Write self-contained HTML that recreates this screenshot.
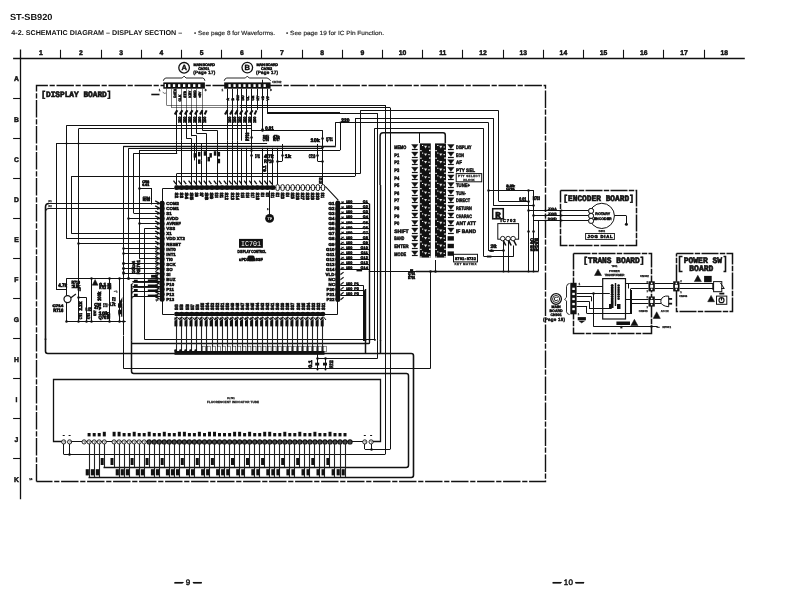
<!DOCTYPE html>
<html><head><meta charset="utf-8"><title>ST-SB920 Schematic Diagram - Display Section</title>
<style>
html,body{margin:0;padding:0;background:#fff;}
body{width:793px;height:596px;overflow:hidden;}
svg{display:block;will-change:transform;}
text{text-rendering:geometricPrecision;}
.s{font-family:"Liberation Sans",sans-serif;}
.m{font-family:"Liberation Mono",monospace;}
</style></head><body>
<svg width="793" height="596" viewBox="0 0 793 596">
<text x="9.9" y="20.2" font-size="8.8" font-weight="bold" text-anchor="start" class="s" fill="#111" stroke="#111" stroke-width="0" textLength="42.6" lengthAdjust="spacingAndGlyphs">ST-SB920</text>
<text x="11.3" y="34.9" font-size="7.0" font-weight="bold" text-anchor="start" class="s" fill="#111" stroke="#111" stroke-width="0" textLength="171" lengthAdjust="spacingAndGlyphs">4-2.  SCHEMATIC DIAGRAM  – DISPLAY SECTION –</text>
<text x="194.0" y="34.7" font-size="6.0" font-weight="normal" text-anchor="start" class="s" fill="#222" stroke="#222" stroke-width="0.15" textLength="81" lengthAdjust="spacingAndGlyphs">• See page 8 for Waveforms.</text>
<text x="286.0" y="34.7" font-size="6.0" font-weight="normal" text-anchor="start" class="s" fill="#222" stroke="#222" stroke-width="0.15" textLength="98" lengthAdjust="spacingAndGlyphs">• See page 19 for IC Pin Function.</text>
<path d="M13.1 58.5L744.8 58.5" stroke="#111" stroke-width="1.3" fill="none" />
<path d="M20.5 49.6L20.5 499.2" stroke="#111" stroke-width="1.3" fill="none" />
<path d="M60.5 49.8L60.5 58.2" stroke="#111" stroke-width="1.1" fill="none" />
<path d="M101.5 49.8L101.5 58.2" stroke="#111" stroke-width="1.1" fill="none" />
<path d="M141.5 49.8L141.5 58.2" stroke="#111" stroke-width="1.1" fill="none" />
<path d="M181.5 49.8L181.5 58.2" stroke="#111" stroke-width="1.1" fill="none" />
<path d="M221.5 49.8L221.5 58.2" stroke="#111" stroke-width="1.1" fill="none" />
<path d="M261.5 49.8L261.5 58.2" stroke="#111" stroke-width="1.1" fill="none" />
<path d="M302.5 49.8L302.5 58.2" stroke="#111" stroke-width="1.1" fill="none" />
<path d="M342.5 49.8L342.5 58.2" stroke="#111" stroke-width="1.1" fill="none" />
<path d="M382.5 49.8L382.5 58.2" stroke="#111" stroke-width="1.1" fill="none" />
<path d="M422.5 49.8L422.5 58.2" stroke="#111" stroke-width="1.1" fill="none" />
<path d="M462.5 49.8L462.5 58.2" stroke="#111" stroke-width="1.1" fill="none" />
<path d="M503.5 49.8L503.5 58.2" stroke="#111" stroke-width="1.1" fill="none" />
<path d="M543.5 49.8L543.5 58.2" stroke="#111" stroke-width="1.1" fill="none" />
<path d="M583.5 49.8L583.5 58.2" stroke="#111" stroke-width="1.1" fill="none" />
<path d="M623.5 49.8L623.5 58.2" stroke="#111" stroke-width="1.1" fill="none" />
<path d="M663.5 49.8L663.5 58.2" stroke="#111" stroke-width="1.1" fill="none" />
<path d="M704.5 49.8L704.5 58.2" stroke="#111" stroke-width="1.1" fill="none" />
<text x="40.8" y="55.2" font-size="6.8" font-weight="bold" text-anchor="middle" class="s" fill="#111" stroke="#111" stroke-width="0.45" >1</text>
<text x="81.0" y="55.2" font-size="6.8" font-weight="bold" text-anchor="middle" class="s" fill="#111" stroke="#111" stroke-width="0.45" >2</text>
<text x="121.2" y="55.2" font-size="6.8" font-weight="bold" text-anchor="middle" class="s" fill="#111" stroke="#111" stroke-width="0.45" >3</text>
<text x="161.4" y="55.2" font-size="6.8" font-weight="bold" text-anchor="middle" class="s" fill="#111" stroke="#111" stroke-width="0.45" >4</text>
<text x="201.6" y="55.2" font-size="6.8" font-weight="bold" text-anchor="middle" class="s" fill="#111" stroke="#111" stroke-width="0.45" >5</text>
<text x="241.8" y="55.2" font-size="6.8" font-weight="bold" text-anchor="middle" class="s" fill="#111" stroke="#111" stroke-width="0.45" >6</text>
<text x="282.0" y="55.2" font-size="6.8" font-weight="bold" text-anchor="middle" class="s" fill="#111" stroke="#111" stroke-width="0.45" >7</text>
<text x="322.2" y="55.2" font-size="6.8" font-weight="bold" text-anchor="middle" class="s" fill="#111" stroke="#111" stroke-width="0.45" >8</text>
<text x="362.4" y="55.2" font-size="6.8" font-weight="bold" text-anchor="middle" class="s" fill="#111" stroke="#111" stroke-width="0.45" >9</text>
<text x="402.6" y="55.2" font-size="6.8" font-weight="bold" text-anchor="middle" class="s" fill="#111" stroke="#111" stroke-width="0.45" >10</text>
<text x="442.8" y="55.2" font-size="6.8" font-weight="bold" text-anchor="middle" class="s" fill="#111" stroke="#111" stroke-width="0.45" >11</text>
<text x="483.0" y="55.2" font-size="6.8" font-weight="bold" text-anchor="middle" class="s" fill="#111" stroke="#111" stroke-width="0.45" >12</text>
<text x="523.2" y="55.2" font-size="6.8" font-weight="bold" text-anchor="middle" class="s" fill="#111" stroke="#111" stroke-width="0.45" >13</text>
<text x="563.4" y="55.2" font-size="6.8" font-weight="bold" text-anchor="middle" class="s" fill="#111" stroke="#111" stroke-width="0.45" >14</text>
<text x="603.6" y="55.2" font-size="6.8" font-weight="bold" text-anchor="middle" class="s" fill="#111" stroke="#111" stroke-width="0.45" >15</text>
<text x="643.8" y="55.2" font-size="6.8" font-weight="bold" text-anchor="middle" class="s" fill="#111" stroke="#111" stroke-width="0.45" >16</text>
<text x="684.0" y="55.2" font-size="6.8" font-weight="bold" text-anchor="middle" class="s" fill="#111" stroke="#111" stroke-width="0.45" >17</text>
<text x="724.2" y="55.2" font-size="6.8" font-weight="bold" text-anchor="middle" class="s" fill="#111" stroke="#111" stroke-width="0.45" >18</text>
<path d="M13.1 98.5L20.7 98.5" stroke="#111" stroke-width="1.1" fill="none" />
<path d="M13.1 138.5L20.7 138.5" stroke="#111" stroke-width="1.1" fill="none" />
<path d="M13.1 178.5L20.7 178.5" stroke="#111" stroke-width="1.1" fill="none" />
<path d="M13.1 218.5L20.7 218.5" stroke="#111" stroke-width="1.1" fill="none" />
<path d="M13.1 258.5L20.7 258.5" stroke="#111" stroke-width="1.1" fill="none" />
<path d="M13.1 298.5L20.7 298.5" stroke="#111" stroke-width="1.1" fill="none" />
<path d="M13.1 338.5L20.7 338.5" stroke="#111" stroke-width="1.1" fill="none" />
<path d="M13.1 378.5L20.7 378.5" stroke="#111" stroke-width="1.1" fill="none" />
<path d="M13.1 418.5L20.7 418.5" stroke="#111" stroke-width="1.1" fill="none" />
<path d="M13.1 458.5L20.7 458.5" stroke="#111" stroke-width="1.1" fill="none" />
<text x="16.4" y="81.4" font-size="6.8" font-weight="bold" text-anchor="middle" class="s" fill="#111" stroke="#111" stroke-width="0.45" >A</text>
<text x="16.4" y="121.5" font-size="6.8" font-weight="bold" text-anchor="middle" class="s" fill="#111" stroke="#111" stroke-width="0.45" >B</text>
<text x="16.4" y="161.6" font-size="6.8" font-weight="bold" text-anchor="middle" class="s" fill="#111" stroke="#111" stroke-width="0.45" >C</text>
<text x="16.4" y="201.7" font-size="6.8" font-weight="bold" text-anchor="middle" class="s" fill="#111" stroke="#111" stroke-width="0.45" >D</text>
<text x="16.4" y="241.8" font-size="6.8" font-weight="bold" text-anchor="middle" class="s" fill="#111" stroke="#111" stroke-width="0.45" >E</text>
<text x="16.4" y="281.8" font-size="6.8" font-weight="bold" text-anchor="middle" class="s" fill="#111" stroke="#111" stroke-width="0.45" >F</text>
<text x="16.4" y="321.9" font-size="6.8" font-weight="bold" text-anchor="middle" class="s" fill="#111" stroke="#111" stroke-width="0.45" >G</text>
<text x="16.4" y="362.0" font-size="6.8" font-weight="bold" text-anchor="middle" class="s" fill="#111" stroke="#111" stroke-width="0.45" >H</text>
<text x="16.4" y="402.1" font-size="6.8" font-weight="bold" text-anchor="middle" class="s" fill="#111" stroke="#111" stroke-width="0.45" >I</text>
<text x="16.4" y="442.2" font-size="6.8" font-weight="bold" text-anchor="middle" class="s" fill="#111" stroke="#111" stroke-width="0.45" >J</text>
<text x="16.4" y="482.2" font-size="6.8" font-weight="bold" text-anchor="middle" class="s" fill="#111" stroke="#111" stroke-width="0.45" >K</text>
<text x="188.1" y="584.8" font-size="8" font-weight="normal" text-anchor="middle" class="s" fill="#111" stroke="#111" stroke-width="0.45" textLength="27">— 9 —</text>
<path d="M174.6 582.5L183.6 582.5" stroke="#111" stroke-width="1.1" fill="none" />
<path d="M192.8 582.5L201.8 582.5" stroke="#111" stroke-width="1.1" fill="none" />
<text x="568.3" y="584.8" font-size="8" font-weight="normal" text-anchor="middle" class="s" fill="#111" stroke="#111" stroke-width="0.45" textLength="31">— 10 —</text>
<path d="M552.7 582.5L561.7 582.5" stroke="#111" stroke-width="1.1" fill="none" />
<path d="M575.2 582.5L584.2 582.5" stroke="#111" stroke-width="1.1" fill="none" />
<path d="M36.5 481.5L36.5 85.5L545.5 85.5L545.5 481.5L36.5 481.5" stroke="#111" stroke-width="1.4" fill="none" stroke-dasharray="17.4 1.7 5.2 1.7"/>
<text x="41.3" y="97.2" font-size="7.8" font-weight="bold" class="m" fill="#111" stroke="#111" stroke-width="0.6" transform="translate(0 97.2) scale(1 1.08) translate(0 -97.2)">[DISPLAY BOARD]</text>
<rect x="163.3" y="82.4" width="41.6" height="6.3" fill="#111" stroke="none" stroke-width="0" rx="0"/>
<rect x="168.1" y="84.2" width="2.3" height="2.8" fill="#fff" stroke="none" stroke-width="0" rx="0"/>
<rect x="172.9" y="84.2" width="2.3" height="2.8" fill="#fff" stroke="none" stroke-width="0" rx="0"/>
<rect x="178.0" y="84.2" width="2.3" height="2.8" fill="#fff" stroke="none" stroke-width="0" rx="0"/>
<rect x="183.0" y="84.2" width="2.3" height="2.8" fill="#fff" stroke="none" stroke-width="0" rx="0"/>
<rect x="188.0" y="84.2" width="2.3" height="2.8" fill="#fff" stroke="none" stroke-width="0" rx="0"/>
<rect x="193.1" y="84.2" width="2.3" height="2.8" fill="#fff" stroke="none" stroke-width="0" rx="0"/>
<rect x="198.1" y="84.2" width="2.3" height="2.8" fill="#fff" stroke="none" stroke-width="0" rx="0"/>
<rect x="164.7" y="84.0" width="1.3" height="3.2" fill="#fff" stroke="none" stroke-width="0" rx="0"/>
<path d="M163.3 80.8L164.2 78.9L165.9 78.0L182.2 78.0L184.1 76.1L186.0 78.0L202.8 78.0L204.3 78.9L204.9 80.8" stroke="#111" stroke-width="0.9" fill="none" />
<circle cx="184.1" cy="67.8" r="5.30" fill="#fff" stroke="#111" stroke-width="1.3"/>
<text x="184.1" y="70.3" font-size="7.5" font-weight="bold" text-anchor="middle" class="s" fill="#111" stroke="#111" stroke-width="0.4" >A</text>
<text x="193.6" y="65.7" font-size="3.8" font-weight="bold" text-anchor="start" class="s" fill="#111" stroke="#111" stroke-width="0.45" textLength="21.5">MAIN BOARD</text>
<text x="198.3" y="69.5" font-size="3.8" font-weight="bold" text-anchor="start" class="s" fill="#111" stroke="#111" stroke-width="0.45" textLength="11">CN701</text>
<text x="193.2" y="74.4" font-size="4.6" font-weight="bold" text-anchor="start" class="s" fill="#111" stroke="#111" stroke-width="0.4" textLength="22">(Page 17)</text>
<path d="M166.5 88.8L166.5 105.1" stroke="#111" stroke-width="0.55" fill="none" />
<path d="M166.5 105.5L240.0 105.5" stroke="#111" stroke-width="0.55" fill="none" />
<path d="M171.5 88.8L171.5 107.9" stroke="#111" stroke-width="0.55" fill="none" />
<path d="M171.5 107.5L240.0 107.5" stroke="#111" stroke-width="0.55" fill="none" />
<path d="M176.5 88.8L176.5 109.9" stroke="#111" stroke-width="0.55" fill="none" />
<path d="M181.5 88.8L181.5 109.9" stroke="#111" stroke-width="0.55" fill="none" />
<path d="M186.5 88.8L186.5 109.9" stroke="#111" stroke-width="0.55" fill="none" />
<path d="M191.5 88.8L191.5 109.9" stroke="#111" stroke-width="0.55" fill="none" />
<path d="M196.5 88.8L196.5 109.9" stroke="#111" stroke-width="0.55" fill="none" />
<path d="M202.5 88.8L202.5 109.9" stroke="#111" stroke-width="0.55" fill="none" />
<text x="159.5" y="90.9" font-size="3" font-weight="bold" text-anchor="middle" class="s" fill="#111" stroke="#111" stroke-width="0.25" >1</text>
<text x="205.6" y="90.9" font-size="3" font-weight="bold" text-anchor="middle" class="s" fill="#111" stroke="#111" stroke-width="0.25" >8</text>
<path d="M151.3 94.5L159.5 94.5" stroke="#111" stroke-width="1.6" fill="none" />
<path d="M162.7 92.2L164.6 93.4L165.9 93.0" stroke="#111" stroke-width="0.6" fill="none" />
<text transform="translate(175.8 97.8) rotate(-90)" font-size="3.4" font-weight="bold" class="s" fill="#111" stroke="#111" stroke-width="0.6">DATA</text>
<text transform="translate(180.9 101.6) rotate(-90)" font-size="3.4" font-weight="bold" class="s" fill="#111" stroke="#111" stroke-width="0.6">CLK</text>
<text transform="translate(185.9 97.8) rotate(-90)" font-size="3.4" font-weight="bold" class="s" fill="#111" stroke="#111" stroke-width="0.6">STB</text>
<text transform="translate(190.9 97.8) rotate(-90)" font-size="3.4" font-weight="bold" class="s" fill="#111" stroke="#111" stroke-width="0.6">KEY</text>
<text transform="translate(196.0 97.8) rotate(-90)" font-size="3.4" font-weight="bold" class="s" fill="#111" stroke="#111" stroke-width="0.6">GND</text>
<text transform="translate(201.0 97.8) rotate(-90)" font-size="3.4" font-weight="bold" class="s" fill="#111" stroke="#111" stroke-width="0.6">+5V</text>
<path d="M176.5 109.9L176.5 140.7" stroke="#111" stroke-width="1.0" fill="none" />
<path d="M174.8 114.5L177.3 110.2" stroke="#111" stroke-width="2.2" fill="none" />
<text transform="translate(180.6 123.1) rotate(-90)" font-size="4.0" font-weight="bold" class="s" fill="#111" stroke="#111" stroke-width="0.6">100</text>
<path d="M181.5 109.9L181.5 140.7" stroke="#111" stroke-width="1.0" fill="none" />
<path d="M179.8 114.5L182.4 110.2" stroke="#111" stroke-width="2.2" fill="none" />
<text transform="translate(185.6 123.1) rotate(-90)" font-size="4.0" font-weight="bold" class="s" fill="#111" stroke="#111" stroke-width="0.6">100</text>
<path d="M186.5 109.9L186.5 138.7" stroke="#111" stroke-width="1.0" fill="none" />
<path d="M184.9 114.5L187.4 110.2" stroke="#111" stroke-width="2.2" fill="none" />
<text transform="translate(190.7 123.1) rotate(-90)" font-size="4.0" font-weight="bold" class="s" fill="#111" stroke="#111" stroke-width="0.6">100</text>
<path d="M191.5 109.9L191.5 136.2" stroke="#111" stroke-width="1.0" fill="none" />
<path d="M189.9 114.5L192.5 110.2" stroke="#111" stroke-width="2.2" fill="none" />
<text transform="translate(195.7 123.1) rotate(-90)" font-size="4.0" font-weight="bold" class="s" fill="#111" stroke="#111" stroke-width="0.6">100</text>
<path d="M196.5 109.9L196.5 133.4" stroke="#111" stroke-width="1.0" fill="none" />
<path d="M195.0 114.5L197.5 110.2" stroke="#111" stroke-width="2.2" fill="none" />
<text transform="translate(200.8 123.1) rotate(-90)" font-size="4.0" font-weight="bold" class="s" fill="#111" stroke="#111" stroke-width="0.6">100</text>
<path d="M202.5 109.9L202.5 130.5" stroke="#111" stroke-width="1.0" fill="none" />
<path d="M200.0 114.5L202.5 110.2" stroke="#111" stroke-width="2.2" fill="none" />
<text transform="translate(205.8 123.1) rotate(-90)" font-size="4.0" font-weight="bold" class="s" fill="#111" stroke="#111" stroke-width="0.6">100</text>
<path d="M204.6 114.5L206.6 110.4" stroke="#111" stroke-width="2.0" fill="none" />
<rect x="224.2" y="82.4" width="46.4" height="6.3" fill="#111" stroke="none" stroke-width="0" rx="0"/>
<rect x="228.4" y="84.2" width="2.3" height="2.8" fill="#fff" stroke="none" stroke-width="0" rx="0"/>
<rect x="233.4" y="84.2" width="2.3" height="2.8" fill="#fff" stroke="none" stroke-width="0" rx="0"/>
<rect x="238.5" y="84.2" width="2.3" height="2.8" fill="#fff" stroke="none" stroke-width="0" rx="0"/>
<rect x="243.3" y="84.2" width="2.3" height="2.8" fill="#fff" stroke="none" stroke-width="0" rx="0"/>
<rect x="248.3" y="84.2" width="2.3" height="2.8" fill="#fff" stroke="none" stroke-width="0" rx="0"/>
<rect x="253.4" y="84.2" width="2.3" height="2.8" fill="#fff" stroke="none" stroke-width="0" rx="0"/>
<rect x="258.4" y="84.2" width="2.3" height="2.8" fill="#fff" stroke="none" stroke-width="0" rx="0"/>
<rect x="263.5" y="84.2" width="2.3" height="2.8" fill="#fff" stroke="none" stroke-width="0" rx="0"/>
<path d="M224.2 80.8L225.1 78.9L226.8 78.0L245.4 78.0L247.3 76.1L249.2 78.0L267.1 78.0L269.3 79.2L270.6 80.8" stroke="#111" stroke-width="0.9" fill="none" />
<circle cx="247.3" cy="67.6" r="5.30" fill="#fff" stroke="#111" stroke-width="1.3"/>
<text x="247.3" y="70.1" font-size="7.5" font-weight="bold" text-anchor="middle" class="s" fill="#111" stroke="#111" stroke-width="0.4" >B</text>
<text x="256.4" y="65.7" font-size="3.8" font-weight="bold" text-anchor="start" class="s" fill="#111" stroke="#111" stroke-width="0.45" textLength="21.5">MAIN BOARD</text>
<text x="261.1" y="69.5" font-size="3.8" font-weight="bold" text-anchor="start" class="s" fill="#111" stroke="#111" stroke-width="0.45" textLength="11">CN702</text>
<text x="256.1" y="74.4" font-size="4.6" font-weight="bold" text-anchor="start" class="s" fill="#111" stroke="#111" stroke-width="0.4" textLength="22">(Page 17)</text>
<text x="272.2" y="83.0" font-size="3.0" font-weight="bold" text-anchor="start" class="s" fill="#111" stroke="#111" stroke-width="0.25" >CN702</text>
<text x="222.3" y="90.9" font-size="3" font-weight="bold" text-anchor="middle" class="s" fill="#111" stroke="#111" stroke-width="0.25" >1</text>
<text x="270.9" y="90.9" font-size="3" font-weight="bold" text-anchor="middle" class="s" fill="#111" stroke="#111" stroke-width="0.25" >9</text>
<text transform="translate(228.7 100.4) rotate(-90)" font-size="3.4" font-weight="bold" class="s" fill="#111" stroke="#111" stroke-width="0.6">A</text>
<text transform="translate(233.7 100.4) rotate(-90)" font-size="3.4" font-weight="bold" class="s" fill="#111" stroke="#111" stroke-width="0.6">B</text>
<text transform="translate(238.7 100.4) rotate(-90)" font-size="3.4" font-weight="bold" class="s" fill="#111" stroke="#111" stroke-width="0.6">SW</text>
<text transform="translate(243.5 100.4) rotate(-90)" font-size="3.4" font-weight="bold" class="s" fill="#111" stroke="#111" stroke-width="0.6">DO</text>
<text transform="translate(248.6 100.4) rotate(-90)" font-size="3.4" font-weight="bold" class="s" fill="#111" stroke="#111" stroke-width="0.6">CL</text>
<text transform="translate(253.6 100.4) rotate(-90)" font-size="3.4" font-weight="bold" class="s" fill="#111" stroke="#111" stroke-width="0.6">CE</text>
<text transform="translate(258.7 100.4) rotate(-90)" font-size="3.4" font-weight="bold" class="s" fill="#111" stroke="#111" stroke-width="0.6">KY</text>
<text transform="translate(263.7 100.4) rotate(-90)" font-size="3.4" font-weight="bold" class="s" fill="#111" stroke="#111" stroke-width="0.6">+B</text>
<text transform="translate(268.8 100.4) rotate(-90)" font-size="3.4" font-weight="bold" class="s" fill="#111" stroke="#111" stroke-width="0.6">VF</text>
<path d="M227.5 88.8L227.5 140.7" stroke="#111" stroke-width="1.0" fill="none" />
<path d="M225.0 114.5L227.5 110.2" stroke="#111" stroke-width="2.2" fill="none" />
<text transform="translate(230.8 123.1) rotate(-90)" font-size="4.0" font-weight="bold" class="s" fill="#111" stroke="#111" stroke-width="0.6">100</text>
<path d="M232.5 88.8L232.5 140.7" stroke="#111" stroke-width="1.0" fill="none" />
<path d="M230.0 114.5L232.6 110.2" stroke="#111" stroke-width="2.2" fill="none" />
<text transform="translate(235.8 123.1) rotate(-90)" font-size="4.0" font-weight="bold" class="s" fill="#111" stroke="#111" stroke-width="0.6">100</text>
<path d="M237.5 88.8L237.5 140.7" stroke="#111" stroke-width="1.0" fill="none" />
<path d="M235.1 114.5L237.6 110.2" stroke="#111" stroke-width="2.2" fill="none" />
<text transform="translate(240.9 123.1) rotate(-90)" font-size="4.0" font-weight="bold" class="s" fill="#111" stroke="#111" stroke-width="0.6">100</text>
<path d="M241.5 88.8L241.5 140.7" stroke="#111" stroke-width="1.0" fill="none" />
<path d="M239.9 114.5L242.4 110.2" stroke="#111" stroke-width="2.2" fill="none" />
<text transform="translate(245.7 123.1) rotate(-90)" font-size="4.0" font-weight="bold" class="s" fill="#111" stroke="#111" stroke-width="0.6">100</text>
<path d="M246.5 88.8L246.5 140.7" stroke="#111" stroke-width="1.0" fill="none" />
<path d="M244.9 114.5L247.4 110.2" stroke="#111" stroke-width="2.2" fill="none" />
<text transform="translate(250.7 123.1) rotate(-90)" font-size="4.0" font-weight="bold" class="s" fill="#111" stroke="#111" stroke-width="0.6">100</text>
<path d="M251.5 88.8L251.5 140.7" stroke="#111" stroke-width="1.0" fill="none" />
<path d="M250.0 114.5L252.5 110.2" stroke="#111" stroke-width="2.2" fill="none" />
<text transform="translate(255.8 123.1) rotate(-90)" font-size="4.0" font-weight="bold" class="s" fill="#111" stroke="#111" stroke-width="0.6">100</text>
<path d="M254.5 114.5L256.5 110.4" stroke="#111" stroke-width="2.0" fill="none" />
<path d="M257.5 88.8L257.5 109.8" stroke="#111" stroke-width="1.0" fill="none" />
<path d="M262.5 88.8L262.5 130.0" stroke="#111" stroke-width="1.0" fill="none" />
<circle cx="262.5" cy="129.5" r="1.25" fill="#111" stroke="none" stroke-width="0"/>
<path d="M267.5 88.8L267.5 113.0" stroke="#111" stroke-width="1.0" fill="none" />
<path d="M267.1 112.5L340.0 112.5" stroke="#111" stroke-width="1.0" fill="none" />
<path d="M240.0 105.5L385.5 105.5" stroke="#111" stroke-width="1.0" fill="none" />
<path d="M240.0 107.5L390.3 107.5" stroke="#111" stroke-width="1.0" fill="none" />
<path d="M66.2 125.5L140.0 125.5" stroke="#111" stroke-width="1.0" fill="none" />
<path d="M66.5 125.8L66.5 185.0" stroke="#111" stroke-width="1.0" fill="none" />
<path d="M78.8 128.5L140.0 128.5" stroke="#111" stroke-width="1.0" fill="none" />
<path d="M78.5 128.5L78.5 185.0" stroke="#111" stroke-width="1.0" fill="none" />
<path d="M56.1 143.5L140.0 143.5" stroke="#111" stroke-width="1.0" fill="none" />
<path d="M56.5 143.4L56.5 185.0" stroke="#111" stroke-width="1.0" fill="none" />
<path d="M123.2 146.5L140.0 146.5" stroke="#111" stroke-width="1.3" fill="none" />
<path d="M123.5 146.3L123.5 185.0" stroke="#111" stroke-width="1.0" fill="none" />
<path d="M128.3 148.5L140.0 148.5" stroke="#111" stroke-width="1.0" fill="none" />
<path d="M128.5 148.5L128.5 185.0" stroke="#111" stroke-width="1.0" fill="none" />
<path d="M139.0 150.5L140.0 150.5" stroke="#111" stroke-width="1.0" fill="none" />
<path d="M133.3 153.5L140.0 153.5" stroke="#111" stroke-width="1.0" fill="none" />
<path d="M133.5 153.5L133.5 185.0" stroke="#111" stroke-width="1.0" fill="none" />
<path d="M71.3 176.5L140.0 176.5" stroke="#111" stroke-width="1.0" fill="none" />
<path d="M71.5 176.2L71.5 185.0" stroke="#111" stroke-width="1.0" fill="none" />
<circle cx="66.5" cy="143.5" r="1.00" fill="#111" stroke="none" stroke-width="0"/>
<circle cx="78.5" cy="143.5" r="1.00" fill="#111" stroke="none" stroke-width="0"/>
<path d="M140.0 125.5L240.0 125.5" stroke="#111" stroke-width="1.0" fill="none" />
<path d="M140.0 128.5L240.0 128.5" stroke="#111" stroke-width="1.0" fill="none" />
<path d="M140.0 143.5L240.0 143.5" stroke="#111" stroke-width="1.0" fill="none" />
<path d="M140.0 146.5L240.0 146.5" stroke="#111" stroke-width="1.3" fill="none" />
<path d="M140.0 148.5L240.0 148.5" stroke="#111" stroke-width="1.0" fill="none" />
<path d="M140.0 150.5L240.0 150.5" stroke="#111" stroke-width="1.0" fill="none" />
<path d="M140.0 153.5L177.2 153.5" stroke="#111" stroke-width="1.0" fill="none" />
<path d="M176.5 140.6L176.5 153.5" stroke="#111" stroke-width="1.0" fill="none" />
<path d="M181.5 140.6L181.5 185.0" stroke="#111" stroke-width="1.0" fill="none" />
<path d="M186.5 138.5L191.5 138.5L191.5 185.5" stroke="#111" stroke-width="1.0" fill="none" />
<path d="M191.5 135.5L196.5 135.5L196.5 185.5" stroke="#111" stroke-width="1.0" fill="none" />
<path d="M196.5 133.5L206.5 133.5L206.5 185.5" stroke="#111" stroke-width="1.0" fill="none" />
<path d="M202.5 130.5L217.5 130.5L217.5 185.5" stroke="#111" stroke-width="1.0" fill="none" />
<path d="M194.5 143.4L194.5 160.4" stroke="#111" stroke-width="1.0" fill="none" />
<path d="M201.5 143.4L201.5 160.4" stroke="#111" stroke-width="1.0" fill="none" />
<path d="M176.6 173.5L240.0 173.5" stroke="#111" stroke-width="1.0" fill="none" />
<path d="M176.5 173.7L176.5 185.0" stroke="#111" stroke-width="1.0" fill="none" />
<path d="M140.0 176.5L240.0 176.5" stroke="#111" stroke-width="1.0" fill="none" />
<path d="M201.5 160.4L201.5 185.0" stroke="#111" stroke-width="1.0" fill="none" />
<path d="M227.5 140.6L227.5 185.0" stroke="#111" stroke-width="1.0" fill="none" />
<path d="M232.5 140.6L232.5 185.0" stroke="#111" stroke-width="1.0" fill="none" />
<path d="M237.5 140.6L237.5 185.0" stroke="#111" stroke-width="1.0" fill="none" />
<rect x="193.6" y="153.1" width="2.5" height="4.5" fill="#111" stroke="none" stroke-width="0" rx="0"/>
<rect x="198.0" y="151.9" width="2.5" height="4.5" fill="#111" stroke="none" stroke-width="0" rx="0"/>
<rect x="203.7" y="151.2" width="2.5" height="4.5" fill="#111" stroke="none" stroke-width="0" rx="0"/>
<rect x="209.4" y="153.1" width="2.5" height="4.5" fill="#111" stroke="none" stroke-width="0" rx="0"/>
<rect x="213.8" y="151.2" width="2.5" height="4.5" fill="#111" stroke="none" stroke-width="0" rx="0"/>
<rect x="217.6" y="151.9" width="2.5" height="4.5" fill="#111" stroke="none" stroke-width="0" rx="0"/>
<rect x="198.0" y="159.4" width="2.5" height="4.5" fill="#111" stroke="none" stroke-width="0" rx="0"/>
<rect x="207.5" y="156.9" width="2.5" height="4.5" fill="#111" stroke="none" stroke-width="0" rx="0"/>
<rect x="217.6" y="158.8" width="2.5" height="4.5" fill="#111" stroke="none" stroke-width="0" rx="0"/>
<path d="M267.1 113.5L340.0 113.5" stroke="#111" stroke-width="1.0" fill="none" />
<path d="M262.5 79.7L262.5 130.2" stroke="#111" stroke-width="1.0" fill="none" />
<path d="M252.0 130.5L322.6 130.5" stroke="#111" stroke-width="1.0" fill="none" />
<path d="M251.5 130.2L251.5 151.0" stroke="#111" stroke-width="1.0" fill="none" />
<path d="M322.5 130.2L322.5 185.0" stroke="#111" stroke-width="1.0" fill="none" />
<circle cx="262.5" cy="130.5" r="1.25" fill="#111" stroke="none" stroke-width="0"/>
<circle cx="251.5" cy="137.5" r="1.25" fill="#111" stroke="none" stroke-width="0"/>
<circle cx="322.5" cy="138.5" r="1.25" fill="#111" stroke="none" stroke-width="0"/>
<circle cx="322.5" cy="147.5" r="1.25" fill="#111" stroke="none" stroke-width="0"/>
<circle cx="322.5" cy="161.5" r="1.25" fill="#111" stroke="none" stroke-width="0"/>
<circle cx="251.5" cy="150.5" r="1.25" fill="#111" stroke="none" stroke-width="0"/>
<circle cx="251.5" cy="155.5" r="1.25" fill="#111" stroke="none" stroke-width="0"/>
<circle cx="266.5" cy="155.5" r="1.25" fill="#111" stroke="none" stroke-width="0"/>
<circle cx="272.5" cy="155.5" r="1.25" fill="#111" stroke="none" stroke-width="0"/>
<circle cx="282.5" cy="155.5" r="1.25" fill="#111" stroke="none" stroke-width="0"/>
<circle cx="317.5" cy="155.5" r="1.25" fill="#111" stroke="none" stroke-width="0"/>
<circle cx="277.5" cy="161.5" r="1.25" fill="#111" stroke="none" stroke-width="0"/>
<text x="265.2" y="129.7" font-size="5.2" font-weight="bold" class="s" fill="#111" stroke="#111" stroke-width="0.7" textLength="8.6" lengthAdjust="spacingAndGlyphs">0.01</text>
<path d="M335.2 122.5L340.0 122.5" stroke="#111" stroke-width="1.0" fill="none" />
<path d="M335.5 122.6L335.5 145.9" stroke="#111" stroke-width="1.0" fill="none" />
<path d="M240.0 143.5L267.1 143.5" stroke="#111" stroke-width="1.0" fill="none" />
<path d="M240.0 146.5L335.8 146.5" stroke="#111" stroke-width="1.3" fill="none" />
<path d="M240.0 148.5L322.6 148.5" stroke="#111" stroke-width="1.0" fill="none" />
<path d="M240.0 150.5L340.0 150.5" stroke="#111" stroke-width="1.0" fill="none" />
<path d="M240.0 173.5L340.0 173.5" stroke="#111" stroke-width="1.0" fill="none" />
<path d="M240.0 176.5L340.0 176.5" stroke="#111" stroke-width="1.0" fill="none" />
<path d="M241.5 147.8L241.5 185.0" stroke="#111" stroke-width="1.0" fill="none" />
<path d="M246.5 147.8L246.5 185.0" stroke="#111" stroke-width="1.0" fill="none" />
<path d="M251.5 147.8L251.5 185.0" stroke="#111" stroke-width="1.0" fill="none" />
<path d="M262.5 147.8L262.5 185.0" stroke="#111" stroke-width="1.0" fill="none" />
<path d="M267.5 147.8L267.5 185.0" stroke="#111" stroke-width="1.0" fill="none" />
<path d="M272.5 147.8L272.5 185.0" stroke="#111" stroke-width="1.0" fill="none" />
<path d="M277.5 147.8L277.5 185.0" stroke="#111" stroke-width="1.0" fill="none" />
<path d="M282.5 144.0L282.5 161.1" stroke="#111" stroke-width="1.0" fill="none" />
<path d="M277.2 161.5L282.2 161.5" stroke="#111" stroke-width="1.0" fill="none" />
<path d="M317.5 144.0L317.5 161.1" stroke="#111" stroke-width="1.0" fill="none" />
<path d="M317.6 161.5L322.6 161.5" stroke="#111" stroke-width="1.0" fill="none" />
<text transform="translate(248.7 140.9) rotate(-90)" font-size="5.0" font-weight="bold" class="s" fill="#111" stroke="#111" stroke-width="0.7" textLength="8.2" lengthAdjust="spacingAndGlyphs">R703</text>
<text x="262.7" y="137.9" font-size="4.3" font-weight="bold" class="s" fill="#111" stroke="#111" stroke-width="0.7" textLength="6.3" lengthAdjust="spacingAndGlyphs">100k</text>
<text x="262.7" y="141.3" font-size="4.3" font-weight="bold" class="s" fill="#111" stroke="#111" stroke-width="0.7" textLength="6.3" lengthAdjust="spacingAndGlyphs">C705</text>
<text x="273.0" y="137.9" font-size="4.3" font-weight="bold" class="s" fill="#111" stroke="#111" stroke-width="0.7" textLength="6.7" lengthAdjust="spacingAndGlyphs">47p</text>
<text x="273.0" y="141.3" font-size="4.3" font-weight="bold" class="s" fill="#111" stroke="#111" stroke-width="0.7" textLength="6.7" lengthAdjust="spacingAndGlyphs">R707</text>
<text x="310.6" y="142.3" font-size="5.2" font-weight="bold" class="s" fill="#111" stroke="#111" stroke-width="0.7" textLength="9.1" lengthAdjust="spacingAndGlyphs">10k</text>
<text x="326.0" y="141.1" font-size="5.2" font-weight="bold" class="s" fill="#111" stroke="#111" stroke-width="0.7" textLength="6.7" lengthAdjust="spacingAndGlyphs">Q701</text>
<text x="255.1" y="158.3" font-size="5.2" font-weight="bold" class="s" fill="#111" stroke="#111" stroke-width="0.7" textLength="4.8" lengthAdjust="spacingAndGlyphs">D701</text>
<text x="264.0" y="158.3" font-size="5.0" font-weight="bold" class="s" fill="#111" stroke="#111" stroke-width="0.7" textLength="9.5" lengthAdjust="spacingAndGlyphs">4.7k</text>
<text x="264.0" y="163.4" font-size="5.0" font-weight="bold" class="s" fill="#111" stroke="#111" stroke-width="0.7" textLength="9.5" lengthAdjust="spacingAndGlyphs">R710</text>
<text x="284.8" y="158.3" font-size="5.2" font-weight="bold" class="s" fill="#111" stroke="#111" stroke-width="0.7" textLength="6.3" lengthAdjust="spacingAndGlyphs">1k</text>
<text x="308.7" y="158.3" font-size="5.2" font-weight="bold" class="s" fill="#111" stroke="#111" stroke-width="0.7" textLength="6.7" lengthAdjust="spacingAndGlyphs">C710</text>
<text transform="translate(266.0 171.8) rotate(-90)" font-size="4.1" font-weight="bold" class="s" fill="#111" stroke="#111" stroke-width="0.7" textLength="6.3" lengthAdjust="spacingAndGlyphs">0.1</text>
<text transform="translate(321.5 183.8) rotate(-90)" font-size="4.1" font-weight="bold" class="s" fill="#111" stroke="#111" stroke-width="0.7" textLength="6.3" lengthAdjust="spacingAndGlyphs">R712</text>
<path d="M360.2 110.5L440.0 110.5" stroke="#111" stroke-width="1.1" fill="none" />
<path d="M360.5 110.6L360.5 173.7" stroke="#111" stroke-width="1.0" fill="none" />
<path d="M340.0 173.5L360.2 173.5" stroke="#111" stroke-width="1.0" fill="none" />
<path d="M340.0 113.5L377.6 113.5" stroke="#111" stroke-width="1.0" fill="none" />
<path d="M377.5 113.2L377.5 185.0" stroke="#111" stroke-width="1.0" fill="none" />
<path d="M355.1 118.5L440.0 118.5" stroke="#111" stroke-width="1.0" fill="none" />
<path d="M355.5 118.2L355.5 176.2" stroke="#111" stroke-width="1.0" fill="none" />
<path d="M340.0 176.5L355.1 176.5" stroke="#111" stroke-width="1.0" fill="none" />
<path d="M340.0 122.5L440.0 122.5" stroke="#111" stroke-width="1.0" fill="none" />
<text x="341.3" y="122.4" font-size="5.2" font-weight="bold" class="s" fill="#111" stroke="#111" stroke-width="0.7" textLength="8.2" lengthAdjust="spacingAndGlyphs">220</text>
<path d="M374.7 128.5L440.0 128.5" stroke="#111" stroke-width="1.0" fill="none" />
<path d="M374.5 128.3L374.5 185.0" stroke="#111" stroke-width="1.0" fill="none" />
<path d="M385.5 105.1L385.5 186.0" stroke="#111" stroke-width="1.0" fill="none" />
<path d="M390.5 107.9L390.5 186.0" stroke="#111" stroke-width="1.0" fill="none" />
<path d="M340.5 122.6L340.5 150.2" stroke="#111" stroke-width="1.0" fill="none" />
<circle cx="340.5" cy="122.5" r="1.00" fill="#111" stroke="none" stroke-width="0"/>
<path d="M380.1 185.0L380.1 135.9Q380.1 132.8 383.1 132.8L440.0 132.8" stroke="#111" stroke-width="1.5" fill="none"/>
<path d="M419.5 132.8L419.5 143.0" stroke="#111" stroke-width="1.0" fill="none" />
<path d="M440.0 110.5L498.6 110.5" stroke="#111" stroke-width="1.1" fill="none" />
<path d="M498.5 110.6L498.5 185.0" stroke="#111" stroke-width="1.0" fill="none" />
<path d="M440.0 118.5L493.6 118.5" stroke="#111" stroke-width="1.0" fill="none" />
<path d="M493.5 118.2L493.5 185.0" stroke="#111" stroke-width="1.0" fill="none" />
<path d="M440.0 122.5L488.5 122.5" stroke="#111" stroke-width="1.0" fill="none" />
<path d="M488.5 122.6L488.5 185.0" stroke="#111" stroke-width="1.0" fill="none" />
<path d="M440.0 128.5L483.5 128.5" stroke="#111" stroke-width="1.0" fill="none" />
<path d="M483.5 128.3L483.5 185.0" stroke="#111" stroke-width="1.0" fill="none" />
<path d="M440.0 132.8L443.2 132.8Q445.3 132.8 445.3 135.2L445.3 143.0" stroke="#111" stroke-width="1.5" fill="none"/>
<path d="M240.0 125.5L252.0 125.5" stroke="#111" stroke-width="1.0" fill="none" />
<path d="M240.0 128.5L252.0 128.5" stroke="#111" stroke-width="1.0" fill="none" />
<path d="M45.5 340L45.5 207Q45.5 203.5 49 203.5" stroke="#111" stroke-width="1.6" fill="none"/>
<path d="M45.5 211Q46 208.5 49 208.5" stroke="#111" stroke-width="1.2" fill="none"/>
<path d="M48.6 203.5L140.0 203.5" stroke="#111" stroke-width="1.0" fill="none" />
<path d="M48.6 208.5L140.0 208.5" stroke="#111" stroke-width="1.0" fill="none" />
<text x="48.6" y="202.4" font-size="2.6" font-weight="bold" text-anchor="start" class="s" fill="#111" stroke="#111" stroke-width="0.25" >P1</text>
<text x="48.6" y="207.4" font-size="2.6" font-weight="bold" text-anchor="start" class="s" fill="#111" stroke="#111" stroke-width="0.25" >P2</text>
<path d="M56.5 185.0L56.5 260.0" stroke="#111" stroke-width="1.0" fill="none" />
<path d="M66.5 185.0L66.5 238.6" stroke="#111" stroke-width="1.0" fill="none" />
<path d="M66.2 238.5L140.0 238.5" stroke="#111" stroke-width="1.0" fill="none" />
<path d="M71.5 185.0L71.5 233.5" stroke="#111" stroke-width="1.0" fill="none" />
<path d="M71.3 233.5L140.0 233.5" stroke="#111" stroke-width="1.0" fill="none" />
<path d="M78.5 185.0L78.5 260.0" stroke="#111" stroke-width="1.0" fill="none" />
<circle cx="78.5" cy="243.5" r="1.25" fill="#111" stroke="none" stroke-width="0"/>
<path d="M78.8 243.5L140.0 243.5" stroke="#111" stroke-width="1.0" fill="none" />
<path d="M123.5 185.0L123.5 260.0" stroke="#111" stroke-width="1.0" fill="none" />
<circle cx="123.5" cy="248.5" r="1.25" fill="#111" stroke="none" stroke-width="0"/>
<circle cx="123.5" cy="253.5" r="1.25" fill="#111" stroke="none" stroke-width="0"/>
<circle cx="123.5" cy="238.5" r="0.90" fill="#111" stroke="none" stroke-width="0"/>
<path d="M123.9 248.5L140.0 248.5" stroke="#111" stroke-width="1.0" fill="none" />
<path d="M123.9 253.5L140.0 253.5" stroke="#111" stroke-width="1.0" fill="none" />
<path d="M128.5 185.0L128.5 260.0" stroke="#111" stroke-width="1.0" fill="none" />
<circle cx="128.5" cy="218.5" r="1.25" fill="#111" stroke="none" stroke-width="0"/>
<path d="M128.9 218.5L140.0 218.5" stroke="#111" stroke-width="1.0" fill="none" />
<path d="M133.5 185.0L133.5 213.4" stroke="#111" stroke-width="1.0" fill="none" />
<path d="M133.9 213.5L140.0 213.5" stroke="#111" stroke-width="1.0" fill="none" />
<path d="M174.5 188.5L162.5 188.5L162.5 314.5L174.5 314.5" stroke="#111" stroke-width="1.0" fill="none" />
<path d="M324.5 314.5L337.5 314.5L337.5 300.5" stroke="#111" stroke-width="1.0" fill="none" />
<path d="M324.5 186.5L325.8 186.9L338.2 200.1" stroke="#111" stroke-width="1.1" fill="none" />
<rect x="174.7" y="185.6" width="100.6" height="4.0" fill="#111" stroke="none" stroke-width="0" rx="0"/>
<path d="M275.0 187.5L325.0 187.5" stroke="#111" stroke-width="0.9" fill="none" />
<rect x="174.7" y="312.2" width="149.2" height="3.8" fill="#111" stroke="none" stroke-width="0" rx="0"/>
<rect x="159.9" y="200.8" width="4.4" height="100.2" fill="#111" stroke="none" stroke-width="0" rx="2"/>
<rect x="335.5" y="200.6" width="4.6" height="100.4" fill="#111" stroke="none" stroke-width="0" rx="2"/>
<text x="166.3" y="205.1" font-size="4.4" font-weight="bold" text-anchor="start" class="s" fill="#111" stroke="#111" stroke-width="0.5" >COM2</text>
<text x="158.6" y="204.1" font-size="2.6" font-weight="bold" text-anchor="end" class="s" fill="#111" stroke="#111" stroke-width="0.25" transform="rotate(-35 158.6 204.1)">1</text>
<circle cx="162.1" cy="203.5" r="2.50" fill="#111" stroke="none" stroke-width="0"/>
<text x="166.3" y="210.1" font-size="4.4" font-weight="bold" text-anchor="start" class="s" fill="#111" stroke="#111" stroke-width="0.5" >COM1</text>
<text x="158.6" y="209.1" font-size="2.6" font-weight="bold" text-anchor="end" class="s" fill="#111" stroke="#111" stroke-width="0.25" transform="rotate(-35 158.6 209.1)">2</text>
<circle cx="162.1" cy="208.5" r="2.50" fill="#111" stroke="none" stroke-width="0"/>
<text x="166.3" y="215.2" font-size="4.4" font-weight="bold" text-anchor="start" class="s" fill="#111" stroke="#111" stroke-width="0.5" >S1</text>
<text x="158.6" y="214.2" font-size="2.6" font-weight="bold" text-anchor="end" class="s" fill="#111" stroke="#111" stroke-width="0.25" transform="rotate(-35 158.6 214.2)">3</text>
<circle cx="162.1" cy="213.6" r="2.50" fill="#111" stroke="none" stroke-width="0"/>
<text x="166.3" y="220.2" font-size="4.4" font-weight="bold" text-anchor="start" class="s" fill="#111" stroke="#111" stroke-width="0.5" >AVDD</text>
<text x="158.6" y="219.2" font-size="2.6" font-weight="bold" text-anchor="end" class="s" fill="#111" stroke="#111" stroke-width="0.25" transform="rotate(-35 158.6 219.2)">4</text>
<circle cx="162.1" cy="218.6" r="2.50" fill="#111" stroke="none" stroke-width="0"/>
<text x="166.3" y="225.3" font-size="4.4" font-weight="bold" text-anchor="start" class="s" fill="#111" stroke="#111" stroke-width="0.5" >AVREF</text>
<text x="158.6" y="224.3" font-size="2.6" font-weight="bold" text-anchor="end" class="s" fill="#111" stroke="#111" stroke-width="0.25" transform="rotate(-35 158.6 224.3)">5</text>
<circle cx="162.1" cy="223.7" r="2.50" fill="#111" stroke="none" stroke-width="0"/>
<text x="166.3" y="230.3" font-size="4.4" font-weight="bold" text-anchor="start" class="s" fill="#111" stroke="#111" stroke-width="0.5" >VSS</text>
<text x="158.6" y="229.3" font-size="2.6" font-weight="bold" text-anchor="end" class="s" fill="#111" stroke="#111" stroke-width="0.25" transform="rotate(-35 158.6 229.3)">6</text>
<circle cx="162.1" cy="228.7" r="2.50" fill="#111" stroke="none" stroke-width="0"/>
<text x="166.3" y="235.4" font-size="4.4" font-weight="bold" text-anchor="start" class="s" fill="#111" stroke="#111" stroke-width="0.5" >X1</text>
<text x="158.6" y="234.4" font-size="2.6" font-weight="bold" text-anchor="end" class="s" fill="#111" stroke="#111" stroke-width="0.25" transform="rotate(-35 158.6 234.4)">7</text>
<circle cx="162.1" cy="233.8" r="2.50" fill="#111" stroke="none" stroke-width="0"/>
<text x="166.3" y="240.4" font-size="4.4" font-weight="bold" text-anchor="start" class="s" fill="#111" stroke="#111" stroke-width="0.5" >VDD  XT2</text>
<text x="158.6" y="239.4" font-size="2.6" font-weight="bold" text-anchor="end" class="s" fill="#111" stroke="#111" stroke-width="0.25" transform="rotate(-35 158.6 239.4)">8</text>
<circle cx="162.1" cy="238.8" r="2.50" fill="#111" stroke="none" stroke-width="0"/>
<text x="166.3" y="245.5" font-size="4.4" font-weight="bold" text-anchor="start" class="s" fill="#111" stroke="#111" stroke-width="0.5" >RESET</text>
<text x="158.6" y="244.5" font-size="2.6" font-weight="bold" text-anchor="end" class="s" fill="#111" stroke="#111" stroke-width="0.25" transform="rotate(-35 158.6 244.5)">9</text>
<circle cx="162.1" cy="243.9" r="2.50" fill="#111" stroke="none" stroke-width="0"/>
<text x="166.3" y="250.5" font-size="4.4" font-weight="bold" text-anchor="start" class="s" fill="#111" stroke="#111" stroke-width="0.5" >INT0</text>
<text x="158.6" y="249.5" font-size="2.6" font-weight="bold" text-anchor="end" class="s" fill="#111" stroke="#111" stroke-width="0.25" transform="rotate(-35 158.6 249.5)">10</text>
<circle cx="162.1" cy="248.9" r="2.50" fill="#111" stroke="none" stroke-width="0"/>
<text x="166.3" y="255.5" font-size="4.4" font-weight="bold" text-anchor="start" class="s" fill="#111" stroke="#111" stroke-width="0.5" >INT1</text>
<text x="158.6" y="254.5" font-size="2.6" font-weight="bold" text-anchor="end" class="s" fill="#111" stroke="#111" stroke-width="0.25" transform="rotate(-35 158.6 254.5)">11</text>
<circle cx="162.1" cy="253.9" r="2.50" fill="#111" stroke="none" stroke-width="0"/>
<text x="166.3" y="260.6" font-size="4.4" font-weight="bold" text-anchor="start" class="s" fill="#111" stroke="#111" stroke-width="0.5" >TI0</text>
<text x="158.6" y="259.6" font-size="2.6" font-weight="bold" text-anchor="end" class="s" fill="#111" stroke="#111" stroke-width="0.25" transform="rotate(-35 158.6 259.6)">12</text>
<circle cx="162.1" cy="259.0" r="2.50" fill="#111" stroke="none" stroke-width="0"/>
<text x="166.3" y="265.6" font-size="4.4" font-weight="bold" text-anchor="start" class="s" fill="#111" stroke="#111" stroke-width="0.5" >SCK</text>
<text x="158.6" y="264.6" font-size="2.6" font-weight="bold" text-anchor="end" class="s" fill="#111" stroke="#111" stroke-width="0.25" transform="rotate(-35 158.6 264.6)">13</text>
<circle cx="162.1" cy="264.0" r="2.50" fill="#111" stroke="none" stroke-width="0"/>
<text x="166.3" y="270.7" font-size="4.4" font-weight="bold" text-anchor="start" class="s" fill="#111" stroke="#111" stroke-width="0.5" >SO</text>
<text x="158.6" y="269.7" font-size="2.6" font-weight="bold" text-anchor="end" class="s" fill="#111" stroke="#111" stroke-width="0.25" transform="rotate(-35 158.6 269.7)">14</text>
<circle cx="162.1" cy="269.1" r="2.50" fill="#111" stroke="none" stroke-width="0"/>
<text x="166.3" y="275.7" font-size="4.4" font-weight="bold" text-anchor="start" class="s" fill="#111" stroke="#111" stroke-width="0.5" >SI</text>
<text x="158.6" y="274.7" font-size="2.6" font-weight="bold" text-anchor="end" class="s" fill="#111" stroke="#111" stroke-width="0.25" transform="rotate(-35 158.6 274.7)">15</text>
<circle cx="162.1" cy="274.1" r="2.50" fill="#111" stroke="none" stroke-width="0"/>
<text x="166.3" y="280.8" font-size="4.4" font-weight="bold" text-anchor="start" class="s" fill="#111" stroke="#111" stroke-width="0.5" >BUZ</text>
<text x="158.6" y="279.8" font-size="2.6" font-weight="bold" text-anchor="end" class="s" fill="#111" stroke="#111" stroke-width="0.25" transform="rotate(-35 158.6 279.8)">16</text>
<circle cx="162.1" cy="279.2" r="2.50" fill="#111" stroke="none" stroke-width="0"/>
<text x="166.3" y="285.8" font-size="4.4" font-weight="bold" text-anchor="start" class="s" fill="#111" stroke="#111" stroke-width="0.5" >P10</text>
<text x="158.6" y="284.8" font-size="2.6" font-weight="bold" text-anchor="end" class="s" fill="#111" stroke="#111" stroke-width="0.25" transform="rotate(-35 158.6 284.8)">17</text>
<circle cx="162.1" cy="284.2" r="2.50" fill="#111" stroke="none" stroke-width="0"/>
<text x="166.3" y="290.8" font-size="4.4" font-weight="bold" text-anchor="start" class="s" fill="#111" stroke="#111" stroke-width="0.5" >P11</text>
<text x="158.6" y="289.8" font-size="2.6" font-weight="bold" text-anchor="end" class="s" fill="#111" stroke="#111" stroke-width="0.25" transform="rotate(-35 158.6 289.8)">18</text>
<circle cx="162.1" cy="289.2" r="2.50" fill="#111" stroke="none" stroke-width="0"/>
<text x="166.3" y="295.9" font-size="4.4" font-weight="bold" text-anchor="start" class="s" fill="#111" stroke="#111" stroke-width="0.5" >P12</text>
<text x="158.6" y="294.9" font-size="2.6" font-weight="bold" text-anchor="end" class="s" fill="#111" stroke="#111" stroke-width="0.25" transform="rotate(-35 158.6 294.9)">19</text>
<circle cx="162.1" cy="294.3" r="2.50" fill="#111" stroke="none" stroke-width="0"/>
<text x="166.3" y="300.9" font-size="4.4" font-weight="bold" text-anchor="start" class="s" fill="#111" stroke="#111" stroke-width="0.5" >P13</text>
<text x="158.6" y="299.9" font-size="2.6" font-weight="bold" text-anchor="end" class="s" fill="#111" stroke="#111" stroke-width="0.25" transform="rotate(-35 158.6 299.9)">20</text>
<circle cx="162.1" cy="299.3" r="2.50" fill="#111" stroke="none" stroke-width="0"/>
<path d="M140.0 203.5L160.2 203.5" stroke="#111" stroke-width="1.0" fill="none" />
<path d="M140.0 208.5L160.2 208.5" stroke="#111" stroke-width="1.0" fill="none" />
<path d="M140.0 213.5L160.2 213.5" stroke="#111" stroke-width="1.0" fill="none" />
<path d="M140.0 218.5L160.2 218.5" stroke="#111" stroke-width="1.0" fill="none" />
<path d="M140.0 233.5L160.2 233.5" stroke="#111" stroke-width="1.0" fill="none" />
<path d="M140.0 238.5L160.2 238.5" stroke="#111" stroke-width="1.0" fill="none" />
<path d="M140.0 243.5L160.2 243.5" stroke="#111" stroke-width="1.0" fill="none" />
<path d="M140.0 248.5L160.2 248.5" stroke="#111" stroke-width="1.0" fill="none" />
<path d="M140.0 253.5L160.2 253.5" stroke="#111" stroke-width="1.0" fill="none" />
<path d="M140.0 258.5L160.2 258.5" stroke="#111" stroke-width="1.0" fill="none" />
<path d="M144.4 228.5L160.2 228.5" stroke="#111" stroke-width="1.0" fill="none" />
<path d="M144.5 228.5L144.5 336.3" stroke="#111" stroke-width="1.0" fill="none" />
<path d="M140.0 188.5L152.0 188.5" stroke="#111" stroke-width="1.0" fill="none" />
<path d="M151.5 188.2L151.5 202.7" stroke="#111" stroke-width="1.0" fill="none" />
<text x="142.8" y="198.5" font-size="3.3" font-weight="bold" class="s" fill="#111" stroke="#111" stroke-width="0.7" textLength="7.1" lengthAdjust="spacingAndGlyphs">C714</text>
<text x="142.8" y="201.2" font-size="3.3" font-weight="bold" class="s" fill="#111" stroke="#111" stroke-width="0.7" textLength="7.1" lengthAdjust="spacingAndGlyphs">R716</text>
<text transform="translate(175.0 192.4) rotate(90)" font-size="4.7" font-weight="bold" class="s" fill="#111" stroke="#111" stroke-width="0.65" textLength="5.5" lengthAdjust="spacingAndGlyphs">S2</text>
<circle cx="176.7" cy="187.6" r="2.35" fill="#111" stroke="none" stroke-width="0"/>
<text transform="translate(180.0 192.4) rotate(90)" font-size="4.7" font-weight="bold" class="s" fill="#111" stroke="#111" stroke-width="0.65" textLength="5.5" lengthAdjust="spacingAndGlyphs">S3</text>
<circle cx="181.7" cy="187.6" r="2.35" fill="#111" stroke="none" stroke-width="0"/>
<text transform="translate(185.1 192.4) rotate(90)" font-size="4.7" font-weight="bold" class="s" fill="#111" stroke="#111" stroke-width="0.65" textLength="6.5" lengthAdjust="spacingAndGlyphs">S4</text>
<circle cx="186.8" cy="187.6" r="2.35" fill="#111" stroke="none" stroke-width="0"/>
<text transform="translate(190.1 192.4) rotate(90)" font-size="4.7" font-weight="bold" class="s" fill="#111" stroke="#111" stroke-width="0.65" textLength="7.5" lengthAdjust="spacingAndGlyphs">S5</text>
<circle cx="191.8" cy="187.6" r="2.35" fill="#111" stroke="none" stroke-width="0"/>
<text transform="translate(195.2 192.4) rotate(90)" font-size="4.7" font-weight="bold" class="s" fill="#111" stroke="#111" stroke-width="0.65" textLength="4.5" lengthAdjust="spacingAndGlyphs">S6</text>
<circle cx="196.9" cy="187.6" r="2.35" fill="#111" stroke="none" stroke-width="0"/>
<text transform="translate(200.2 192.4) rotate(90)" font-size="4.7" font-weight="bold" class="s" fill="#111" stroke="#111" stroke-width="0.65" textLength="4.5" lengthAdjust="spacingAndGlyphs">S7</text>
<circle cx="201.9" cy="187.6" r="2.35" fill="#111" stroke="none" stroke-width="0"/>
<text transform="translate(205.3 192.4) rotate(90)" font-size="4.7" font-weight="bold" class="s" fill="#111" stroke="#111" stroke-width="0.65" textLength="7.5" lengthAdjust="spacingAndGlyphs">S8</text>
<circle cx="207.0" cy="187.6" r="2.35" fill="#111" stroke="none" stroke-width="0"/>
<text transform="translate(210.3 192.4) rotate(90)" font-size="4.7" font-weight="bold" class="s" fill="#111" stroke="#111" stroke-width="0.65" textLength="6.5" lengthAdjust="spacingAndGlyphs">S9</text>
<circle cx="212.0" cy="187.6" r="2.35" fill="#111" stroke="none" stroke-width="0"/>
<text transform="translate(215.4 192.4) rotate(90)" font-size="4.7" font-weight="bold" class="s" fill="#111" stroke="#111" stroke-width="0.65" textLength="5.5" lengthAdjust="spacingAndGlyphs">S10</text>
<circle cx="217.1" cy="187.6" r="2.35" fill="#111" stroke="none" stroke-width="0"/>
<text transform="translate(220.4 192.4) rotate(90)" font-size="4.7" font-weight="bold" class="s" fill="#111" stroke="#111" stroke-width="0.65" textLength="5.5" lengthAdjust="spacingAndGlyphs">S11</text>
<circle cx="222.1" cy="187.6" r="2.35" fill="#111" stroke="none" stroke-width="0"/>
<text transform="translate(225.4 192.4) rotate(90)" font-size="4.7" font-weight="bold" class="s" fill="#111" stroke="#111" stroke-width="0.65" textLength="7.5" lengthAdjust="spacingAndGlyphs">S12</text>
<circle cx="227.1" cy="187.6" r="2.35" fill="#111" stroke="none" stroke-width="0"/>
<text transform="translate(230.5 192.4) rotate(90)" font-size="4.7" font-weight="bold" class="s" fill="#111" stroke="#111" stroke-width="0.65" textLength="7.5" lengthAdjust="spacingAndGlyphs">S13</text>
<circle cx="232.2" cy="187.6" r="2.35" fill="#111" stroke="none" stroke-width="0"/>
<text transform="translate(235.5 192.4) rotate(90)" font-size="4.7" font-weight="bold" class="s" fill="#111" stroke="#111" stroke-width="0.65" textLength="7.5" lengthAdjust="spacingAndGlyphs">S14</text>
<circle cx="237.2" cy="187.6" r="2.35" fill="#111" stroke="none" stroke-width="0"/>
<text transform="translate(240.6 192.4) rotate(90)" font-size="4.7" font-weight="bold" class="s" fill="#111" stroke="#111" stroke-width="0.65" textLength="5.5" lengthAdjust="spacingAndGlyphs">S15</text>
<circle cx="242.3" cy="187.6" r="2.35" fill="#111" stroke="none" stroke-width="0"/>
<text transform="translate(245.6 192.4) rotate(90)" font-size="4.7" font-weight="bold" class="s" fill="#111" stroke="#111" stroke-width="0.65" textLength="5.5" lengthAdjust="spacingAndGlyphs">S16</text>
<circle cx="247.3" cy="187.6" r="2.35" fill="#111" stroke="none" stroke-width="0"/>
<text transform="translate(250.7 192.4) rotate(90)" font-size="4.7" font-weight="bold" class="s" fill="#111" stroke="#111" stroke-width="0.65" textLength="5.5" lengthAdjust="spacingAndGlyphs">S17</text>
<circle cx="252.4" cy="187.6" r="2.35" fill="#111" stroke="none" stroke-width="0"/>
<text transform="translate(255.7 192.4) rotate(90)" font-size="4.7" font-weight="bold" class="s" fill="#111" stroke="#111" stroke-width="0.65" textLength="7.5" lengthAdjust="spacingAndGlyphs">S18</text>
<circle cx="257.4" cy="187.6" r="2.35" fill="#111" stroke="none" stroke-width="0"/>
<text transform="translate(260.7 192.4) rotate(90)" font-size="4.7" font-weight="bold" class="s" fill="#111" stroke="#111" stroke-width="0.65" textLength="4.5" lengthAdjust="spacingAndGlyphs">S19</text>
<circle cx="262.4" cy="187.6" r="2.35" fill="#111" stroke="none" stroke-width="0"/>
<text transform="translate(265.8 192.4) rotate(90)" font-size="4.7" font-weight="bold" class="s" fill="#111" stroke="#111" stroke-width="0.65" textLength="4.5" lengthAdjust="spacingAndGlyphs">S20</text>
<circle cx="267.5" cy="187.6" r="2.35" fill="#111" stroke="none" stroke-width="0"/>
<text transform="translate(270.8 192.4) rotate(90)" font-size="4.7" font-weight="bold" class="s" fill="#111" stroke="#111" stroke-width="0.65" textLength="5.5" lengthAdjust="spacingAndGlyphs">S21</text>
<circle cx="272.5" cy="187.6" r="2.35" fill="#111" stroke="none" stroke-width="0"/>
<text transform="translate(275.9 192.4) rotate(90)" font-size="4.7" font-weight="bold" class="s" fill="#111" stroke="#111" stroke-width="0.65" textLength="4.5" lengthAdjust="spacingAndGlyphs">S22</text>
<rect x="275.9" y="184.6" width="3.4" height="6.0" rx="1.6" fill="#fff" stroke="#111" stroke-width="0.9"/>
<text transform="translate(280.9 192.4) rotate(90)" font-size="4.7" font-weight="bold" class="s" fill="#111" stroke="#111" stroke-width="0.65" textLength="6.5" lengthAdjust="spacingAndGlyphs">S23</text>
<rect x="280.9" y="184.6" width="3.4" height="6.0" rx="1.6" fill="#fff" stroke="#111" stroke-width="0.9"/>
<text transform="translate(286.0 192.4) rotate(90)" font-size="4.7" font-weight="bold" class="s" fill="#111" stroke="#111" stroke-width="0.65" textLength="4.5" lengthAdjust="spacingAndGlyphs">S24</text>
<rect x="286.0" y="184.6" width="3.4" height="6.0" rx="1.6" fill="#fff" stroke="#111" stroke-width="0.9"/>
<text transform="translate(291.0 192.4) rotate(90)" font-size="4.7" font-weight="bold" class="s" fill="#111" stroke="#111" stroke-width="0.65" textLength="6.5" lengthAdjust="spacingAndGlyphs">S25</text>
<rect x="291.0" y="184.6" width="3.4" height="6.0" rx="1.6" fill="#fff" stroke="#111" stroke-width="0.9"/>
<text transform="translate(296.1 192.4) rotate(90)" font-size="4.7" font-weight="bold" class="s" fill="#111" stroke="#111" stroke-width="0.65" textLength="7.5" lengthAdjust="spacingAndGlyphs">S26</text>
<rect x="296.1" y="184.6" width="3.4" height="6.0" rx="1.6" fill="#fff" stroke="#111" stroke-width="0.9"/>
<text transform="translate(301.1 192.4) rotate(90)" font-size="4.7" font-weight="bold" class="s" fill="#111" stroke="#111" stroke-width="0.65" textLength="7.5" lengthAdjust="spacingAndGlyphs">S27</text>
<rect x="301.1" y="184.6" width="3.4" height="6.0" rx="1.6" fill="#fff" stroke="#111" stroke-width="0.9"/>
<text transform="translate(306.1 192.4) rotate(90)" font-size="4.7" font-weight="bold" class="s" fill="#111" stroke="#111" stroke-width="0.65" textLength="7.5" lengthAdjust="spacingAndGlyphs">S28</text>
<rect x="306.1" y="184.6" width="3.4" height="6.0" rx="1.6" fill="#fff" stroke="#111" stroke-width="0.9"/>
<text transform="translate(311.2 192.4) rotate(90)" font-size="4.7" font-weight="bold" class="s" fill="#111" stroke="#111" stroke-width="0.65" textLength="7.5" lengthAdjust="spacingAndGlyphs">S29</text>
<rect x="311.2" y="184.6" width="3.4" height="6.0" rx="1.6" fill="#fff" stroke="#111" stroke-width="0.9"/>
<text transform="translate(316.2 192.4) rotate(90)" font-size="4.7" font-weight="bold" class="s" fill="#111" stroke="#111" stroke-width="0.65" textLength="7.5" lengthAdjust="spacingAndGlyphs">S30</text>
<rect x="316.2" y="184.6" width="3.4" height="6.0" rx="1.6" fill="#fff" stroke="#111" stroke-width="0.9"/>
<text transform="translate(321.3 192.4) rotate(90)" font-size="4.7" font-weight="bold" class="s" fill="#111" stroke="#111" stroke-width="0.65" textLength="5.5" lengthAdjust="spacingAndGlyphs">S31</text>
<rect x="321.3" y="184.6" width="3.4" height="6.0" rx="1.6" fill="#fff" stroke="#111" stroke-width="0.9"/>
<text transform="translate(178.4 309.9) rotate(-90)" font-size="4.7" font-weight="bold" class="s" fill="#111" stroke="#111" stroke-width="0.65" textLength="5.5" lengthAdjust="spacingAndGlyphs">S60</text>
<circle cx="176.7" cy="314.1" r="2.30" fill="#111" stroke="none" stroke-width="0"/>
<text transform="translate(183.4 309.9) rotate(-90)" font-size="4.7" font-weight="bold" class="s" fill="#111" stroke="#111" stroke-width="0.65" textLength="5.5" lengthAdjust="spacingAndGlyphs">S59</text>
<circle cx="181.7" cy="314.1" r="2.30" fill="#111" stroke="none" stroke-width="0"/>
<text transform="translate(188.5 309.9) rotate(-90)" font-size="4.7" font-weight="bold" class="s" fill="#111" stroke="#111" stroke-width="0.65" textLength="5.5" lengthAdjust="spacingAndGlyphs">S58</text>
<circle cx="186.8" cy="314.1" r="2.30" fill="#111" stroke="none" stroke-width="0"/>
<text transform="translate(193.5 309.9) rotate(-90)" font-size="4.7" font-weight="bold" class="s" fill="#111" stroke="#111" stroke-width="0.65" textLength="5.5" lengthAdjust="spacingAndGlyphs">S57</text>
<circle cx="191.8" cy="314.1" r="2.30" fill="#111" stroke="none" stroke-width="0"/>
<text transform="translate(198.6 309.9) rotate(-90)" font-size="4.7" font-weight="bold" class="s" fill="#111" stroke="#111" stroke-width="0.65" textLength="5.5" lengthAdjust="spacingAndGlyphs">S56</text>
<circle cx="196.9" cy="314.1" r="2.30" fill="#111" stroke="none" stroke-width="0"/>
<text transform="translate(203.6 309.9) rotate(-90)" font-size="4.7" font-weight="bold" class="s" fill="#111" stroke="#111" stroke-width="0.65" textLength="7.0" lengthAdjust="spacingAndGlyphs">S55</text>
<circle cx="201.9" cy="314.1" r="2.30" fill="#111" stroke="none" stroke-width="0"/>
<text transform="translate(208.7 309.9) rotate(-90)" font-size="4.7" font-weight="bold" class="s" fill="#111" stroke="#111" stroke-width="0.65" textLength="7.0" lengthAdjust="spacingAndGlyphs">S54</text>
<circle cx="207.0" cy="314.1" r="2.30" fill="#111" stroke="none" stroke-width="0"/>
<text transform="translate(213.7 309.9) rotate(-90)" font-size="4.7" font-weight="bold" class="s" fill="#111" stroke="#111" stroke-width="0.65" textLength="7.0" lengthAdjust="spacingAndGlyphs">S53</text>
<circle cx="212.0" cy="314.1" r="2.30" fill="#111" stroke="none" stroke-width="0"/>
<text transform="translate(218.8 309.9) rotate(-90)" font-size="4.7" font-weight="bold" class="s" fill="#111" stroke="#111" stroke-width="0.65" textLength="7.0" lengthAdjust="spacingAndGlyphs">S52</text>
<circle cx="217.1" cy="314.1" r="2.30" fill="#111" stroke="none" stroke-width="0"/>
<text transform="translate(223.8 309.9) rotate(-90)" font-size="4.7" font-weight="bold" class="s" fill="#111" stroke="#111" stroke-width="0.65" textLength="7.0" lengthAdjust="spacingAndGlyphs">S51</text>
<circle cx="222.1" cy="314.1" r="2.30" fill="#111" stroke="none" stroke-width="0"/>
<text transform="translate(228.8 309.9) rotate(-90)" font-size="4.7" font-weight="bold" class="s" fill="#111" stroke="#111" stroke-width="0.65" textLength="7.0" lengthAdjust="spacingAndGlyphs">S50</text>
<circle cx="227.1" cy="314.1" r="2.30" fill="#111" stroke="none" stroke-width="0"/>
<text transform="translate(233.9 309.9) rotate(-90)" font-size="4.7" font-weight="bold" class="s" fill="#111" stroke="#111" stroke-width="0.65" textLength="7.0" lengthAdjust="spacingAndGlyphs">S49</text>
<circle cx="232.2" cy="314.1" r="2.30" fill="#111" stroke="none" stroke-width="0"/>
<text transform="translate(238.9 309.9) rotate(-90)" font-size="4.7" font-weight="bold" class="s" fill="#111" stroke="#111" stroke-width="0.65" textLength="7.0" lengthAdjust="spacingAndGlyphs">S48</text>
<circle cx="237.2" cy="314.1" r="2.30" fill="#111" stroke="none" stroke-width="0"/>
<text transform="translate(244.0 309.9) rotate(-90)" font-size="4.7" font-weight="bold" class="s" fill="#111" stroke="#111" stroke-width="0.65" textLength="7.0" lengthAdjust="spacingAndGlyphs">S47</text>
<circle cx="242.3" cy="314.1" r="2.30" fill="#111" stroke="none" stroke-width="0"/>
<text transform="translate(249.0 309.9) rotate(-90)" font-size="4.7" font-weight="bold" class="s" fill="#111" stroke="#111" stroke-width="0.65" textLength="7.0" lengthAdjust="spacingAndGlyphs">S46</text>
<circle cx="247.3" cy="314.1" r="2.30" fill="#111" stroke="none" stroke-width="0"/>
<text transform="translate(254.1 309.9) rotate(-90)" font-size="4.7" font-weight="bold" class="s" fill="#111" stroke="#111" stroke-width="0.65" textLength="7.0" lengthAdjust="spacingAndGlyphs">S45</text>
<circle cx="252.4" cy="314.1" r="2.30" fill="#111" stroke="none" stroke-width="0"/>
<text transform="translate(259.1 309.9) rotate(-90)" font-size="4.7" font-weight="bold" class="s" fill="#111" stroke="#111" stroke-width="0.65" textLength="7.0" lengthAdjust="spacingAndGlyphs">S44</text>
<circle cx="257.4" cy="314.1" r="2.30" fill="#111" stroke="none" stroke-width="0"/>
<text transform="translate(264.1 309.9) rotate(-90)" font-size="4.7" font-weight="bold" class="s" fill="#111" stroke="#111" stroke-width="0.65" textLength="7.0" lengthAdjust="spacingAndGlyphs">S43</text>
<circle cx="262.4" cy="314.1" r="2.30" fill="#111" stroke="none" stroke-width="0"/>
<text transform="translate(269.2 309.9) rotate(-90)" font-size="4.7" font-weight="bold" class="s" fill="#111" stroke="#111" stroke-width="0.65" textLength="7.0" lengthAdjust="spacingAndGlyphs">S42</text>
<circle cx="267.5" cy="314.1" r="2.30" fill="#111" stroke="none" stroke-width="0"/>
<text transform="translate(274.2 309.9) rotate(-90)" font-size="4.7" font-weight="bold" class="s" fill="#111" stroke="#111" stroke-width="0.65" textLength="7.0" lengthAdjust="spacingAndGlyphs">S41</text>
<circle cx="272.5" cy="314.1" r="2.30" fill="#111" stroke="none" stroke-width="0"/>
<text transform="translate(279.3 309.9) rotate(-90)" font-size="4.7" font-weight="bold" class="s" fill="#111" stroke="#111" stroke-width="0.65" textLength="7.0" lengthAdjust="spacingAndGlyphs">S40</text>
<circle cx="277.6" cy="314.1" r="2.30" fill="#111" stroke="none" stroke-width="0"/>
<text transform="translate(284.3 309.9) rotate(-90)" font-size="4.7" font-weight="bold" class="s" fill="#111" stroke="#111" stroke-width="0.65" textLength="7.0" lengthAdjust="spacingAndGlyphs">S39</text>
<circle cx="282.6" cy="314.1" r="2.30" fill="#111" stroke="none" stroke-width="0"/>
<text transform="translate(289.4 309.9) rotate(-90)" font-size="4.7" font-weight="bold" class="s" fill="#111" stroke="#111" stroke-width="0.65" textLength="7.0" lengthAdjust="spacingAndGlyphs">S38</text>
<circle cx="287.7" cy="314.1" r="2.30" fill="#111" stroke="none" stroke-width="0"/>
<text transform="translate(294.4 309.9) rotate(-90)" font-size="4.7" font-weight="bold" class="s" fill="#111" stroke="#111" stroke-width="0.65" textLength="7.0" lengthAdjust="spacingAndGlyphs">S37</text>
<circle cx="292.7" cy="314.1" r="2.30" fill="#111" stroke="none" stroke-width="0"/>
<text transform="translate(299.5 309.9) rotate(-90)" font-size="4.7" font-weight="bold" class="s" fill="#111" stroke="#111" stroke-width="0.65" textLength="7.0" lengthAdjust="spacingAndGlyphs">S36</text>
<circle cx="297.8" cy="314.1" r="2.30" fill="#111" stroke="none" stroke-width="0"/>
<text transform="translate(304.5 309.9) rotate(-90)" font-size="4.7" font-weight="bold" class="s" fill="#111" stroke="#111" stroke-width="0.65" textLength="7.0" lengthAdjust="spacingAndGlyphs">S35</text>
<circle cx="302.8" cy="314.1" r="2.30" fill="#111" stroke="none" stroke-width="0"/>
<text transform="translate(309.5 309.9) rotate(-90)" font-size="4.7" font-weight="bold" class="s" fill="#111" stroke="#111" stroke-width="0.65" textLength="7.0" lengthAdjust="spacingAndGlyphs">S34</text>
<circle cx="307.8" cy="314.1" r="2.30" fill="#111" stroke="none" stroke-width="0"/>
<text transform="translate(314.6 309.9) rotate(-90)" font-size="4.7" font-weight="bold" class="s" fill="#111" stroke="#111" stroke-width="0.65" textLength="7.0" lengthAdjust="spacingAndGlyphs">S33</text>
<circle cx="312.9" cy="314.1" r="2.30" fill="#111" stroke="none" stroke-width="0"/>
<text transform="translate(319.6 309.9) rotate(-90)" font-size="4.7" font-weight="bold" class="s" fill="#111" stroke="#111" stroke-width="0.65" textLength="7.0" lengthAdjust="spacingAndGlyphs">S32</text>
<circle cx="317.9" cy="314.1" r="2.30" fill="#111" stroke="none" stroke-width="0"/>
<text transform="translate(324.7 309.9) rotate(-90)" font-size="4.7" font-weight="bold" class="s" fill="#111" stroke="#111" stroke-width="0.65" textLength="7.0" lengthAdjust="spacingAndGlyphs">S31</text>
<circle cx="323.0" cy="314.1" r="2.30" fill="#111" stroke="none" stroke-width="0"/>
<text x="334.4" y="205.1" font-size="4.4" font-weight="bold" text-anchor="end" class="s" fill="#111" stroke="#111" stroke-width="0.55" >G1</text>
<circle cx="337.8" cy="203.7" r="2.50" fill="#111" stroke="none" stroke-width="0"/>
<text x="334.4" y="210.1" font-size="4.4" font-weight="bold" text-anchor="end" class="s" fill="#111" stroke="#111" stroke-width="0.55" >G2</text>
<circle cx="337.8" cy="208.7" r="2.50" fill="#111" stroke="none" stroke-width="0"/>
<text x="334.4" y="215.2" font-size="4.4" font-weight="bold" text-anchor="end" class="s" fill="#111" stroke="#111" stroke-width="0.55" >G3</text>
<circle cx="337.8" cy="213.8" r="2.50" fill="#111" stroke="none" stroke-width="0"/>
<text x="334.4" y="220.2" font-size="4.4" font-weight="bold" text-anchor="end" class="s" fill="#111" stroke="#111" stroke-width="0.55" >G4</text>
<circle cx="337.8" cy="218.8" r="2.50" fill="#111" stroke="none" stroke-width="0"/>
<text x="334.4" y="225.3" font-size="4.4" font-weight="bold" text-anchor="end" class="s" fill="#111" stroke="#111" stroke-width="0.55" >G5</text>
<circle cx="337.8" cy="223.9" r="2.50" fill="#111" stroke="none" stroke-width="0"/>
<text x="334.4" y="230.3" font-size="4.4" font-weight="bold" text-anchor="end" class="s" fill="#111" stroke="#111" stroke-width="0.55" >G6</text>
<circle cx="337.8" cy="228.9" r="2.50" fill="#111" stroke="none" stroke-width="0"/>
<text x="334.4" y="235.4" font-size="4.4" font-weight="bold" text-anchor="end" class="s" fill="#111" stroke="#111" stroke-width="0.55" >G7</text>
<circle cx="337.8" cy="234.0" r="2.50" fill="#111" stroke="none" stroke-width="0"/>
<text x="334.4" y="240.4" font-size="4.4" font-weight="bold" text-anchor="end" class="s" fill="#111" stroke="#111" stroke-width="0.55" >G8</text>
<circle cx="337.8" cy="239.0" r="2.50" fill="#111" stroke="none" stroke-width="0"/>
<text x="334.4" y="245.5" font-size="4.4" font-weight="bold" text-anchor="end" class="s" fill="#111" stroke="#111" stroke-width="0.55" >G9</text>
<circle cx="337.8" cy="244.1" r="2.50" fill="#111" stroke="none" stroke-width="0"/>
<text x="334.4" y="250.5" font-size="4.4" font-weight="bold" text-anchor="end" class="s" fill="#111" stroke="#111" stroke-width="0.55" >G10</text>
<circle cx="337.8" cy="249.1" r="2.50" fill="#111" stroke="none" stroke-width="0"/>
<text x="334.4" y="255.5" font-size="4.4" font-weight="bold" text-anchor="end" class="s" fill="#111" stroke="#111" stroke-width="0.55" >G11</text>
<circle cx="337.8" cy="254.1" r="2.50" fill="#111" stroke="none" stroke-width="0"/>
<text x="334.4" y="260.6" font-size="4.4" font-weight="bold" text-anchor="end" class="s" fill="#111" stroke="#111" stroke-width="0.55" >G12</text>
<circle cx="337.8" cy="259.2" r="2.50" fill="#111" stroke="none" stroke-width="0"/>
<text x="334.4" y="265.6" font-size="4.4" font-weight="bold" text-anchor="end" class="s" fill="#111" stroke="#111" stroke-width="0.55" >G13</text>
<circle cx="337.8" cy="264.2" r="2.50" fill="#111" stroke="none" stroke-width="0"/>
<text x="334.4" y="270.7" font-size="4.4" font-weight="bold" text-anchor="end" class="s" fill="#111" stroke="#111" stroke-width="0.55" >G14</text>
<circle cx="337.8" cy="269.3" r="2.50" fill="#111" stroke="none" stroke-width="0"/>
<text x="334.4" y="275.7" font-size="4.4" font-weight="bold" text-anchor="end" class="s" fill="#111" stroke="#111" stroke-width="0.55" >VLD</text>
<circle cx="337.8" cy="274.3" r="2.50" fill="#111" stroke="none" stroke-width="0"/>
<text x="328.5" y="280.8" font-size="4.4" font-weight="bold" text-anchor="start" class="s" fill="#111" stroke="#111" stroke-width="0.55" >NC</text>
<circle cx="337.8" cy="279.4" r="2.50" fill="#111" stroke="none" stroke-width="0"/>
<text x="328.5" y="285.8" font-size="4.4" font-weight="bold" text-anchor="start" class="s" fill="#111" stroke="#111" stroke-width="0.55" >NC</text>
<circle cx="337.8" cy="284.4" r="2.50" fill="#111" stroke="none" stroke-width="0"/>
<text x="334.4" y="290.8" font-size="4.4" font-weight="bold" text-anchor="end" class="s" fill="#111" stroke="#111" stroke-width="0.55" >P20</text>
<circle cx="337.8" cy="289.4" r="2.50" fill="#111" stroke="none" stroke-width="0"/>
<text x="334.4" y="295.9" font-size="4.4" font-weight="bold" text-anchor="end" class="s" fill="#111" stroke="#111" stroke-width="0.55" >P21</text>
<circle cx="337.8" cy="294.5" r="2.50" fill="#111" stroke="none" stroke-width="0"/>
<text x="334.4" y="300.9" font-size="4.4" font-weight="bold" text-anchor="end" class="s" fill="#111" stroke="#111" stroke-width="0.55" >P22</text>
<circle cx="337.8" cy="299.5" r="2.50" fill="#111" stroke="none" stroke-width="0"/>
<path d="M269.5 190.7L269.5 214.6" stroke="#111" stroke-width="1.0" fill="none" />
<circle cx="269.6" cy="218.4" r="4.41" fill="#111" stroke="none" stroke-width="0"/>
<text x="268.4" y="210.2" font-size="2.6" font-weight="bold" text-anchor="end" class="s" fill="#111" stroke="#111" stroke-width="0.25" >6</text>
<text x="269.8" y="219.9" font-size="3.6" font-weight="bold" text-anchor="middle" class="s" fill="#fff" stroke="#fff" stroke-width="0" >TP</text>
<rect x="239.0" y="238.9" width="23.9" height="8.9" fill="#111" stroke="none" stroke-width="0" rx="0"/>
<text x="251.0" y="246.2" font-size="7.4" font-weight="normal" text-anchor="middle" class="m" fill="#fff" stroke="#fff" stroke-width="0" textLength="20" lengthAdjust="spacingAndGlyphs">IC701</text>
<text x="251.9" y="252.8" font-size="4.4" font-weight="bold" text-anchor="middle" class="s" fill="#111" stroke="#111" stroke-width="0.6" textLength="28.6" lengthAdjust="spacingAndGlyphs">DISPLAY CONTROL</text>
<text x="251.0" y="260.6" font-size="4.4" font-weight="bold" text-anchor="middle" class="s" fill="#111" stroke="#111" stroke-width="0.6" textLength="24" lengthAdjust="spacingAndGlyphs">uPD75316GF</text>
<rect x="247.5" y="255.6" width="7.0" height="5.6" fill="#111" stroke="none" stroke-width="0" rx="1.5"/>
<path d="M340.3 203.5L369.4 203.5" stroke="#111" stroke-width="1.0" fill="none" />
<text x="346.0" y="203.3" font-size="3.8" font-weight="bold" text-anchor="start" class="s" fill="#111" stroke="#111" stroke-width="0.5" >100</text>
<text x="367.8" y="203.3" font-size="3.8" font-weight="bold" text-anchor="end" class="s" fill="#111" stroke="#111" stroke-width="0.5" >G1</text>
<path d="M341.2 201.5L344.5 203.3" stroke="#111" stroke-width="0.7" fill="none" />
<path d="M340.3 208.5L369.4 208.5" stroke="#111" stroke-width="1.0" fill="none" />
<text x="346.0" y="208.3" font-size="3.8" font-weight="bold" text-anchor="start" class="s" fill="#111" stroke="#111" stroke-width="0.5" >100</text>
<text x="367.8" y="208.3" font-size="3.8" font-weight="bold" text-anchor="end" class="s" fill="#111" stroke="#111" stroke-width="0.5" >G2</text>
<path d="M341.2 206.5L344.5 208.3" stroke="#111" stroke-width="0.7" fill="none" />
<path d="M340.3 213.5L369.4 213.5" stroke="#111" stroke-width="1.0" fill="none" />
<text x="346.0" y="213.4" font-size="3.8" font-weight="bold" text-anchor="start" class="s" fill="#111" stroke="#111" stroke-width="0.5" >100</text>
<text x="367.8" y="213.4" font-size="3.8" font-weight="bold" text-anchor="end" class="s" fill="#111" stroke="#111" stroke-width="0.5" >G3</text>
<path d="M341.2 211.6L344.5 213.4" stroke="#111" stroke-width="0.7" fill="none" />
<path d="M340.3 218.5L369.4 218.5" stroke="#111" stroke-width="1.0" fill="none" />
<text x="346.0" y="218.4" font-size="3.8" font-weight="bold" text-anchor="start" class="s" fill="#111" stroke="#111" stroke-width="0.5" >100</text>
<text x="367.8" y="218.4" font-size="3.8" font-weight="bold" text-anchor="end" class="s" fill="#111" stroke="#111" stroke-width="0.5" >G4</text>
<path d="M341.2 216.6L344.5 218.4" stroke="#111" stroke-width="0.7" fill="none" />
<path d="M340.3 223.5L369.4 223.5" stroke="#111" stroke-width="1.0" fill="none" />
<text x="346.0" y="223.5" font-size="3.8" font-weight="bold" text-anchor="start" class="s" fill="#111" stroke="#111" stroke-width="0.5" >100</text>
<text x="367.8" y="223.5" font-size="3.8" font-weight="bold" text-anchor="end" class="s" fill="#111" stroke="#111" stroke-width="0.5" >G5</text>
<path d="M341.2 221.7L344.5 223.5" stroke="#111" stroke-width="0.7" fill="none" />
<path d="M340.3 228.5L369.4 228.5" stroke="#111" stroke-width="1.0" fill="none" />
<text x="346.0" y="228.5" font-size="3.8" font-weight="bold" text-anchor="start" class="s" fill="#111" stroke="#111" stroke-width="0.5" >100</text>
<text x="367.8" y="228.5" font-size="3.8" font-weight="bold" text-anchor="end" class="s" fill="#111" stroke="#111" stroke-width="0.5" >G6</text>
<path d="M341.2 226.7L344.5 228.5" stroke="#111" stroke-width="0.7" fill="none" />
<path d="M340.3 233.5L369.4 233.5" stroke="#111" stroke-width="1.0" fill="none" />
<text x="346.0" y="233.6" font-size="3.8" font-weight="bold" text-anchor="start" class="s" fill="#111" stroke="#111" stroke-width="0.5" >100</text>
<text x="367.8" y="233.6" font-size="3.8" font-weight="bold" text-anchor="end" class="s" fill="#111" stroke="#111" stroke-width="0.5" >G7</text>
<path d="M341.2 231.8L344.5 233.6" stroke="#111" stroke-width="0.7" fill="none" />
<path d="M340.3 239.5L369.4 239.5" stroke="#111" stroke-width="1.0" fill="none" />
<text x="346.0" y="238.6" font-size="3.8" font-weight="bold" text-anchor="start" class="s" fill="#111" stroke="#111" stroke-width="0.5" >100</text>
<text x="367.8" y="238.6" font-size="3.8" font-weight="bold" text-anchor="end" class="s" fill="#111" stroke="#111" stroke-width="0.5" >G8</text>
<path d="M341.2 236.8L344.5 238.6" stroke="#111" stroke-width="0.7" fill="none" />
<path d="M340.3 244.5L369.4 244.5" stroke="#111" stroke-width="1.0" fill="none" />
<text x="346.0" y="243.7" font-size="3.8" font-weight="bold" text-anchor="start" class="s" fill="#111" stroke="#111" stroke-width="0.5" >100</text>
<text x="367.8" y="243.7" font-size="3.8" font-weight="bold" text-anchor="end" class="s" fill="#111" stroke="#111" stroke-width="0.5" >G9</text>
<path d="M341.2 241.9L344.5 243.7" stroke="#111" stroke-width="0.7" fill="none" />
<path d="M340.3 249.5L369.4 249.5" stroke="#111" stroke-width="1.0" fill="none" />
<text x="346.0" y="248.7" font-size="3.8" font-weight="bold" text-anchor="start" class="s" fill="#111" stroke="#111" stroke-width="0.5" >100</text>
<text x="367.8" y="248.7" font-size="3.8" font-weight="bold" text-anchor="end" class="s" fill="#111" stroke="#111" stroke-width="0.5" >G10</text>
<path d="M341.2 246.9L344.5 248.7" stroke="#111" stroke-width="0.7" fill="none" />
<path d="M340.3 254.5L369.4 254.5" stroke="#111" stroke-width="1.0" fill="none" />
<text x="346.0" y="253.7" font-size="3.8" font-weight="bold" text-anchor="start" class="s" fill="#111" stroke="#111" stroke-width="0.5" >100</text>
<text x="367.8" y="253.7" font-size="3.8" font-weight="bold" text-anchor="end" class="s" fill="#111" stroke="#111" stroke-width="0.5" >G11</text>
<path d="M341.2 251.9L344.5 253.7" stroke="#111" stroke-width="0.7" fill="none" />
<path d="M340.3 259.5L369.4 259.5" stroke="#111" stroke-width="1.0" fill="none" />
<text x="346.0" y="258.8" font-size="3.8" font-weight="bold" text-anchor="start" class="s" fill="#111" stroke="#111" stroke-width="0.5" >100</text>
<text x="367.8" y="258.8" font-size="3.8" font-weight="bold" text-anchor="end" class="s" fill="#111" stroke="#111" stroke-width="0.5" >G12</text>
<path d="M341.2 257.0L344.5 258.8" stroke="#111" stroke-width="0.7" fill="none" />
<path d="M340.3 264.5L369.4 264.5" stroke="#111" stroke-width="1.0" fill="none" />
<text x="346.0" y="263.8" font-size="3.8" font-weight="bold" text-anchor="start" class="s" fill="#111" stroke="#111" stroke-width="0.5" >100</text>
<text x="367.8" y="263.8" font-size="3.8" font-weight="bold" text-anchor="end" class="s" fill="#111" stroke="#111" stroke-width="0.5" >G13</text>
<path d="M341.2 262.0L344.5 263.8" stroke="#111" stroke-width="0.7" fill="none" />
<path d="M340.3 269.5L369.4 269.5" stroke="#111" stroke-width="1.0" fill="none" />
<text x="346.0" y="268.9" font-size="3.8" font-weight="bold" text-anchor="start" class="s" fill="#111" stroke="#111" stroke-width="0.5" >100</text>
<text x="367.8" y="268.9" font-size="3.8" font-weight="bold" text-anchor="end" class="s" fill="#111" stroke="#111" stroke-width="0.5" >G14</text>
<path d="M341.2 267.1L344.5 268.9" stroke="#111" stroke-width="0.7" fill="none" />
<path d="M369.5 203.7L369.5 271.9" stroke="#111" stroke-width="1.4" fill="none" />
<path d="M369.6 271.5L416.0 271.5" stroke="#111" stroke-width="1.0" fill="none" />
<path d="M415.7 271.5L538.6 271.5" stroke="#111" stroke-width="1.3" fill="none" />
<rect x="356.5" y="269.0" width="5.6" height="2.4" fill="#111" stroke="none" stroke-width="0" rx="0"/>
<path d="M340.3 285.5L363.4 285.5" stroke="#111" stroke-width="1.0" fill="none" />
<path d="M363.5 285.4L363.5 341.0" stroke="#111" stroke-width="1.0" fill="none" />
<text x="346.0" y="285.0" font-size="3.8" font-weight="bold" text-anchor="start" class="s" fill="#111" stroke="#111" stroke-width="0.5" >100</text>
<text x="354.2" y="285.0" font-size="3.8" font-weight="bold" text-anchor="start" class="s" fill="#111" stroke="#111" stroke-width="0.5" >P1</text>
<path d="M340.3 290.5L364.6 290.5" stroke="#111" stroke-width="1.0" fill="none" />
<path d="M364.5 290.5L364.5 341.0" stroke="#111" stroke-width="1.0" fill="none" />
<text x="346.0" y="290.1" font-size="3.8" font-weight="bold" text-anchor="start" class="s" fill="#111" stroke="#111" stroke-width="0.5" >100</text>
<text x="354.2" y="290.1" font-size="3.8" font-weight="bold" text-anchor="start" class="s" fill="#111" stroke="#111" stroke-width="0.5" >P2</text>
<path d="M340.3 295.5L365.4 295.5" stroke="#111" stroke-width="1.0" fill="none" />
<path d="M365.5 295.6L365.5 341.0" stroke="#111" stroke-width="1.0" fill="none" />
<text x="346.0" y="295.2" font-size="3.8" font-weight="bold" text-anchor="start" class="s" fill="#111" stroke="#111" stroke-width="0.5" >100</text>
<text x="354.2" y="295.2" font-size="3.8" font-weight="bold" text-anchor="start" class="s" fill="#111" stroke="#111" stroke-width="0.5" >P3</text>
<path d="M374.5 185.0L374.5 260.0" stroke="#111" stroke-width="1.0" fill="none" />
<path d="M377.5 185.0L377.5 260.0" stroke="#111" stroke-width="1.0" fill="none" />
<path d="M380.5 185.0L380.5 260.0" stroke="#111" stroke-width="1.5" fill="none" />
<path d="M385.5 185.0L385.5 260.0" stroke="#111" stroke-width="1.0" fill="none" />
<path d="M390.5 185.0L390.5 260.0" stroke="#111" stroke-width="1.0" fill="none" />
<rect x="419.8" y="143.4" width="11.0" height="114.2" fill="#111" stroke="none" stroke-width="0" rx="0"/>
<rect x="435.0" y="143.4" width="11.0" height="114.2" fill="#111" stroke="none" stroke-width="0" rx="0"/>
<text x="394.2" y="149.1" font-size="5.0" font-weight="bold" text-anchor="start" class="s" fill="#111" stroke="#111" stroke-width="0.5" textLength="12.2" lengthAdjust="spacingAndGlyphs">MEMO</text>
<path d="M411.6 144.5L418.0 144.5L414.8 148.7Z" stroke="#111" stroke-width="0.4" fill="#111" />
<path d="M411.9 149.5L417.7 149.5" stroke="#111" stroke-width="1.2" fill="none" />
<path d="M424.0 145.8L427.2 145.8L425.6 148.4Z" stroke="#111" stroke-width="0.2" fill="#fff" />
<rect x="429.0" y="149.8" width="1.6" height="1.3" fill="#fff" stroke="none" stroke-width="0" rx="0"/>
<rect x="420.2" y="150.0" width="1.4" height="1.2" fill="#fff" stroke="none" stroke-width="0" rx="0"/>
<rect x="428.4" y="146.4" width="1.2" height="1.2" fill="#fff" stroke="none" stroke-width="0" rx="0"/>
<rect x="422.0" y="145.0" width="1.2" height="1.0" fill="#fff" stroke="none" stroke-width="0" rx="0"/>
<path d="M439.2 145.8L442.4 145.8L440.8 148.4Z" stroke="#111" stroke-width="0.2" fill="#fff" />
<rect x="444.2" y="149.8" width="1.6" height="1.3" fill="#fff" stroke="none" stroke-width="0" rx="0"/>
<rect x="435.4" y="150.0" width="1.4" height="1.2" fill="#fff" stroke="none" stroke-width="0" rx="0"/>
<rect x="443.6" y="146.4" width="1.2" height="1.2" fill="#fff" stroke="none" stroke-width="0" rx="0"/>
<rect x="437.2" y="145.0" width="1.2" height="1.0" fill="#fff" stroke="none" stroke-width="0" rx="0"/>
<path d="M447.7 144.5L454.1 144.5L450.9 148.7Z" stroke="#111" stroke-width="0.4" fill="#111" />
<path d="M448.0 149.5L453.8 149.5" stroke="#111" stroke-width="1.2" fill="none" />
<text x="456.0" y="149.1" font-size="5.0" font-weight="bold" text-anchor="start" class="s" fill="#111" stroke="#111" stroke-width="0.5" textLength="15.5" lengthAdjust="spacingAndGlyphs">DISPLAY</text>
<text x="394.2" y="156.7" font-size="5.0" font-weight="bold" text-anchor="start" class="s" fill="#111" stroke="#111" stroke-width="0.5" textLength="5.0" lengthAdjust="spacingAndGlyphs">P1</text>
<path d="M411.6 152.1L418.0 152.1L414.8 156.3Z" stroke="#111" stroke-width="0.4" fill="#111" />
<path d="M411.9 157.5L417.7 157.5" stroke="#111" stroke-width="1.2" fill="none" />
<path d="M424.0 153.4L427.2 153.4L425.6 156.0Z" stroke="#111" stroke-width="0.2" fill="#fff" />
<rect x="429.0" y="157.4" width="1.6" height="1.3" fill="#fff" stroke="none" stroke-width="0" rx="0"/>
<rect x="420.2" y="157.6" width="1.4" height="1.2" fill="#fff" stroke="none" stroke-width="0" rx="0"/>
<rect x="428.4" y="154.0" width="1.2" height="1.2" fill="#fff" stroke="none" stroke-width="0" rx="0"/>
<rect x="422.0" y="152.6" width="1.2" height="1.0" fill="#fff" stroke="none" stroke-width="0" rx="0"/>
<path d="M439.2 153.4L442.4 153.4L440.8 156.0Z" stroke="#111" stroke-width="0.2" fill="#fff" />
<rect x="444.2" y="157.4" width="1.6" height="1.3" fill="#fff" stroke="none" stroke-width="0" rx="0"/>
<rect x="435.4" y="157.6" width="1.4" height="1.2" fill="#fff" stroke="none" stroke-width="0" rx="0"/>
<rect x="443.6" y="154.0" width="1.2" height="1.2" fill="#fff" stroke="none" stroke-width="0" rx="0"/>
<rect x="437.2" y="152.6" width="1.2" height="1.0" fill="#fff" stroke="none" stroke-width="0" rx="0"/>
<path d="M447.7 152.1L454.1 152.1L450.9 156.3Z" stroke="#111" stroke-width="0.4" fill="#111" />
<path d="M448.0 157.5L453.8 157.5" stroke="#111" stroke-width="1.2" fill="none" />
<text x="456.0" y="156.7" font-size="5.0" font-weight="bold" text-anchor="start" class="s" fill="#111" stroke="#111" stroke-width="0.5" textLength="8.0" lengthAdjust="spacingAndGlyphs">EON</text>
<text x="394.2" y="164.3" font-size="5.0" font-weight="bold" text-anchor="start" class="s" fill="#111" stroke="#111" stroke-width="0.5" textLength="5.0" lengthAdjust="spacingAndGlyphs">P2</text>
<path d="M411.6 159.7L418.0 159.7L414.8 163.9Z" stroke="#111" stroke-width="0.4" fill="#111" />
<path d="M411.9 164.5L417.7 164.5" stroke="#111" stroke-width="1.2" fill="none" />
<path d="M424.0 161.0L427.2 161.0L425.6 163.6Z" stroke="#111" stroke-width="0.2" fill="#fff" />
<rect x="429.0" y="165.0" width="1.6" height="1.3" fill="#fff" stroke="none" stroke-width="0" rx="0"/>
<rect x="420.2" y="165.2" width="1.4" height="1.2" fill="#fff" stroke="none" stroke-width="0" rx="0"/>
<rect x="428.4" y="161.6" width="1.2" height="1.2" fill="#fff" stroke="none" stroke-width="0" rx="0"/>
<rect x="422.0" y="160.2" width="1.2" height="1.0" fill="#fff" stroke="none" stroke-width="0" rx="0"/>
<path d="M439.2 161.0L442.4 161.0L440.8 163.6Z" stroke="#111" stroke-width="0.2" fill="#fff" />
<rect x="444.2" y="165.0" width="1.6" height="1.3" fill="#fff" stroke="none" stroke-width="0" rx="0"/>
<rect x="435.4" y="165.2" width="1.4" height="1.2" fill="#fff" stroke="none" stroke-width="0" rx="0"/>
<rect x="443.6" y="161.6" width="1.2" height="1.2" fill="#fff" stroke="none" stroke-width="0" rx="0"/>
<rect x="437.2" y="160.2" width="1.2" height="1.0" fill="#fff" stroke="none" stroke-width="0" rx="0"/>
<path d="M447.7 159.7L454.1 159.7L450.9 163.9Z" stroke="#111" stroke-width="0.4" fill="#111" />
<path d="M448.0 164.5L453.8 164.5" stroke="#111" stroke-width="1.2" fill="none" />
<text x="456.0" y="164.3" font-size="5.0" font-weight="bold" text-anchor="start" class="s" fill="#111" stroke="#111" stroke-width="0.5" textLength="6.0" lengthAdjust="spacingAndGlyphs">AF</text>
<text x="394.2" y="171.9" font-size="5.0" font-weight="bold" text-anchor="start" class="s" fill="#111" stroke="#111" stroke-width="0.5" textLength="5.0" lengthAdjust="spacingAndGlyphs">P3</text>
<path d="M411.6 167.3L418.0 167.3L414.8 171.5Z" stroke="#111" stroke-width="0.4" fill="#111" />
<path d="M411.9 172.5L417.7 172.5" stroke="#111" stroke-width="1.2" fill="none" />
<path d="M424.0 168.6L427.2 168.6L425.6 171.2Z" stroke="#111" stroke-width="0.2" fill="#fff" />
<rect x="429.0" y="172.6" width="1.6" height="1.3" fill="#fff" stroke="none" stroke-width="0" rx="0"/>
<rect x="420.2" y="172.8" width="1.4" height="1.2" fill="#fff" stroke="none" stroke-width="0" rx="0"/>
<rect x="428.4" y="169.2" width="1.2" height="1.2" fill="#fff" stroke="none" stroke-width="0" rx="0"/>
<rect x="422.0" y="167.8" width="1.2" height="1.0" fill="#fff" stroke="none" stroke-width="0" rx="0"/>
<path d="M439.2 168.6L442.4 168.6L440.8 171.2Z" stroke="#111" stroke-width="0.2" fill="#fff" />
<rect x="444.2" y="172.6" width="1.6" height="1.3" fill="#fff" stroke="none" stroke-width="0" rx="0"/>
<rect x="435.4" y="172.8" width="1.4" height="1.2" fill="#fff" stroke="none" stroke-width="0" rx="0"/>
<rect x="443.6" y="169.2" width="1.2" height="1.2" fill="#fff" stroke="none" stroke-width="0" rx="0"/>
<rect x="437.2" y="167.8" width="1.2" height="1.0" fill="#fff" stroke="none" stroke-width="0" rx="0"/>
<path d="M447.7 167.3L454.1 167.3L450.9 171.5Z" stroke="#111" stroke-width="0.4" fill="#111" />
<path d="M448.0 172.5L453.8 172.5" stroke="#111" stroke-width="1.2" fill="none" />
<text x="456.0" y="171.9" font-size="5.0" font-weight="bold" text-anchor="start" class="s" fill="#111" stroke="#111" stroke-width="0.5" textLength="19.0" lengthAdjust="spacingAndGlyphs">PTY SEL</text>
<text x="394.2" y="179.5" font-size="5.0" font-weight="bold" text-anchor="start" class="s" fill="#111" stroke="#111" stroke-width="0.5" textLength="5.0" lengthAdjust="spacingAndGlyphs">P4</text>
<path d="M411.6 174.9L418.0 174.9L414.8 179.1Z" stroke="#111" stroke-width="0.4" fill="#111" />
<path d="M411.9 179.5L417.7 179.5" stroke="#111" stroke-width="1.2" fill="none" />
<path d="M424.0 176.2L427.2 176.2L425.6 178.8Z" stroke="#111" stroke-width="0.2" fill="#fff" />
<rect x="429.0" y="180.2" width="1.6" height="1.3" fill="#fff" stroke="none" stroke-width="0" rx="0"/>
<rect x="420.2" y="180.4" width="1.4" height="1.2" fill="#fff" stroke="none" stroke-width="0" rx="0"/>
<rect x="428.4" y="176.8" width="1.2" height="1.2" fill="#fff" stroke="none" stroke-width="0" rx="0"/>
<rect x="422.0" y="175.4" width="1.2" height="1.0" fill="#fff" stroke="none" stroke-width="0" rx="0"/>
<path d="M439.2 176.2L442.4 176.2L440.8 178.8Z" stroke="#111" stroke-width="0.2" fill="#fff" />
<rect x="444.2" y="180.2" width="1.6" height="1.3" fill="#fff" stroke="none" stroke-width="0" rx="0"/>
<rect x="435.4" y="180.4" width="1.4" height="1.2" fill="#fff" stroke="none" stroke-width="0" rx="0"/>
<rect x="443.6" y="176.8" width="1.2" height="1.2" fill="#fff" stroke="none" stroke-width="0" rx="0"/>
<rect x="437.2" y="175.4" width="1.2" height="1.0" fill="#fff" stroke="none" stroke-width="0" rx="0"/>
<path d="M447.7 174.9L454.1 174.9L450.9 179.1Z" stroke="#111" stroke-width="0.4" fill="#111" />
<path d="M448.0 179.5L453.8 179.5" stroke="#111" stroke-width="1.2" fill="none" />
<text x="394.2" y="187.1" font-size="5.0" font-weight="bold" text-anchor="start" class="s" fill="#111" stroke="#111" stroke-width="0.5" textLength="5.0" lengthAdjust="spacingAndGlyphs">P5</text>
<path d="M411.6 182.5L418.0 182.5L414.8 186.7Z" stroke="#111" stroke-width="0.4" fill="#111" />
<path d="M411.9 187.5L417.7 187.5" stroke="#111" stroke-width="1.2" fill="none" />
<path d="M424.0 183.8L427.2 183.8L425.6 186.4Z" stroke="#111" stroke-width="0.2" fill="#fff" />
<rect x="429.0" y="187.8" width="1.6" height="1.3" fill="#fff" stroke="none" stroke-width="0" rx="0"/>
<rect x="420.2" y="188.0" width="1.4" height="1.2" fill="#fff" stroke="none" stroke-width="0" rx="0"/>
<rect x="428.4" y="184.4" width="1.2" height="1.2" fill="#fff" stroke="none" stroke-width="0" rx="0"/>
<rect x="422.0" y="183.0" width="1.2" height="1.0" fill="#fff" stroke="none" stroke-width="0" rx="0"/>
<path d="M439.2 183.8L442.4 183.8L440.8 186.4Z" stroke="#111" stroke-width="0.2" fill="#fff" />
<rect x="444.2" y="187.8" width="1.6" height="1.3" fill="#fff" stroke="none" stroke-width="0" rx="0"/>
<rect x="435.4" y="188.0" width="1.4" height="1.2" fill="#fff" stroke="none" stroke-width="0" rx="0"/>
<rect x="443.6" y="184.4" width="1.2" height="1.2" fill="#fff" stroke="none" stroke-width="0" rx="0"/>
<rect x="437.2" y="183.0" width="1.2" height="1.0" fill="#fff" stroke="none" stroke-width="0" rx="0"/>
<path d="M447.7 182.5L454.1 182.5L450.9 186.7Z" stroke="#111" stroke-width="0.4" fill="#111" />
<path d="M448.0 187.5L453.8 187.5" stroke="#111" stroke-width="1.2" fill="none" />
<text x="456.0" y="187.1" font-size="5.0" font-weight="bold" text-anchor="start" class="s" fill="#111" stroke="#111" stroke-width="0.5" textLength="14.0" lengthAdjust="spacingAndGlyphs">TUNE+</text>
<text x="394.2" y="194.7" font-size="5.0" font-weight="bold" text-anchor="start" class="s" fill="#111" stroke="#111" stroke-width="0.5" textLength="5.0" lengthAdjust="spacingAndGlyphs">P6</text>
<path d="M411.6 190.1L418.0 190.1L414.8 194.3Z" stroke="#111" stroke-width="0.4" fill="#111" />
<path d="M411.9 195.5L417.7 195.5" stroke="#111" stroke-width="1.2" fill="none" />
<path d="M424.0 191.4L427.2 191.4L425.6 194.0Z" stroke="#111" stroke-width="0.2" fill="#fff" />
<rect x="429.0" y="195.4" width="1.6" height="1.3" fill="#fff" stroke="none" stroke-width="0" rx="0"/>
<rect x="420.2" y="195.6" width="1.4" height="1.2" fill="#fff" stroke="none" stroke-width="0" rx="0"/>
<rect x="428.4" y="192.0" width="1.2" height="1.2" fill="#fff" stroke="none" stroke-width="0" rx="0"/>
<rect x="422.0" y="190.6" width="1.2" height="1.0" fill="#fff" stroke="none" stroke-width="0" rx="0"/>
<path d="M439.2 191.4L442.4 191.4L440.8 194.0Z" stroke="#111" stroke-width="0.2" fill="#fff" />
<rect x="444.2" y="195.4" width="1.6" height="1.3" fill="#fff" stroke="none" stroke-width="0" rx="0"/>
<rect x="435.4" y="195.6" width="1.4" height="1.2" fill="#fff" stroke="none" stroke-width="0" rx="0"/>
<rect x="443.6" y="192.0" width="1.2" height="1.2" fill="#fff" stroke="none" stroke-width="0" rx="0"/>
<rect x="437.2" y="190.6" width="1.2" height="1.0" fill="#fff" stroke="none" stroke-width="0" rx="0"/>
<path d="M447.7 190.1L454.1 190.1L450.9 194.3Z" stroke="#111" stroke-width="0.4" fill="#111" />
<path d="M448.0 195.5L453.8 195.5" stroke="#111" stroke-width="1.2" fill="none" />
<text x="456.0" y="194.7" font-size="5.0" font-weight="bold" text-anchor="start" class="s" fill="#111" stroke="#111" stroke-width="0.5" textLength="10.0" lengthAdjust="spacingAndGlyphs">TUN-</text>
<text x="394.2" y="202.3" font-size="5.0" font-weight="bold" text-anchor="start" class="s" fill="#111" stroke="#111" stroke-width="0.5" textLength="5.0" lengthAdjust="spacingAndGlyphs">P7</text>
<path d="M411.6 197.7L418.0 197.7L414.8 201.9Z" stroke="#111" stroke-width="0.4" fill="#111" />
<path d="M411.9 202.5L417.7 202.5" stroke="#111" stroke-width="1.2" fill="none" />
<path d="M424.0 199.0L427.2 199.0L425.6 201.6Z" stroke="#111" stroke-width="0.2" fill="#fff" />
<rect x="429.0" y="203.0" width="1.6" height="1.3" fill="#fff" stroke="none" stroke-width="0" rx="0"/>
<rect x="420.2" y="203.2" width="1.4" height="1.2" fill="#fff" stroke="none" stroke-width="0" rx="0"/>
<rect x="428.4" y="199.6" width="1.2" height="1.2" fill="#fff" stroke="none" stroke-width="0" rx="0"/>
<rect x="422.0" y="198.2" width="1.2" height="1.0" fill="#fff" stroke="none" stroke-width="0" rx="0"/>
<path d="M439.2 199.0L442.4 199.0L440.8 201.6Z" stroke="#111" stroke-width="0.2" fill="#fff" />
<rect x="444.2" y="203.0" width="1.6" height="1.3" fill="#fff" stroke="none" stroke-width="0" rx="0"/>
<rect x="435.4" y="203.2" width="1.4" height="1.2" fill="#fff" stroke="none" stroke-width="0" rx="0"/>
<rect x="443.6" y="199.6" width="1.2" height="1.2" fill="#fff" stroke="none" stroke-width="0" rx="0"/>
<rect x="437.2" y="198.2" width="1.2" height="1.0" fill="#fff" stroke="none" stroke-width="0" rx="0"/>
<path d="M447.7 197.7L454.1 197.7L450.9 201.9Z" stroke="#111" stroke-width="0.4" fill="#111" />
<path d="M448.0 202.5L453.8 202.5" stroke="#111" stroke-width="1.2" fill="none" />
<text x="456.0" y="202.3" font-size="5.0" font-weight="bold" text-anchor="start" class="s" fill="#111" stroke="#111" stroke-width="0.5" textLength="14.0" lengthAdjust="spacingAndGlyphs">DIRECT</text>
<text x="394.2" y="209.9" font-size="5.0" font-weight="bold" text-anchor="start" class="s" fill="#111" stroke="#111" stroke-width="0.5" textLength="5.0" lengthAdjust="spacingAndGlyphs">P8</text>
<path d="M411.6 205.3L418.0 205.3L414.8 209.5Z" stroke="#111" stroke-width="0.4" fill="#111" />
<path d="M411.9 210.5L417.7 210.5" stroke="#111" stroke-width="1.2" fill="none" />
<path d="M424.0 206.6L427.2 206.6L425.6 209.2Z" stroke="#111" stroke-width="0.2" fill="#fff" />
<rect x="429.0" y="210.6" width="1.6" height="1.3" fill="#fff" stroke="none" stroke-width="0" rx="0"/>
<rect x="420.2" y="210.8" width="1.4" height="1.2" fill="#fff" stroke="none" stroke-width="0" rx="0"/>
<rect x="428.4" y="207.2" width="1.2" height="1.2" fill="#fff" stroke="none" stroke-width="0" rx="0"/>
<rect x="422.0" y="205.8" width="1.2" height="1.0" fill="#fff" stroke="none" stroke-width="0" rx="0"/>
<path d="M439.2 206.6L442.4 206.6L440.8 209.2Z" stroke="#111" stroke-width="0.2" fill="#fff" />
<rect x="444.2" y="210.6" width="1.6" height="1.3" fill="#fff" stroke="none" stroke-width="0" rx="0"/>
<rect x="435.4" y="210.8" width="1.4" height="1.2" fill="#fff" stroke="none" stroke-width="0" rx="0"/>
<rect x="443.6" y="207.2" width="1.2" height="1.2" fill="#fff" stroke="none" stroke-width="0" rx="0"/>
<rect x="437.2" y="205.8" width="1.2" height="1.0" fill="#fff" stroke="none" stroke-width="0" rx="0"/>
<path d="M447.7 205.3L454.1 205.3L450.9 209.5Z" stroke="#111" stroke-width="0.4" fill="#111" />
<path d="M448.0 210.5L453.8 210.5" stroke="#111" stroke-width="1.2" fill="none" />
<text x="456.0" y="209.9" font-size="5.0" font-weight="bold" text-anchor="start" class="s" fill="#111" stroke="#111" stroke-width="0.5" textLength="15.8" lengthAdjust="spacingAndGlyphs">RETURN</text>
<text x="394.2" y="217.5" font-size="5.0" font-weight="bold" text-anchor="start" class="s" fill="#111" stroke="#111" stroke-width="0.5" textLength="5.0" lengthAdjust="spacingAndGlyphs">P9</text>
<path d="M411.6 212.9L418.0 212.9L414.8 217.1Z" stroke="#111" stroke-width="0.4" fill="#111" />
<path d="M411.9 217.5L417.7 217.5" stroke="#111" stroke-width="1.2" fill="none" />
<path d="M424.0 214.2L427.2 214.2L425.6 216.8Z" stroke="#111" stroke-width="0.2" fill="#fff" />
<rect x="429.0" y="218.2" width="1.6" height="1.3" fill="#fff" stroke="none" stroke-width="0" rx="0"/>
<rect x="420.2" y="218.4" width="1.4" height="1.2" fill="#fff" stroke="none" stroke-width="0" rx="0"/>
<rect x="428.4" y="214.8" width="1.2" height="1.2" fill="#fff" stroke="none" stroke-width="0" rx="0"/>
<rect x="422.0" y="213.4" width="1.2" height="1.0" fill="#fff" stroke="none" stroke-width="0" rx="0"/>
<path d="M439.2 214.2L442.4 214.2L440.8 216.8Z" stroke="#111" stroke-width="0.2" fill="#fff" />
<rect x="444.2" y="218.2" width="1.6" height="1.3" fill="#fff" stroke="none" stroke-width="0" rx="0"/>
<rect x="435.4" y="218.4" width="1.4" height="1.2" fill="#fff" stroke="none" stroke-width="0" rx="0"/>
<rect x="443.6" y="214.8" width="1.2" height="1.2" fill="#fff" stroke="none" stroke-width="0" rx="0"/>
<rect x="437.2" y="213.4" width="1.2" height="1.0" fill="#fff" stroke="none" stroke-width="0" rx="0"/>
<path d="M447.7 212.9L454.1 212.9L450.9 217.1Z" stroke="#111" stroke-width="0.4" fill="#111" />
<path d="M448.0 217.5L453.8 217.5" stroke="#111" stroke-width="1.2" fill="none" />
<text x="456.0" y="217.5" font-size="5.0" font-weight="bold" text-anchor="start" class="s" fill="#111" stroke="#111" stroke-width="0.5" textLength="15.8" lengthAdjust="spacingAndGlyphs">CHARAC</text>
<text x="394.2" y="225.1" font-size="5.0" font-weight="bold" text-anchor="start" class="s" fill="#111" stroke="#111" stroke-width="0.5" textLength="5.0" lengthAdjust="spacingAndGlyphs">P0</text>
<path d="M411.6 220.5L418.0 220.5L414.8 224.7Z" stroke="#111" stroke-width="0.4" fill="#111" />
<path d="M411.9 225.5L417.7 225.5" stroke="#111" stroke-width="1.2" fill="none" />
<path d="M424.0 221.8L427.2 221.8L425.6 224.4Z" stroke="#111" stroke-width="0.2" fill="#fff" />
<rect x="429.0" y="225.8" width="1.6" height="1.3" fill="#fff" stroke="none" stroke-width="0" rx="0"/>
<rect x="420.2" y="226.0" width="1.4" height="1.2" fill="#fff" stroke="none" stroke-width="0" rx="0"/>
<rect x="428.4" y="222.4" width="1.2" height="1.2" fill="#fff" stroke="none" stroke-width="0" rx="0"/>
<rect x="422.0" y="221.0" width="1.2" height="1.0" fill="#fff" stroke="none" stroke-width="0" rx="0"/>
<path d="M439.2 221.8L442.4 221.8L440.8 224.4Z" stroke="#111" stroke-width="0.2" fill="#fff" />
<rect x="444.2" y="225.8" width="1.6" height="1.3" fill="#fff" stroke="none" stroke-width="0" rx="0"/>
<rect x="435.4" y="226.0" width="1.4" height="1.2" fill="#fff" stroke="none" stroke-width="0" rx="0"/>
<rect x="443.6" y="222.4" width="1.2" height="1.2" fill="#fff" stroke="none" stroke-width="0" rx="0"/>
<rect x="437.2" y="221.0" width="1.2" height="1.0" fill="#fff" stroke="none" stroke-width="0" rx="0"/>
<path d="M447.7 220.5L454.1 220.5L450.9 224.7Z" stroke="#111" stroke-width="0.4" fill="#111" />
<path d="M448.0 225.5L453.8 225.5" stroke="#111" stroke-width="1.2" fill="none" />
<text x="456.0" y="225.1" font-size="5.0" font-weight="bold" text-anchor="start" class="s" fill="#111" stroke="#111" stroke-width="0.5" textLength="20.0" lengthAdjust="spacingAndGlyphs">ANT ATT</text>
<text x="394.2" y="232.7" font-size="5.0" font-weight="bold" text-anchor="start" class="s" fill="#111" stroke="#111" stroke-width="0.5" textLength="14.5" lengthAdjust="spacingAndGlyphs">SHIFT</text>
<path d="M411.6 228.1L418.0 228.1L414.8 232.3Z" stroke="#111" stroke-width="0.4" fill="#111" />
<path d="M411.9 233.5L417.7 233.5" stroke="#111" stroke-width="1.2" fill="none" />
<path d="M424.0 229.4L427.2 229.4L425.6 232.0Z" stroke="#111" stroke-width="0.2" fill="#fff" />
<rect x="429.0" y="233.4" width="1.6" height="1.3" fill="#fff" stroke="none" stroke-width="0" rx="0"/>
<rect x="420.2" y="233.6" width="1.4" height="1.2" fill="#fff" stroke="none" stroke-width="0" rx="0"/>
<rect x="428.4" y="230.0" width="1.2" height="1.2" fill="#fff" stroke="none" stroke-width="0" rx="0"/>
<rect x="422.0" y="228.6" width="1.2" height="1.0" fill="#fff" stroke="none" stroke-width="0" rx="0"/>
<path d="M439.2 229.4L442.4 229.4L440.8 232.0Z" stroke="#111" stroke-width="0.2" fill="#fff" />
<rect x="444.2" y="233.4" width="1.6" height="1.3" fill="#fff" stroke="none" stroke-width="0" rx="0"/>
<rect x="435.4" y="233.6" width="1.4" height="1.2" fill="#fff" stroke="none" stroke-width="0" rx="0"/>
<rect x="443.6" y="230.0" width="1.2" height="1.2" fill="#fff" stroke="none" stroke-width="0" rx="0"/>
<rect x="437.2" y="228.6" width="1.2" height="1.0" fill="#fff" stroke="none" stroke-width="0" rx="0"/>
<path d="M447.7 228.1L454.1 228.1L450.9 232.3Z" stroke="#111" stroke-width="0.4" fill="#111" />
<path d="M448.0 233.5L453.8 233.5" stroke="#111" stroke-width="1.2" fill="none" />
<text x="456.0" y="232.7" font-size="5.0" font-weight="bold" text-anchor="start" class="s" fill="#111" stroke="#111" stroke-width="0.5" textLength="20.0" lengthAdjust="spacingAndGlyphs">IF BAND</text>
<text x="394.2" y="240.3" font-size="5.0" font-weight="bold" text-anchor="start" class="s" fill="#111" stroke="#111" stroke-width="0.5" textLength="10.0" lengthAdjust="spacingAndGlyphs">BAND</text>
<path d="M411.6 235.7L418.0 235.7L414.8 239.9Z" stroke="#111" stroke-width="0.4" fill="#111" />
<path d="M411.9 240.5L417.7 240.5" stroke="#111" stroke-width="1.2" fill="none" />
<path d="M424.0 237.0L427.2 237.0L425.6 239.6Z" stroke="#111" stroke-width="0.2" fill="#fff" />
<rect x="429.0" y="241.0" width="1.6" height="1.3" fill="#fff" stroke="none" stroke-width="0" rx="0"/>
<rect x="420.2" y="241.2" width="1.4" height="1.2" fill="#fff" stroke="none" stroke-width="0" rx="0"/>
<rect x="428.4" y="237.6" width="1.2" height="1.2" fill="#fff" stroke="none" stroke-width="0" rx="0"/>
<rect x="422.0" y="236.2" width="1.2" height="1.0" fill="#fff" stroke="none" stroke-width="0" rx="0"/>
<path d="M439.2 237.0L442.4 237.0L440.8 239.6Z" stroke="#111" stroke-width="0.2" fill="#fff" />
<rect x="444.2" y="241.0" width="1.6" height="1.3" fill="#fff" stroke="none" stroke-width="0" rx="0"/>
<rect x="435.4" y="241.2" width="1.4" height="1.2" fill="#fff" stroke="none" stroke-width="0" rx="0"/>
<rect x="443.6" y="237.6" width="1.2" height="1.2" fill="#fff" stroke="none" stroke-width="0" rx="0"/>
<rect x="437.2" y="236.2" width="1.2" height="1.0" fill="#fff" stroke="none" stroke-width="0" rx="0"/>
<rect x="447.6" y="236.2" width="6.3" height="4.4" fill="#111" stroke="none" stroke-width="0" rx="0"/>
<text x="394.2" y="247.9" font-size="5.0" font-weight="bold" text-anchor="start" class="s" fill="#111" stroke="#111" stroke-width="0.5" textLength="14.5" lengthAdjust="spacingAndGlyphs">ENTER</text>
<path d="M411.6 243.3L418.0 243.3L414.8 247.5Z" stroke="#111" stroke-width="0.4" fill="#111" />
<path d="M411.9 248.5L417.7 248.5" stroke="#111" stroke-width="1.2" fill="none" />
<path d="M424.0 244.6L427.2 244.6L425.6 247.2Z" stroke="#111" stroke-width="0.2" fill="#fff" />
<rect x="429.0" y="248.6" width="1.6" height="1.3" fill="#fff" stroke="none" stroke-width="0" rx="0"/>
<rect x="420.2" y="248.8" width="1.4" height="1.2" fill="#fff" stroke="none" stroke-width="0" rx="0"/>
<rect x="428.4" y="245.2" width="1.2" height="1.2" fill="#fff" stroke="none" stroke-width="0" rx="0"/>
<rect x="422.0" y="243.8" width="1.2" height="1.0" fill="#fff" stroke="none" stroke-width="0" rx="0"/>
<path d="M439.2 244.6L442.4 244.6L440.8 247.2Z" stroke="#111" stroke-width="0.2" fill="#fff" />
<rect x="444.2" y="248.6" width="1.6" height="1.3" fill="#fff" stroke="none" stroke-width="0" rx="0"/>
<rect x="435.4" y="248.8" width="1.4" height="1.2" fill="#fff" stroke="none" stroke-width="0" rx="0"/>
<rect x="443.6" y="245.2" width="1.2" height="1.2" fill="#fff" stroke="none" stroke-width="0" rx="0"/>
<rect x="437.2" y="243.8" width="1.2" height="1.0" fill="#fff" stroke="none" stroke-width="0" rx="0"/>
<rect x="447.6" y="243.8" width="6.3" height="4.4" fill="#111" stroke="none" stroke-width="0" rx="0"/>
<text x="394.2" y="255.5" font-size="5.0" font-weight="bold" text-anchor="start" class="s" fill="#111" stroke="#111" stroke-width="0.5" textLength="12.0" lengthAdjust="spacingAndGlyphs">MODE</text>
<path d="M411.6 250.9L418.0 250.9L414.8 255.1Z" stroke="#111" stroke-width="0.4" fill="#111" />
<path d="M411.9 255.5L417.7 255.5" stroke="#111" stroke-width="1.2" fill="none" />
<path d="M424.0 252.2L427.2 252.2L425.6 254.8Z" stroke="#111" stroke-width="0.2" fill="#fff" />
<rect x="429.0" y="256.2" width="1.6" height="1.3" fill="#fff" stroke="none" stroke-width="0" rx="0"/>
<rect x="420.2" y="256.4" width="1.4" height="1.2" fill="#fff" stroke="none" stroke-width="0" rx="0"/>
<rect x="428.4" y="252.8" width="1.2" height="1.2" fill="#fff" stroke="none" stroke-width="0" rx="0"/>
<rect x="422.0" y="251.4" width="1.2" height="1.0" fill="#fff" stroke="none" stroke-width="0" rx="0"/>
<path d="M439.2 252.2L442.4 252.2L440.8 254.8Z" stroke="#111" stroke-width="0.2" fill="#fff" />
<rect x="444.2" y="256.2" width="1.6" height="1.3" fill="#fff" stroke="none" stroke-width="0" rx="0"/>
<rect x="435.4" y="256.4" width="1.4" height="1.2" fill="#fff" stroke="none" stroke-width="0" rx="0"/>
<rect x="443.6" y="252.8" width="1.2" height="1.2" fill="#fff" stroke="none" stroke-width="0" rx="0"/>
<rect x="437.2" y="251.4" width="1.2" height="1.0" fill="#fff" stroke="none" stroke-width="0" rx="0"/>
<rect x="447.6" y="251.4" width="6.3" height="4.4" fill="#111" stroke="none" stroke-width="0" rx="0"/>
<rect x="456.2" y="173.6" width="25.5" height="8.2" fill="#fff" stroke="#111" stroke-width="1.0" rx="0"/>
<text x="469.0" y="177.0" font-size="3.0" font-weight="bold" text-anchor="middle" class="s" fill="#111" stroke="#111" stroke-width="0.25" textLength="22">PTY SELECT</text>
<text x="469.0" y="180.8" font-size="3.0" font-weight="bold" text-anchor="middle" class="s" fill="#111" stroke="#111" stroke-width="0.25" >/CLOCK</text>
<path d="M483.5 185.0L483.5 256.2" stroke="#111" stroke-width="1.0" fill="none" />
<path d="M483.5 256.5L513.8 256.5" stroke="#111" stroke-width="1.0" fill="none" />
<path d="M488.5 185.0L488.5 250.8" stroke="#111" stroke-width="1.0" fill="none" />
<circle cx="488.5" cy="190.5" r="1.25" fill="#111" stroke="none" stroke-width="0"/>
<path d="M488.5 190.5L533.9 190.5" stroke="#111" stroke-width="1.0" fill="none" />
<path d="M488.5 250.5L503.1 250.5" stroke="#111" stroke-width="1.0" fill="none" />
<path d="M493.5 185.0L493.5 205.8" stroke="#111" stroke-width="1.0" fill="none" />
<path d="M493.6 205.5L533.9 205.5" stroke="#111" stroke-width="1.0" fill="none" />
<path d="M498.5 185.0L498.5 201.1" stroke="#111" stroke-width="1.0" fill="none" />
<path d="M498.6 201.5L528.3 201.5" stroke="#111" stroke-width="1.0" fill="none" />
<path d="M528.5 190.7L528.5 271.1" stroke="#111" stroke-width="1.0" fill="none" />
<path d="M533.5 190.7L533.5 271.1" stroke="#111" stroke-width="1.0" fill="none" />
<circle cx="528.5" cy="190.5" r="1.25" fill="#111" stroke="none" stroke-width="0"/>
<circle cx="528.5" cy="201.5" r="1.25" fill="#111" stroke="none" stroke-width="0"/>
<circle cx="528.5" cy="210.5" r="1.25" fill="#111" stroke="none" stroke-width="0"/>
<circle cx="528.5" cy="231.5" r="1.25" fill="#111" stroke="none" stroke-width="0"/>
<circle cx="533.5" cy="205.5" r="1.25" fill="#111" stroke="none" stroke-width="0"/>
<circle cx="533.5" cy="215.5" r="1.25" fill="#111" stroke="none" stroke-width="0"/>
<circle cx="533.5" cy="231.5" r="1.25" fill="#111" stroke="none" stroke-width="0"/>
<circle cx="491.5" cy="250.5" r="1.25" fill="#111" stroke="none" stroke-width="0"/>
<circle cx="503.5" cy="250.5" r="1.25" fill="#111" stroke="none" stroke-width="0"/>
<path d="M528.3 210.5L540.0 210.5" stroke="#111" stroke-width="1.0" fill="none" />
<path d="M533.9 215.5L540.0 215.5" stroke="#111" stroke-width="1.0" fill="none" />
<path d="M538.4 220.5L540.0 220.5" stroke="#111" stroke-width="1.0" fill="none" />
<path d="M538.5 220.9L538.5 271.1" stroke="#111" stroke-width="1.0" fill="none" />
<text x="506.2" y="187.4" font-size="3.3" font-weight="bold" class="s" fill="#111" stroke="#111" stroke-width="0.7" textLength="8.4" lengthAdjust="spacingAndGlyphs">2.2k</text>
<text x="506.2" y="190.1" font-size="3.3" font-weight="bold" class="s" fill="#111" stroke="#111" stroke-width="0.7" textLength="8.4" lengthAdjust="spacingAndGlyphs">C701</text>
<text x="519.2" y="200.6" font-size="5.2" font-weight="bold" class="s" fill="#111" stroke="#111" stroke-width="0.7" textLength="7.2" lengthAdjust="spacingAndGlyphs">0.01</text>
<text x="532.7" y="199.7" font-size="5.2" font-weight="bold" class="s" fill="#111" stroke="#111" stroke-width="0.7" textLength="7.3" lengthAdjust="spacingAndGlyphs">R703</text>
<rect x="492.7" y="208.7" width="10.6" height="10.1" fill="#fff" stroke="#111" stroke-width="1.5" rx="0"/>
<text x="498.0" y="217.5" font-size="9" font-weight="bold" text-anchor="middle" class="m" fill="#111" stroke="#111" stroke-width="0.8" >R</text>
<rect x="497.8" y="223.6" width="20.8" height="15.6" fill="#fff" stroke="#111" stroke-width="1.0" rx="0"/>
<text x="508.1" y="222.3" font-size="4.2" font-weight="bold" text-anchor="middle" class="s" fill="#111" stroke="#111" stroke-width="0.5" textLength="15">IC702</text>
<circle cx="502.7" cy="238.6" r="2.27" fill="#fff" stroke="#111" stroke-width="0.9"/>
<path d="M503.3 240.5L505.8 245.5" stroke="#111" stroke-width="1.6" fill="none" />
<circle cx="508.1" cy="238.6" r="2.27" fill="#fff" stroke="#111" stroke-width="0.9"/>
<path d="M508.7 240.5L511.2 245.5" stroke="#111" stroke-width="1.6" fill="none" />
<circle cx="513.1" cy="238.6" r="2.27" fill="#fff" stroke="#111" stroke-width="0.9"/>
<path d="M513.8 240.5L516.3 245.5" stroke="#111" stroke-width="1.6" fill="none" />
<path d="M503.5 240.5L503.5 271.1" stroke="#111" stroke-width="1.0" fill="none" />
<path d="M508.5 240.5L508.5 271.1" stroke="#111" stroke-width="1.0" fill="none" />
<path d="M513.5 245.5L513.5 256.2" stroke="#111" stroke-width="1.0" fill="none" />
<text x="490.4" y="247.9" font-size="5.2" font-weight="bold" class="s" fill="#111" stroke="#111" stroke-width="0.7" textLength="6.1" lengthAdjust="spacingAndGlyphs">100k</text>
<rect x="489.4" y="249.9" width="4.5" height="1.9" fill="#111" stroke="none" stroke-width="0" rx="0"/>
<rect x="486.9" y="255.6" width="4.5" height="1.9" fill="#111" stroke="none" stroke-width="0" rx="0"/>
<text x="530.2" y="240.9" font-size="3.9" font-weight="bold" class="s" fill="#111" stroke="#111" stroke-width="0.7" textLength="7.9" lengthAdjust="spacingAndGlyphs">C705</text>
<text x="530.2" y="244.1" font-size="3.9" font-weight="bold" class="s" fill="#111" stroke="#111" stroke-width="0.7" textLength="7.9" lengthAdjust="spacingAndGlyphs">47p</text>
<text x="530.2" y="248.2" font-size="3.5" font-weight="bold" class="s" fill="#111" stroke="#111" stroke-width="0.7" textLength="7.9" lengthAdjust="spacingAndGlyphs">R707</text>
<text x="530.2" y="251.0" font-size="3.5" font-weight="bold" class="s" fill="#111" stroke="#111" stroke-width="0.7" textLength="7.9" lengthAdjust="spacingAndGlyphs">10k</text>
<rect x="453.5" y="254.3" width="24.0" height="7.6" fill="#fff" stroke="#111" stroke-width="1.0" rx="0"/>
<text x="465.5" y="260.4" font-size="4.2" font-weight="bold" text-anchor="middle" class="m" fill="#111" stroke="#111" stroke-width="0.5" textLength="21" lengthAdjust="spacingAndGlyphs">S701-S732</text>
<text x="465.5" y="265.4" font-size="3.0" font-weight="bold" text-anchor="middle" class="s" fill="#111" stroke="#111" stroke-width="0.25" textLength="22">KEY MATRIX</text>
<path d="M560.5 190.5L636.5 190.5L636.5 245.5L560.5 245.5L560.5 190.5" stroke="#111" stroke-width="1.5" fill="none" stroke-dasharray="17 1.3 5.4 1.3"/>
<text x="563.3" y="200.6" font-size="7.85" font-weight="bold" class="m" fill="#111" stroke="#111" stroke-width="0.6" transform="translate(0 200.6) scale(1 1.08) translate(0 -200.6)">[ENCODER BOARD]</text>
<path d="M533.9 210.5L588.5 210.5" stroke="#111" stroke-width="1.0" fill="none" />
<circle cx="545.5" cy="210.5" r="1.10" fill="#111" stroke="none" stroke-width="0"/>
<circle cx="561.5" cy="210.5" r="1.10" fill="#111" stroke="none" stroke-width="0"/>
<text x="547.8" y="209.7" font-size="3.4" font-weight="bold" text-anchor="start" class="s" fill="#111" stroke="#111" stroke-width="0.45" textLength="9">JOG A</text>
<circle cx="591.1" cy="210.9" r="2.52" fill="#fff" stroke="#111" stroke-width="0.9"/>
<path d="M533.9 215.5L588.5 215.5" stroke="#111" stroke-width="1.0" fill="none" />
<circle cx="545.5" cy="215.5" r="1.10" fill="#111" stroke="none" stroke-width="0"/>
<circle cx="561.5" cy="215.5" r="1.10" fill="#111" stroke="none" stroke-width="0"/>
<text x="547.8" y="214.8" font-size="3.4" font-weight="bold" text-anchor="start" class="s" fill="#111" stroke="#111" stroke-width="0.45" textLength="9">JOG B</text>
<circle cx="591.1" cy="215.9" r="2.52" fill="#fff" stroke="#111" stroke-width="0.9"/>
<path d="M533.9 220.5L588.5 220.5" stroke="#111" stroke-width="1.0" fill="none" />
<circle cx="545.5" cy="220.5" r="1.10" fill="#111" stroke="none" stroke-width="0"/>
<circle cx="561.5" cy="220.5" r="1.10" fill="#111" stroke="none" stroke-width="0"/>
<text x="547.8" y="219.8" font-size="3.4" font-weight="bold" text-anchor="start" class="s" fill="#111" stroke="#111" stroke-width="0.45" textLength="9">D GND</text>
<circle cx="591.1" cy="220.9" r="2.52" fill="#fff" stroke="#111" stroke-width="0.9"/>
<circle cx="601.8" cy="215.9" r="12.61" fill="none" stroke="#111" stroke-width="1.0"/>
<circle cx="591.1" cy="210.9" r="2.52" fill="#fff" stroke="#111" stroke-width="0.9"/>
<circle cx="591.1" cy="215.9" r="2.52" fill="#fff" stroke="#111" stroke-width="0.9"/>
<circle cx="591.1" cy="220.9" r="2.52" fill="#fff" stroke="#111" stroke-width="0.9"/>
<text x="602.7" y="214.8" font-size="3.6" font-weight="bold" text-anchor="middle" class="s" fill="#111" stroke="#111" stroke-width="0.45" >ROTARY</text>
<text x="602.7" y="220.1" font-size="3.6" font-weight="bold" text-anchor="middle" class="s" fill="#111" stroke="#111" stroke-width="0.45" >ENCODER</text>
<path d="M614.4 215.5L626.4 215.5" stroke="#111" stroke-width="1.0" fill="none" />
<path d="M626.5 215.9L626.5 223.5" stroke="#111" stroke-width="1.0" fill="none" />
<circle cx="626.4" cy="224.3" r="1.51" fill="#111" stroke="none" stroke-width="0"/>
<text x="601.8" y="231.9" font-size="2.8" font-weight="bold" text-anchor="middle" class="s" fill="#111" stroke="#111" stroke-width="0.25" >S801</text>
<rect x="585.6" y="233.5" width="28.8" height="5.9" fill="#fff" stroke="#111" stroke-width="0.9" rx="0"/>
<text x="600.0" y="238.3" font-size="4.2" font-weight="bold" text-anchor="middle" class="s" fill="#111" stroke="#111" stroke-width="0.6" textLength="25">JOG DIAL</text>
<path d="M369.5 271.0L369.5 341.0" stroke="#111" stroke-width="1.4" fill="none" />
<path d="M365.5 289.0L365.5 341.0" stroke="#111" stroke-width="1.5" fill="none" />
<path d="M430.5 271.3L430.5 340.7" stroke="#111" stroke-width="1.0" fill="none" />
<path d="M435.5 260.0L435.5 271.3" stroke="#111" stroke-width="1.0" fill="none" />
<circle cx="430.5" cy="271.5" r="1.25" fill="#111" stroke="none" stroke-width="0"/>
<circle cx="435.5" cy="271.5" r="1.25" fill="#111" stroke="none" stroke-width="0"/>
<text x="408.1" y="275.4" font-size="4.1" font-weight="bold" class="s" fill="#111" stroke="#111" stroke-width="0.7" textLength="7.1" lengthAdjust="spacingAndGlyphs">Q701</text>
<text x="408.1" y="278.7" font-size="4.1" font-weight="bold" class="s" fill="#111" stroke="#111" stroke-width="0.7" textLength="7.1" lengthAdjust="spacingAndGlyphs">D701</text>
<rect x="410.0" y="269.1" width="3.2" height="2.3" fill="#111" stroke="none" stroke-width="0" rx="0"/>
<path d="M374.5 260.0L374.5 340.7" stroke="#111" stroke-width="1.0" fill="none" />
<path d="M377.5 260.0L377.5 340.7" stroke="#111" stroke-width="1.0" fill="none" />
<path d="M380.5 260.0L380.5 340.7" stroke="#111" stroke-width="1.5" fill="none" />
<path d="M385.5 260.0L385.5 340.7" stroke="#111" stroke-width="1.0" fill="none" />
<path d="M390.5 260.0L390.5 340.7" stroke="#111" stroke-width="1.0" fill="none" />
<circle cx="503.5" cy="271.5" r="1.10" fill="#111" stroke="none" stroke-width="0"/>
<circle cx="508.5" cy="271.5" r="1.10" fill="#111" stroke="none" stroke-width="0"/>
<circle cx="528.5" cy="271.5" r="1.10" fill="#111" stroke="none" stroke-width="0"/>
<circle cx="533.5" cy="271.5" r="1.10" fill="#111" stroke="none" stroke-width="0"/>
<path d="M56.5 260.0L56.5 289.6" stroke="#111" stroke-width="1.0" fill="none" />
<path d="M56.1 289.5L66.5 289.5" stroke="#111" stroke-width="1.0" fill="none" />
<path d="M78.5 260.0L78.5 321.8" stroke="#111" stroke-width="1.0" fill="none" />
<circle cx="78.5" cy="297.5" r="1.25" fill="#111" stroke="none" stroke-width="0"/>
<path d="M78.8 297.5L86.7 297.5" stroke="#111" stroke-width="1.0" fill="none" />
<path d="M86.5 297.8L86.5 321.8" stroke="#111" stroke-width="1.0" fill="none" />
<path d="M66.2 278.5L128.9 278.5" stroke="#111" stroke-width="1.0" fill="none" />
<path d="M66.5 278.7L66.5 321.8" stroke="#111" stroke-width="1.0" fill="none" />
<path d="M66.2 321.5L125.8 321.5" stroke="#111" stroke-width="1.0" fill="none" />
<path d="M91.5 278.7L91.5 321.8" stroke="#111" stroke-width="1.0" fill="none" />
<circle cx="91.5" cy="278.5" r="1.25" fill="#111" stroke="none" stroke-width="0"/>
<circle cx="91.5" cy="321.5" r="1.25" fill="#111" stroke="none" stroke-width="0"/>
<path d="M109.5 278.7L109.5 321.8" stroke="#111" stroke-width="1.0" fill="none" />
<circle cx="109.5" cy="278.5" r="1.25" fill="#111" stroke="none" stroke-width="0"/>
<circle cx="109.5" cy="321.5" r="1.25" fill="#111" stroke="none" stroke-width="0"/>
<path d="M119.5 278.7L119.5 321.8" stroke="#111" stroke-width="1.0" fill="none" />
<circle cx="119.5" cy="278.5" r="1.25" fill="#111" stroke="none" stroke-width="0"/>
<circle cx="119.5" cy="321.5" r="1.25" fill="#111" stroke="none" stroke-width="0"/>
<circle cx="66.5" cy="321.5" r="1.25" fill="#111" stroke="none" stroke-width="0"/>
<circle cx="78.5" cy="321.5" r="1.25" fill="#111" stroke="none" stroke-width="0"/>
<circle cx="86.5" cy="321.5" r="1.25" fill="#111" stroke="none" stroke-width="0"/>
<circle cx="123.5" cy="321.5" r="1.25" fill="#111" stroke="none" stroke-width="0"/>
<circle cx="128.5" cy="278.5" r="1.25" fill="#111" stroke="none" stroke-width="0"/>
<circle cx="123.5" cy="263.5" r="1.25" fill="#111" stroke="none" stroke-width="0"/>
<circle cx="123.5" cy="268.5" r="1.25" fill="#111" stroke="none" stroke-width="0"/>
<circle cx="123.5" cy="272.5" r="1.25" fill="#111" stroke="none" stroke-width="0"/>
<path d="M123.5 260.0L123.5 335.0" stroke="#111" stroke-width="1.0" fill="none" />
<path d="M128.5 260.0L128.5 278.7" stroke="#111" stroke-width="1.0" fill="none" />
<circle cx="67.5" cy="299.1" r="3.53" fill="#fff" stroke="#111" stroke-width="1.2"/>
<path d="M70.9 297.8L75.9 294.0" stroke="#111" stroke-width="1.2" fill="none" />
<path d="M131.5 284.0L131.5 340.7" stroke="#111" stroke-width="1.5" fill="none"/>
<path d="M131.5 285.2Q131.8 282.7 133.9 282.5L159.8 282.5" stroke="#111" stroke-width="0.9" fill="none"/>
<rect x="133.9" y="279.7" width="3.8" height="2.3" fill="#111" stroke="none" stroke-width="0" rx="0"/>
<path d="M131.5 289.9Q131.8 287.4 133.9 287.5L159.8 287.5" stroke="#111" stroke-width="0.9" fill="none"/>
<rect x="133.9" y="284.3" width="3.8" height="2.3" fill="#111" stroke="none" stroke-width="0" rx="0"/>
<path d="M131.5 294.6Q131.8 292.0 133.9 291.5L159.8 291.5" stroke="#111" stroke-width="0.9" fill="none"/>
<rect x="133.9" y="289.0" width="3.8" height="2.3" fill="#111" stroke="none" stroke-width="0" rx="0"/>
<path d="M131.5 299.3Q131.8 296.8 133.9 296.5L159.8 296.5" stroke="#111" stroke-width="0.9" fill="none"/>
<rect x="133.9" y="293.8" width="3.8" height="2.3" fill="#111" stroke="none" stroke-width="0" rx="0"/>
<text x="58.3" y="286.9" font-size="5.2" font-weight="bold" class="s" fill="#111" stroke="#111" stroke-width="0.7" textLength="8.8" lengthAdjust="spacingAndGlyphs">4.7k</text>
<text x="71.5" y="284.4" font-size="4.7" font-weight="bold" class="s" fill="#111" stroke="#111" stroke-width="0.7" textLength="8.6" lengthAdjust="spacingAndGlyphs">R710</text>
<text x="71.5" y="288.2" font-size="4.7" font-weight="bold" class="s" fill="#111" stroke="#111" stroke-width="0.7" textLength="8.6" lengthAdjust="spacingAndGlyphs">1k</text>
<text x="77.8" y="290.7" font-size="4.9" font-weight="bold" class="s" fill="#111" stroke="#111" stroke-width="0.7" textLength="3.2" lengthAdjust="spacingAndGlyphs">C710</text>
<text x="99.3" y="285.5" font-size="4.5" font-weight="bold" class="s" fill="#111" stroke="#111" stroke-width="0.7" textLength="6.9" lengthAdjust="spacingAndGlyphs">0.1</text>
<text x="99.3" y="289.1" font-size="4.5" font-weight="bold" class="s" fill="#111" stroke="#111" stroke-width="0.7" textLength="6.9" lengthAdjust="spacingAndGlyphs">R712</text>
<text transform="translate(111.0 289.3) rotate(-90)" font-size="5.0" font-weight="bold" class="s" fill="#111" stroke="#111" stroke-width="0.7" textLength="6.6" lengthAdjust="spacingAndGlyphs">220</text>
<text x="52.6" y="306.7" font-size="3.6" font-weight="bold" class="s" fill="#111" stroke="#111" stroke-width="0.7" textLength="10.7" lengthAdjust="spacingAndGlyphs">C714</text>
<text x="53.2" y="312.1" font-size="4.9" font-weight="bold" class="s" fill="#111" stroke="#111" stroke-width="0.7" textLength="10.1" lengthAdjust="spacingAndGlyphs">R716</text>
<text transform="translate(82.1 310.4) rotate(-90)" font-size="5.0" font-weight="bold" class="s" fill="#111" stroke="#111" stroke-width="0.7" textLength="8.8" lengthAdjust="spacingAndGlyphs">2.2k</text>
<text transform="translate(82.1 319.3) rotate(-90)" font-size="4.9" font-weight="bold" class="s" fill="#111" stroke="#111" stroke-width="0.7" textLength="6.3" lengthAdjust="spacingAndGlyphs">C701</text>
<text x="85.6" y="310.5" font-size="5.2" font-weight="bold" class="s" fill="#111" stroke="#111" stroke-width="0.7" textLength="6.3" lengthAdjust="spacingAndGlyphs">0.01</text>
<text transform="translate(89.9 319.3) rotate(-90)" font-size="4.9" font-weight="bold" class="s" fill="#111" stroke="#111" stroke-width="0.7" textLength="6.3" lengthAdjust="spacingAndGlyphs">R703</text>
<text transform="translate(100.6 301.0) rotate(-90)" font-size="4.9" font-weight="bold" class="s" fill="#111" stroke="#111" stroke-width="0.7" textLength="9.5" lengthAdjust="spacingAndGlyphs">100k</text>
<text x="94.2" y="306.0" font-size="4.1" font-weight="bold" class="s" fill="#111" stroke="#111" stroke-width="0.7" textLength="6.9" lengthAdjust="spacingAndGlyphs">C705</text>
<text x="94.2" y="309.2" font-size="4.1" font-weight="bold" class="s" fill="#111" stroke="#111" stroke-width="0.7" textLength="6.9" lengthAdjust="spacingAndGlyphs">47p</text>
<text transform="translate(96.4 316.1) rotate(-90)" font-size="3.3" font-weight="bold" class="s" fill="#111" stroke="#111" stroke-width="0.7" textLength="5.7" lengthAdjust="spacingAndGlyphs">R707</text>
<text x="98.6" y="314.7" font-size="5.0" font-weight="bold" class="s" fill="#111" stroke="#111" stroke-width="0.7" textLength="10.1" lengthAdjust="spacingAndGlyphs">10k</text>
<text x="98.6" y="319.1" font-size="5.0" font-weight="bold" class="s" fill="#111" stroke="#111" stroke-width="0.7" textLength="10.1" lengthAdjust="spacingAndGlyphs">Q701</text>
<text transform="translate(110.2 318.6) rotate(-90)" font-size="3.3" font-weight="bold" class="s" fill="#111" stroke="#111" stroke-width="0.7" textLength="5.0" lengthAdjust="spacingAndGlyphs">D701</text>
<text x="108.7" y="306.2" font-size="5.2" font-weight="bold" class="s" fill="#111" stroke="#111" stroke-width="0.7" textLength="6.9" lengthAdjust="spacingAndGlyphs">4.7k</text>
<text x="111.9" y="300.8" font-size="5.2" font-weight="bold" class="s" fill="#111" stroke="#111" stroke-width="0.7" textLength="3.8" lengthAdjust="spacingAndGlyphs">R710</text>
<text transform="translate(122.4 316.7) rotate(-90)" font-size="5.0" font-weight="bold" class="s" fill="#111" stroke="#111" stroke-width="0.7" textLength="17.7" lengthAdjust="spacingAndGlyphs">1k</text>
<text x="103.1" y="307.1" font-size="5.2" font-weight="bold" class="s" fill="#111" stroke="#111" stroke-width="0.7" textLength="4.4" lengthAdjust="spacingAndGlyphs">C710</text>
<path d="M92.3 285.2L95.1 279.5L98.0 285.2Z" stroke="#111" stroke-width="0.5" fill="#111" />
<path d="M113.8 291.5L116.9 290.9L116.9 293.0" stroke="#111" stroke-width="0.8" fill="none" />
<path d="M132.4 281.5L160.2 281.5" stroke="#111" stroke-width="1.0" fill="none" />
<rect x="147.8" y="279.4" width="9.8" height="2.3" fill="#111" stroke="none" stroke-width="0" rx="0"/>
<path d="M132.4 286.5L160.2 286.5" stroke="#111" stroke-width="1.0" fill="none" />
<rect x="147.8" y="284.5" width="9.8" height="2.3" fill="#111" stroke="none" stroke-width="0" rx="0"/>
<path d="M132.4 291.5L160.2 291.5" stroke="#111" stroke-width="1.0" fill="none" />
<rect x="147.8" y="289.5" width="9.8" height="2.3" fill="#111" stroke="none" stroke-width="0" rx="0"/>
<path d="M132.4 296.5L160.2 296.5" stroke="#111" stroke-width="1.0" fill="none" />
<rect x="147.8" y="294.6" width="9.8" height="2.3" fill="#111" stroke="none" stroke-width="0" rx="0"/>
<rect x="151.1" y="274.9" width="6.6" height="2.8" fill="#111" stroke="none" stroke-width="0" rx="0"/>
<path d="M573.5 253.5L651.5 253.5L651.5 333.5L573.5 333.5L573.5 253.5" stroke="#111" stroke-width="1.5" fill="none" stroke-dasharray="17 1.3 5.4 1.3"/>
<text x="583.3" y="263.4" font-size="7.85" font-weight="bold" class="m" fill="#111" stroke="#111" stroke-width="0.6" transform="translate(0 263.4) scale(1 1.08) translate(0 -263.4)">[TRANS BOARD]</text>
<circle cx="556.1" cy="299.0" r="5.30" fill="#fff" stroke="#111" stroke-width="1.3"/>
<circle cx="556.1" cy="299.0" r="3.53" fill="#fff" stroke="#111" stroke-width="0.9"/>
<text x="556.1" y="301.2" font-size="6.2" font-weight="bold" text-anchor="middle" class="s" fill="#111" stroke="#111" stroke-width="0" >C</text>
<text x="556.1" y="307.9" font-size="3.6" font-weight="bold" text-anchor="middle" class="s" fill="#111" stroke="#111" stroke-width="0.45" >MAIN</text>
<text x="556.1" y="311.7" font-size="3.6" font-weight="bold" text-anchor="middle" class="s" fill="#111" stroke="#111" stroke-width="0.45" >BOARD</text>
<text x="556.1" y="315.5" font-size="3.6" font-weight="bold" text-anchor="middle" class="s" fill="#111" stroke="#111" stroke-width="0.45" >CN901</text>
<text x="554.1" y="320.5" font-size="4.6" font-weight="bold" text-anchor="middle" class="s" fill="#111" stroke="#111" stroke-width="0.4" textLength="22">(Page 18)</text>
<path d="M569.6 283.5L567.5 284.3L566.5 286.6L566.5 297.3L564.6 299.2L566.5 301.1L566.5 311.8L567.5 313.7L569.6 314.6" stroke="#111" stroke-width="0.9" fill="none" />
<rect x="570.3" y="282.8" width="6.3" height="31.5" fill="#111" stroke="none" stroke-width="0" rx="0"/>
<rect x="572.3" y="287.7" width="2.5" height="2.3" fill="#fff" stroke="none" stroke-width="0" rx="0"/>
<rect x="572.3" y="292.8" width="2.5" height="2.3" fill="#fff" stroke="none" stroke-width="0" rx="0"/>
<rect x="572.3" y="297.8" width="2.5" height="2.3" fill="#fff" stroke="none" stroke-width="0" rx="0"/>
<rect x="572.3" y="302.9" width="2.5" height="2.3" fill="#fff" stroke="none" stroke-width="0" rx="0"/>
<rect x="572.3" y="307.9" width="2.5" height="2.3" fill="#fff" stroke="none" stroke-width="0" rx="0"/>
<text x="579.3" y="285.1" font-size="3" font-weight="bold" text-anchor="middle" class="s" fill="#111" stroke="#111" stroke-width="0.25" >1</text>
<path d="M594.5 275.5L598.0 269.2L601.5 275.5Z" stroke="#111" stroke-width="0.5" fill="#111" />
<text x="614.4" y="267.3" font-size="2.6" font-weight="bold" text-anchor="middle" class="s" fill="#111" stroke="#111" stroke-width="0.25" >T901</text>
<text x="614.4" y="271.7" font-size="2.8" font-weight="bold" text-anchor="middle" class="s" fill="#111" stroke="#111" stroke-width="0.25" >POWER</text>
<text x="614.4" y="275.9" font-size="3.0" font-weight="bold" text-anchor="middle" class="s" fill="#111" stroke="#111" stroke-width="0.25" textLength="20">TRANSFORMER</text>
<rect x="602.7" y="278.6" width="22.8" height="40.4" fill="none" stroke="#111" stroke-width="1.2" rx="0"/>
<path d="M615.5 283.0L615.5 306.0" stroke="#111" stroke-width="1.4" fill="none" />
<circle cx="612.2" cy="285.5" r="1.50" fill="#111" stroke="none" stroke-width="0"/>
<circle cx="612.2" cy="287.7" r="1.50" fill="#111" stroke="none" stroke-width="0"/>
<circle cx="612.2" cy="289.9" r="1.50" fill="#111" stroke="none" stroke-width="0"/>
<circle cx="612.2" cy="292.1" r="1.50" fill="#111" stroke="none" stroke-width="0"/>
<circle cx="612.2" cy="294.3" r="1.50" fill="#111" stroke="none" stroke-width="0"/>
<circle cx="612.2" cy="296.5" r="1.50" fill="#111" stroke="none" stroke-width="0"/>
<circle cx="612.2" cy="298.7" r="1.50" fill="#111" stroke="none" stroke-width="0"/>
<circle cx="612.2" cy="300.9" r="1.50" fill="#111" stroke="none" stroke-width="0"/>
<circle cx="612.2" cy="303.1" r="1.50" fill="#111" stroke="none" stroke-width="0"/>
<circle cx="618.6" cy="285.5" r="1.30" fill="#111" stroke="none" stroke-width="0"/>
<circle cx="618.6" cy="287.7" r="1.30" fill="#111" stroke="none" stroke-width="0"/>
<circle cx="618.6" cy="289.9" r="1.30" fill="#111" stroke="none" stroke-width="0"/>
<circle cx="618.6" cy="292.1" r="1.30" fill="#111" stroke="none" stroke-width="0"/>
<circle cx="618.6" cy="294.3" r="1.30" fill="#111" stroke="none" stroke-width="0"/>
<circle cx="618.6" cy="296.5" r="1.30" fill="#111" stroke="none" stroke-width="0"/>
<circle cx="618.6" cy="298.7" r="1.30" fill="#111" stroke="none" stroke-width="0"/>
<rect x="609.0" y="304.0" width="4.5" height="4.0" fill="#111" stroke="none" stroke-width="0" rx="0"/>
<rect x="617.0" y="304.0" width="3.5" height="5.0" fill="#111" stroke="none" stroke-width="0" rx="0"/>
<path d="M576.6 293.5L609.8 293.5" stroke="#111" stroke-width="1.0" fill="none" />
<circle cx="593.5" cy="293.5" r="1.25" fill="#111" stroke="none" stroke-width="0"/>
<path d="M593.5 293.8L593.5 326.6" stroke="#111" stroke-width="1.0" fill="none" />
<path d="M593.4 326.5L651.4 326.5" stroke="#111" stroke-width="1.0" fill="none" />
<circle cx="651.5" cy="326.5" r="1.25" fill="#111" stroke="none" stroke-width="0"/>
<path d="M576.6 296.5L591.5 296.5" stroke="#111" stroke-width="1.0" fill="none" />
<path d="M591.5 296.9L591.5 301.3" stroke="#111" stroke-width="1.0" fill="none" />
<path d="M576.6 301.5L589.0 301.5" stroke="#111" stroke-width="1.0" fill="none" />
<path d="M589.5 301.3L589.5 308.9" stroke="#111" stroke-width="1.0" fill="none" />
<path d="M589.0 308.5L611.7 308.5" stroke="#111" stroke-width="1.0" fill="none" />
<path d="M576.6 306.5L587.1 306.5" stroke="#111" stroke-width="1.0" fill="none" />
<path d="M586.5 306.4L586.5 313.3" stroke="#111" stroke-width="1.0" fill="none" />
<path d="M586.7 313.5L630.6 313.5" stroke="#111" stroke-width="1.0" fill="none" />
<path d="M576.6 286.5L602.9 286.5" stroke="#111" stroke-width="1.0" fill="none" />
<path d="M631.5 290.0L631.5 314.0" stroke="#111" stroke-width="1.0" fill="none" />
<path d="M625.3 313.5L631.9 313.5" stroke="#111" stroke-width="1.0" fill="none" />
<rect x="577.7" y="317.1" width="8.2" height="3.2" fill="#111" stroke="none" stroke-width="0" rx="0"/>
<path d="M578.9 320.9L584.6 320.9L581.7 323.0Z" stroke="#111" stroke-width="0.4" fill="#111" />
<text x="577.7" y="314.6" font-size="2.6" font-weight="bold" text-anchor="start" class="s" fill="#111" stroke="#111" stroke-width="0.25" >1</text>
<rect x="616.4" y="321.5" width="13.6" height="3.5" fill="#111" stroke="none" stroke-width="0" rx="0"/>
<path d="M630.9 325.6L634.4 319.3L637.9 325.6Z" stroke="#111" stroke-width="0.5" fill="#111" />
<rect x="620.3" y="325.9" width="2.1" height="2.5" fill="#111" stroke="none" stroke-width="0" rx="0"/>
<path d="M651.4 326.5L657.7 326.5" stroke="#111" stroke-width="1.0" fill="none" />
<rect x="656.5" y="326.8" width="3.2" height="1.0" fill="#111" stroke="none" stroke-width="0" rx="0"/>
<text x="662.4" y="328.1" font-size="2.8" font-weight="bold" text-anchor="start" class="s" fill="#111" stroke="#111" stroke-width="0.25" >NP901</text>
<path d="M625.5 283.5L648.5 283.5" stroke="#111" stroke-width="1.0" fill="none" />
<path d="M628.5 283.5L628.5 288.5" stroke="#111" stroke-width="1.0" fill="none" />
<path d="M630.9 288.5L648.5 288.5" stroke="#111" stroke-width="1.0" fill="none" />
<path d="M630.5 288.5L630.5 313.7" stroke="#111" stroke-width="1.0" fill="none" />
<path d="M625.9 313.5L630.9 313.5" stroke="#111" stroke-width="1.0" fill="none" />
<path d="M625.9 299.5L648.5 299.5" stroke="#111" stroke-width="1.0" fill="none" />
<path d="M630.9 303.5L648.5 303.5" stroke="#111" stroke-width="1.0" fill="none" />
<rect x="648.5" y="281.3" width="6.3" height="10.1" fill="#111" stroke="none" stroke-width="0" rx="0"/>
<rect x="650.2" y="284.8" width="3.0" height="3.0" fill="#fff" stroke="none" stroke-width="0" rx="0"/>
<rect x="650.9" y="282.6" width="1.5" height="1.5" fill="#fff" stroke="none" stroke-width="0" rx="0"/>
<rect x="650.9" y="288.6" width="1.5" height="1.5" fill="#fff" stroke="none" stroke-width="0" rx="0"/>
<text x="646.4" y="282.8" font-size="2.6" font-weight="bold" text-anchor="start" class="s" fill="#111" stroke="#111" stroke-width="0.25" >2</text>
<text x="646.4" y="292.4" font-size="2.6" font-weight="bold" text-anchor="start" class="s" fill="#111" stroke="#111" stroke-width="0.25" >1</text>
<rect x="648.5" y="296.5" width="6.3" height="10.1" fill="#111" stroke="none" stroke-width="0" rx="0"/>
<rect x="650.2" y="300.0" width="3.0" height="3.0" fill="#fff" stroke="none" stroke-width="0" rx="0"/>
<rect x="650.9" y="297.7" width="1.5" height="1.5" fill="#fff" stroke="none" stroke-width="0" rx="0"/>
<rect x="650.9" y="303.8" width="1.5" height="1.5" fill="#fff" stroke="none" stroke-width="0" rx="0"/>
<text x="646.4" y="298.0" font-size="2.6" font-weight="bold" text-anchor="start" class="s" fill="#111" stroke="#111" stroke-width="0.25" >2</text>
<text x="646.4" y="307.5" font-size="2.6" font-weight="bold" text-anchor="start" class="s" fill="#111" stroke="#111" stroke-width="0.25" >1</text>
<text x="640.1" y="277.2" font-size="2.8" font-weight="bold" text-anchor="start" class="s" fill="#111" stroke="#111" stroke-width="0.25" >CN902</text>
<text x="638.8" y="312.1" font-size="2.8" font-weight="bold" text-anchor="start" class="s" fill="#111" stroke="#111" stroke-width="0.25" >CN903</text>
<path d="M654.9 283.5L673.1 283.5" stroke="#111" stroke-width="1.0" fill="none" />
<path d="M654.9 288.5L673.1 288.5" stroke="#111" stroke-width="1.0" fill="none" />
<path d="M668.7 296.1L665.6 296.1Q660.8 297.3 660.8 301.5Q660.8 305.8 668.7 306.8Z" fill="#fff" stroke="#111" stroke-width="1.0"/>
<path d="M654.9 299.5L661.2 299.5" stroke="#111" stroke-width="1.0" fill="none" />
<path d="M654.9 303.5L661.2 303.5" stroke="#111" stroke-width="1.0" fill="none" />
<rect x="668.7" y="298.0" width="3.4" height="1.8" fill="#111" stroke="none" stroke-width="0" rx="0"/>
<rect x="668.7" y="302.8" width="3.4" height="1.8" fill="#111" stroke="none" stroke-width="0" rx="0"/>
<text x="660.8" y="311.6" font-size="2.8" font-weight="bold" text-anchor="start" class="s" fill="#111" stroke="#111" stroke-width="0.25" >AC IN</text>
<path d="M653.2 318.4L656.7 311.8L660.3 318.4Z" stroke="#111" stroke-width="0.5" fill="#111" />
<path d="M676.5 253.5L732.5 253.5L732.5 311.5L676.5 311.5L676.5 253.5" stroke="#111" stroke-width="1.5" fill="none" stroke-dasharray="17 1.3 5.4 1.3"/>
<path d="M682.5 256.5L679.5 256.5L679.5 271.5L682.5 271.5" stroke="#111" stroke-width="1.6" fill="none" />
<path d="M723.5 256.5L725.5 256.5L725.5 271.5L723.5 271.5" stroke="#111" stroke-width="1.6" fill="none" />
<text x="683.7" y="263.0" font-size="7.85" font-weight="bold" class="m" fill="#111" stroke="#111" stroke-width="0.6" transform="translate(0 263.0) scale(1 1.08) translate(0 -263.0)" textLength="38.5" lengthAdjust="spacingAndGlyphs">POWER SW</text>
<text x="689.3" y="270.6" font-size="7.85" font-weight="bold" class="m" fill="#111" stroke="#111" stroke-width="0.6" transform="translate(0 270.6) scale(1 1.08) translate(0 -270.6)" textLength="24" lengthAdjust="spacingAndGlyphs">BOARD</text>
<rect x="673.2" y="281.3" width="6.3" height="10.1" fill="#111" stroke="none" stroke-width="0" rx="0"/>
<rect x="674.9" y="284.8" width="3.0" height="3.0" fill="#fff" stroke="none" stroke-width="0" rx="0"/>
<rect x="675.6" y="282.6" width="1.5" height="1.5" fill="#fff" stroke="none" stroke-width="0" rx="0"/>
<rect x="675.6" y="288.6" width="1.5" height="1.5" fill="#fff" stroke="none" stroke-width="0" rx="0"/>
<path d="M679.5 283.5L713.0 283.5" stroke="#111" stroke-width="1.0" fill="none" />
<path d="M679.5 288.5L713.0 288.5" stroke="#111" stroke-width="1.0" fill="none" />
<text x="680.2" y="282.2" font-size="2.6" font-weight="bold" text-anchor="start" class="s" fill="#111" stroke="#111" stroke-width="0.25" >2</text>
<text x="680.2" y="292.7" font-size="2.6" font-weight="bold" text-anchor="start" class="s" fill="#111" stroke="#111" stroke-width="0.25" >1</text>
<text x="679.2" y="296.5" font-size="2.6" font-weight="bold" text-anchor="start" class="s" fill="#111" stroke="#111" stroke-width="0.25" >CN904</text>
<path d="M694.3 281.6L697.8 275.3L701.4 281.6Z" stroke="#111" stroke-width="0.5" fill="#111" />
<rect x="704.1" y="275.9" width="7.6" height="6.3" fill="#111" stroke="none" stroke-width="0" rx="0"/>
<rect x="713.6" y="281.6" width="8.2" height="10.1" fill="#fff" stroke="#111" stroke-width="1.0" rx="0"/>
<path d="M720.3 282.8L724.3 288.5L721.2 288.5" stroke="#111" stroke-width="1.0" fill="none" />
<rect x="712.3" y="283.5" width="1.6" height="6.3" fill="#111" stroke="none" stroke-width="0" rx="0"/>
<path d="M707.7 301.7L711.1 295.4L714.5 301.7Z" stroke="#111" stroke-width="0.5" fill="#111" />
<rect x="716.5" y="296.1" width="10.3" height="8.2" fill="#fff" stroke="#111" stroke-width="1.0" rx="0"/>
<circle cx="721.5" cy="300.2" r="2.52" fill="#fff" stroke="#111" stroke-width="1.2"/>
<path d="M721.5 298.0L721.5 300.5" stroke="#111" stroke-width="1.2" fill="none" />
<rect x="719.3" y="292.7" width="5.0" height="1.8" fill="#111" stroke="none" stroke-width="0" rx="0"/>
<path d="M45.5 338.5L45.5 351.3Q45.5 353.5 47.7 353.5L411.3 353.5Q413.5 353.5 413.5 355.7L413.5 475.3Q413.5 477.5 411.3 477.5L88.5 477.5" stroke="#111" stroke-width="1.6" fill="none"/>
<path d="M365.5 340.0L365.5 353.9" stroke="#111" stroke-width="1.5" fill="none" />
<path d="M380.5 340.0L380.5 353.9" stroke="#111" stroke-width="1.5" fill="none" />
<path d="M369.5 340.5L369.5 343.0Q369.5 343.5 369.0 343.5L131.5 343.5" stroke="#111" stroke-width="1.3" fill="none"/>
<path d="M131.5 340.5L131.5 371.3Q131.5 373.5 133.7 373.5L406.3 373.5Q408.5 373.5 408.5 375.7L408.5 465.3Q408.5 467.5 406.3 467.5L103.5 467.5" stroke="#111" stroke-width="1.5" fill="none"/>
<path d="M375.5 340.5L375.5 339.5L144.5 339.5L144.5 330.5" stroke="#111" stroke-width="1.0" fill="none" />
<path d="M377.5 340.5L377.5 358.5L317.5 358.5" stroke="#111" stroke-width="1.0" fill="none" />
<path d="M430.5 335.5L430.5 368.5L123.5 368.5L123.5 335.5" stroke="#111" stroke-width="1.0" fill="none" />
<path d="M385.5 335.0L385.5 454.3" stroke="#111" stroke-width="1.0" fill="none" />
<path d="M385.2 454.5L63.7 454.5" stroke="#111" stroke-width="1.0" fill="none" />
<path d="M390.5 335.0L390.5 449.0" stroke="#111" stroke-width="1.0" fill="none" />
<path d="M390.4 449.5L364.8 449.5" stroke="#111" stroke-width="1.0" fill="none" />
<path d="M63.5 441.5L53.5 441.5L53.5 379.5L380.5 379.5L380.5 441.5L371.5 441.5" stroke="#111" stroke-width="1.3" fill="none" />
<path d="M70.0 441.5L84.0 441.5" stroke="#111" stroke-width="1.0" fill="none" />
<path d="M104.0 441.5L114.0 441.5" stroke="#111" stroke-width="1.0" fill="none" />
<path d="M350.0 441.5L364.8 441.5" stroke="#111" stroke-width="1.0" fill="none" />
<text x="231.0" y="398.5" font-size="2.6" font-weight="bold" text-anchor="middle" class="s" fill="#111" stroke="#111" stroke-width="0.25" >FL701</text>
<text x="233.0" y="403.2" font-size="3.0" font-weight="bold" text-anchor="middle" class="s" fill="#111" stroke="#111" stroke-width="0.25" textLength="52">FLUORESCENT INDICATOR TUBE</text>
<circle cx="317.5" cy="358.5" r="1.25" fill="#111" stroke="none" stroke-width="0"/>
<circle cx="325.5" cy="358.5" r="1.25" fill="#111" stroke="none" stroke-width="0"/>
<path d="M317.5 353.5L317.5 369.3" stroke="#111" stroke-width="1.0" fill="none" />
<path d="M325.5 358.5L325.5 369.3" stroke="#111" stroke-width="1.0" fill="none" />
<circle cx="317.5" cy="369.5" r="1.00" fill="#111" stroke="none" stroke-width="0"/>
<circle cx="325.5" cy="369.5" r="1.00" fill="#111" stroke="none" stroke-width="0"/>
<text transform="translate(312.1 367.8) rotate(-90)" font-size="5.0" font-weight="bold" class="s" fill="#111" stroke="#111" stroke-width="0.7" textLength="7.6" lengthAdjust="spacingAndGlyphs">0.1</text>
<text transform="translate(332.9 367.8) rotate(-90)" font-size="5.0" font-weight="bold" class="s" fill="#111" stroke="#111" stroke-width="0.7" textLength="7.6" lengthAdjust="spacingAndGlyphs">R712</text>
<rect x="315.2" y="362.7" width="4.0" height="2.8" fill="#111" stroke="none" stroke-width="0" rx="0"/>
<rect x="323.0" y="362.7" width="4.0" height="2.8" fill="#111" stroke="none" stroke-width="0" rx="0"/>
<path d="M176.5 316.9L176.5 353.9" stroke="#222" stroke-width="1.1" fill="none" />
<rect x="174.4" y="317.4" width="3.0" height="9.0" fill="#111" stroke="none" stroke-width="0" rx="0"/>
<path d="M174.1 321.0L178.3 317.6" stroke="#fff" stroke-width="0.5" fill="none" />
<circle cx="175.5" cy="350.6" r="1.30" fill="#111" stroke="none" stroke-width="0"/>
<path d="M181.5 316.9L181.5 353.9" stroke="#222" stroke-width="1.1" fill="none" />
<rect x="179.4" y="317.4" width="3.0" height="9.0" fill="#111" stroke="none" stroke-width="0" rx="0"/>
<path d="M179.1 321.0L183.3 317.6" stroke="#fff" stroke-width="0.5" fill="none" />
<circle cx="180.5" cy="350.6" r="1.30" fill="#111" stroke="none" stroke-width="0"/>
<path d="M186.5 316.9L186.5 353.9" stroke="#222" stroke-width="1.1" fill="none" />
<rect x="184.5" y="317.4" width="3.0" height="9.0" fill="#111" stroke="none" stroke-width="0" rx="0"/>
<path d="M184.2 321.0L188.4 317.6" stroke="#fff" stroke-width="0.5" fill="none" />
<circle cx="185.6" cy="350.6" r="1.30" fill="#111" stroke="none" stroke-width="0"/>
<path d="M191.5 316.9L191.5 353.9" stroke="#222" stroke-width="1.1" fill="none" />
<rect x="189.5" y="317.4" width="3.0" height="9.0" fill="#111" stroke="none" stroke-width="0" rx="0"/>
<path d="M189.2 321.0L193.4 317.6" stroke="#fff" stroke-width="0.5" fill="none" />
<circle cx="190.6" cy="350.6" r="1.30" fill="#111" stroke="none" stroke-width="0"/>
<path d="M196.5 316.9L196.5 353.9" stroke="#222" stroke-width="1.1" fill="none" />
<rect x="194.6" y="317.4" width="3.0" height="9.0" fill="#111" stroke="none" stroke-width="0" rx="0"/>
<path d="M194.3 321.0L198.5 317.6" stroke="#fff" stroke-width="0.5" fill="none" />
<circle cx="195.7" cy="350.6" r="1.30" fill="#111" stroke="none" stroke-width="0"/>
<path d="M201.5 316.9L201.5 353.9" stroke="#222" stroke-width="1.1" fill="none" />
<rect x="199.6" y="317.4" width="3.0" height="9.0" fill="#111" stroke="none" stroke-width="0" rx="0"/>
<path d="M199.3 321.0L203.5 317.6" stroke="#fff" stroke-width="0.5" fill="none" />
<rect x="202.5" y="346.2" width="3.0" height="5.6" fill="#fff" stroke="#111" stroke-width="0.5" rx="0"/>
<path d="M206.5 316.9L206.5 353.9" stroke="#222" stroke-width="1.1" fill="none" />
<rect x="204.7" y="317.4" width="3.0" height="9.0" fill="#111" stroke="none" stroke-width="0" rx="0"/>
<path d="M204.4 321.0L208.6 317.6" stroke="#fff" stroke-width="0.5" fill="none" />
<rect x="207.6" y="346.2" width="3.0" height="5.6" fill="#fff" stroke="#111" stroke-width="0.5" rx="0"/>
<path d="M212.5 316.9L212.5 353.9" stroke="#222" stroke-width="1.1" fill="none" />
<rect x="209.7" y="317.4" width="3.0" height="9.0" fill="#111" stroke="none" stroke-width="0" rx="0"/>
<path d="M209.4 321.0L213.6 317.6" stroke="#fff" stroke-width="0.5" fill="none" />
<rect x="212.6" y="346.2" width="3.0" height="5.6" fill="#fff" stroke="#111" stroke-width="0.5" rx="0"/>
<path d="M217.5 316.9L217.5 353.9" stroke="#222" stroke-width="1.1" fill="none" />
<rect x="214.8" y="317.4" width="3.0" height="9.0" fill="#111" stroke="none" stroke-width="0" rx="0"/>
<path d="M214.5 321.0L218.7 317.6" stroke="#fff" stroke-width="0.5" fill="none" />
<rect x="217.7" y="346.2" width="3.0" height="5.6" fill="#fff" stroke="#111" stroke-width="0.5" rx="0"/>
<path d="M222.5 316.9L222.5 353.9" stroke="#222" stroke-width="1.1" fill="none" />
<rect x="219.8" y="317.4" width="3.0" height="9.0" fill="#111" stroke="none" stroke-width="0" rx="0"/>
<path d="M219.5 321.0L223.7 317.6" stroke="#fff" stroke-width="0.5" fill="none" />
<rect x="222.7" y="346.2" width="3.0" height="5.6" fill="#fff" stroke="#111" stroke-width="0.5" rx="0"/>
<path d="M227.5 316.9L227.5 353.9" stroke="#222" stroke-width="1.1" fill="none" />
<rect x="224.8" y="317.4" width="3.0" height="9.0" fill="#111" stroke="none" stroke-width="0" rx="0"/>
<path d="M224.5 321.0L228.7 317.6" stroke="#fff" stroke-width="0.5" fill="none" />
<rect x="227.7" y="346.2" width="3.0" height="5.6" fill="#fff" stroke="#111" stroke-width="0.5" rx="0"/>
<path d="M232.5 316.9L232.5 353.9" stroke="#222" stroke-width="1.1" fill="none" />
<rect x="229.9" y="317.4" width="3.0" height="9.0" fill="#111" stroke="none" stroke-width="0" rx="0"/>
<path d="M229.6 321.0L233.8 317.6" stroke="#fff" stroke-width="0.5" fill="none" />
<rect x="232.8" y="346.2" width="3.0" height="5.6" fill="#fff" stroke="#111" stroke-width="0.5" rx="0"/>
<path d="M237.5 316.9L237.5 353.9" stroke="#222" stroke-width="1.1" fill="none" />
<rect x="234.9" y="317.4" width="3.0" height="9.0" fill="#111" stroke="none" stroke-width="0" rx="0"/>
<path d="M234.6 321.0L238.8 317.6" stroke="#fff" stroke-width="0.5" fill="none" />
<rect x="237.8" y="346.2" width="3.0" height="5.6" fill="#fff" stroke="#111" stroke-width="0.5" rx="0"/>
<path d="M242.5 316.9L242.5 353.9" stroke="#222" stroke-width="1.1" fill="none" />
<rect x="240.0" y="317.4" width="3.0" height="9.0" fill="#111" stroke="none" stroke-width="0" rx="0"/>
<path d="M239.7 321.0L243.9 317.6" stroke="#fff" stroke-width="0.5" fill="none" />
<rect x="242.9" y="346.2" width="3.0" height="5.6" fill="#fff" stroke="#111" stroke-width="0.5" rx="0"/>
<path d="M247.5 316.9L247.5 353.9" stroke="#222" stroke-width="1.1" fill="none" />
<rect x="245.0" y="317.4" width="3.0" height="9.0" fill="#111" stroke="none" stroke-width="0" rx="0"/>
<path d="M244.7 321.0L248.9 317.6" stroke="#fff" stroke-width="0.5" fill="none" />
<rect x="247.9" y="346.2" width="3.0" height="5.6" fill="#fff" stroke="#111" stroke-width="0.5" rx="0"/>
<path d="M252.5 316.9L252.5 353.9" stroke="#222" stroke-width="1.1" fill="none" />
<rect x="250.1" y="317.4" width="3.0" height="9.0" fill="#111" stroke="none" stroke-width="0" rx="0"/>
<path d="M249.8 321.0L254.0 317.6" stroke="#fff" stroke-width="0.5" fill="none" />
<rect x="253.0" y="346.2" width="3.0" height="5.6" fill="#fff" stroke="#111" stroke-width="0.5" rx="0"/>
<path d="M257.5 316.9L257.5 353.9" stroke="#222" stroke-width="1.1" fill="none" />
<rect x="255.1" y="317.4" width="3.0" height="9.0" fill="#111" stroke="none" stroke-width="0" rx="0"/>
<path d="M254.8 321.0L259.0 317.6" stroke="#fff" stroke-width="0.5" fill="none" />
<rect x="258.0" y="346.2" width="3.0" height="5.6" fill="#fff" stroke="#111" stroke-width="0.5" rx="0"/>
<path d="M262.5 316.9L262.5 353.9" stroke="#222" stroke-width="1.1" fill="none" />
<rect x="260.1" y="317.4" width="3.0" height="9.0" fill="#111" stroke="none" stroke-width="0" rx="0"/>
<path d="M259.8 321.0L264.0 317.6" stroke="#fff" stroke-width="0.5" fill="none" />
<rect x="263.0" y="346.2" width="3.0" height="5.6" fill="#fff" stroke="#111" stroke-width="0.5" rx="0"/>
<path d="M267.5 316.9L267.5 353.9" stroke="#222" stroke-width="1.1" fill="none" />
<rect x="265.2" y="317.4" width="3.0" height="9.0" fill="#111" stroke="none" stroke-width="0" rx="0"/>
<path d="M264.9 321.0L269.1 317.6" stroke="#fff" stroke-width="0.5" fill="none" />
<rect x="268.1" y="346.2" width="3.0" height="5.6" fill="#fff" stroke="#111" stroke-width="0.5" rx="0"/>
<path d="M272.5 316.9L272.5 353.9" stroke="#222" stroke-width="1.1" fill="none" />
<rect x="270.2" y="317.4" width="3.0" height="9.0" fill="#111" stroke="none" stroke-width="0" rx="0"/>
<path d="M269.9 321.0L274.1 317.6" stroke="#fff" stroke-width="0.5" fill="none" />
<rect x="273.1" y="346.2" width="3.0" height="5.6" fill="#fff" stroke="#111" stroke-width="0.5" rx="0"/>
<path d="M277.5 316.9L277.5 353.9" stroke="#222" stroke-width="1.1" fill="none" />
<rect x="275.3" y="317.4" width="3.0" height="9.0" fill="#111" stroke="none" stroke-width="0" rx="0"/>
<path d="M275.0 321.0L279.2 317.6" stroke="#fff" stroke-width="0.5" fill="none" />
<rect x="278.2" y="346.2" width="3.0" height="5.6" fill="#fff" stroke="#111" stroke-width="0.5" rx="0"/>
<path d="M282.5 316.9L282.5 353.9" stroke="#222" stroke-width="1.1" fill="none" />
<rect x="280.3" y="317.4" width="3.0" height="9.0" fill="#111" stroke="none" stroke-width="0" rx="0"/>
<path d="M280.0 321.0L284.2 317.6" stroke="#fff" stroke-width="0.5" fill="none" />
<rect x="283.2" y="346.2" width="3.0" height="5.6" fill="#fff" stroke="#111" stroke-width="0.5" rx="0"/>
<path d="M287.5 316.9L287.5 353.9" stroke="#222" stroke-width="1.1" fill="none" />
<rect x="285.4" y="317.4" width="3.0" height="9.0" fill="#111" stroke="none" stroke-width="0" rx="0"/>
<path d="M285.1 321.0L289.3 317.6" stroke="#fff" stroke-width="0.5" fill="none" />
<rect x="288.3" y="346.2" width="3.0" height="5.6" fill="#fff" stroke="#111" stroke-width="0.5" rx="0"/>
<path d="M292.5 316.9L292.5 353.9" stroke="#222" stroke-width="1.1" fill="none" />
<rect x="290.4" y="317.4" width="3.0" height="9.0" fill="#111" stroke="none" stroke-width="0" rx="0"/>
<path d="M290.1 321.0L294.3 317.6" stroke="#fff" stroke-width="0.5" fill="none" />
<rect x="293.3" y="346.2" width="3.0" height="5.6" fill="#fff" stroke="#111" stroke-width="0.5" rx="0"/>
<path d="M297.5 316.9L297.5 353.9" stroke="#222" stroke-width="1.1" fill="none" />
<rect x="295.5" y="317.4" width="3.0" height="9.0" fill="#111" stroke="none" stroke-width="0" rx="0"/>
<path d="M295.2 321.0L299.4 317.6" stroke="#fff" stroke-width="0.5" fill="none" />
<rect x="298.4" y="346.2" width="3.0" height="5.6" fill="#fff" stroke="#111" stroke-width="0.5" rx="0"/>
<path d="M302.5 316.9L302.5 353.9" stroke="#222" stroke-width="1.1" fill="none" />
<rect x="300.5" y="317.4" width="3.0" height="9.0" fill="#111" stroke="none" stroke-width="0" rx="0"/>
<path d="M300.2 321.0L304.4 317.6" stroke="#fff" stroke-width="0.5" fill="none" />
<rect x="303.4" y="346.2" width="3.0" height="5.6" fill="#fff" stroke="#111" stroke-width="0.5" rx="0"/>
<path d="M307.5 316.9L307.5 353.9" stroke="#222" stroke-width="1.1" fill="none" />
<rect x="305.5" y="317.4" width="3.0" height="9.0" fill="#111" stroke="none" stroke-width="0" rx="0"/>
<path d="M305.2 321.0L309.4 317.6" stroke="#fff" stroke-width="0.5" fill="none" />
<rect x="308.4" y="346.2" width="3.0" height="5.6" fill="#fff" stroke="#111" stroke-width="0.5" rx="0"/>
<path d="M312.5 316.9L312.5 353.9" stroke="#222" stroke-width="1.1" fill="none" />
<rect x="310.6" y="317.4" width="3.0" height="9.0" fill="#111" stroke="none" stroke-width="0" rx="0"/>
<path d="M310.3 321.0L314.5 317.6" stroke="#fff" stroke-width="0.5" fill="none" />
<rect x="313.5" y="346.2" width="3.0" height="5.6" fill="#fff" stroke="#111" stroke-width="0.5" rx="0"/>
<path d="M317.5 316.9L317.5 353.9" stroke="#222" stroke-width="1.1" fill="none" />
<rect x="315.6" y="317.4" width="3.0" height="9.0" fill="#111" stroke="none" stroke-width="0" rx="0"/>
<path d="M315.3 321.0L319.5 317.6" stroke="#fff" stroke-width="0.5" fill="none" />
<rect x="318.5" y="346.2" width="3.0" height="5.6" fill="#fff" stroke="#111" stroke-width="0.5" rx="0"/>
<path d="M322.5 316.9L322.5 353.9" stroke="#222" stroke-width="1.1" fill="none" />
<rect x="320.7" y="317.4" width="3.0" height="9.0" fill="#111" stroke="none" stroke-width="0" rx="0"/>
<path d="M320.4 321.0L324.6 317.6" stroke="#fff" stroke-width="0.5" fill="none" />
<rect x="323.6" y="346.2" width="3.0" height="5.6" fill="#fff" stroke="#111" stroke-width="0.5" rx="0"/>
<rect x="174.5" y="351.0" width="150.0" height="3.8" fill="#111" stroke="none" stroke-width="0" rx="0"/>
<circle cx="63.7" cy="441.9" r="2.10" fill="#fff" stroke="#111" stroke-width="0.9"/>
<path d="M62.6 441.2L64.8 441.2L63.7 443.2" stroke="#111" stroke-width="0.4" fill="none" />
<circle cx="69.6" cy="441.9" r="2.10" fill="#fff" stroke="#111" stroke-width="0.9"/>
<path d="M68.5 441.2L70.7 441.2L69.6 443.2" stroke="#111" stroke-width="0.4" fill="none" />
<circle cx="364.8" cy="441.9" r="2.10" fill="#fff" stroke="#111" stroke-width="0.9"/>
<path d="M363.7 441.2L365.9 441.2L364.8 443.2" stroke="#111" stroke-width="0.4" fill="none" />
<circle cx="371.1" cy="441.9" r="2.10" fill="#fff" stroke="#111" stroke-width="0.9"/>
<path d="M370.0 441.2L372.2 441.2L371.1 443.2" stroke="#111" stroke-width="0.4" fill="none" />
<path d="M63.5 444.0L63.5 454.3" stroke="#111" stroke-width="1.0" fill="none" />
<path d="M69.5 444.0L69.5 454.3" stroke="#111" stroke-width="1.0" fill="none" />
<circle cx="69.5" cy="454.5" r="1.25" fill="#111" stroke="none" stroke-width="0"/>
<path d="M364.5 444.0L364.5 449.0" stroke="#111" stroke-width="1.0" fill="none" />
<path d="M371.5 444.0L371.5 449.0" stroke="#111" stroke-width="1.0" fill="none" />
<circle cx="371.5" cy="449.5" r="1.25" fill="#111" stroke="none" stroke-width="0"/>
<rect x="62.7" y="435.0" width="2.0" height="1.0" fill="#111" stroke="none" stroke-width="0" rx="0"/>
<rect x="68.6" y="435.0" width="2.0" height="1.0" fill="#111" stroke="none" stroke-width="0" rx="0"/>
<rect x="363.8" y="435.0" width="2.0" height="1.0" fill="#111" stroke="none" stroke-width="0" rx="0"/>
<rect x="370.1" y="435.0" width="2.0" height="1.0" fill="#111" stroke="none" stroke-width="0" rx="0"/>
<path d="M84.1 441.5L104.3 441.5" stroke="#111" stroke-width="1.0" fill="none" />
<path d="M114.1 441.5L350.0 441.5" stroke="#111" stroke-width="1.0" fill="none" />
<circle cx="84.1" cy="441.9" r="2.10" fill="#fff" stroke="#111" stroke-width="0.9"/>
<path d="M83.0 441.2L85.2 441.2L84.1 443.2" stroke="#111" stroke-width="0.4" fill="none" />
<circle cx="89.1" cy="441.9" r="2.10" fill="#fff" stroke="#111" stroke-width="0.9"/>
<path d="M88.0 441.2L90.2 441.2L89.1 443.2" stroke="#111" stroke-width="0.4" fill="none" />
<path d="M89.5 444.0L89.5 477.0" stroke="#222" stroke-width="1.1" fill="none" />
<rect x="85.7" y="469.2" width="3.2" height="6.2" fill="#111" stroke="none" stroke-width="0" rx="0"/>
<rect x="87.6" y="433.0" width="3.0" height="3.4" fill="#111" stroke="none" stroke-width="0" rx="0"/>
<circle cx="94.2" cy="441.9" r="2.10" fill="#fff" stroke="#111" stroke-width="0.9"/>
<path d="M93.1 441.2L95.3 441.2L94.2 443.2" stroke="#111" stroke-width="0.4" fill="none" />
<path d="M94.5 444.0L94.5 477.0" stroke="#222" stroke-width="1.1" fill="none" />
<rect x="90.8" y="469.2" width="3.2" height="6.2" fill="#111" stroke="none" stroke-width="0" rx="0"/>
<rect x="92.7" y="433.0" width="3.0" height="3.4" fill="#111" stroke="none" stroke-width="0" rx="0"/>
<circle cx="99.2" cy="441.9" r="2.10" fill="#fff" stroke="#111" stroke-width="0.9"/>
<path d="M98.1 441.2L100.3 441.2L99.2 443.2" stroke="#111" stroke-width="0.4" fill="none" />
<path d="M99.5 444.0L99.5 477.0" stroke="#222" stroke-width="1.1" fill="none" />
<rect x="95.8" y="469.2" width="3.2" height="6.2" fill="#111" stroke="none" stroke-width="0" rx="0"/>
<rect x="97.7" y="433.0" width="3.0" height="3.4" fill="#111" stroke="none" stroke-width="0" rx="0"/>
<circle cx="104.3" cy="441.9" r="2.10" fill="#fff" stroke="#111" stroke-width="0.9"/>
<path d="M103.2 441.2L105.4 441.2L104.3 443.2" stroke="#111" stroke-width="0.4" fill="none" />
<path d="M104.5 444.0L104.5 467.0" stroke="#222" stroke-width="1.1" fill="none" />
<rect x="100.7" y="458.0" width="3.0" height="7.0" fill="#111" stroke="none" stroke-width="0" rx="0"/>
<rect x="102.8" y="431.8" width="3.0" height="4.6" fill="#111" stroke="none" stroke-width="0" rx="0"/>
<circle cx="114.1" cy="441.9" r="2.10" fill="#fff" stroke="#111" stroke-width="0.9"/>
<path d="M113.0 441.2L115.2 441.2L114.1 443.2" stroke="#111" stroke-width="0.4" fill="none" />
<path d="M114.5 444.0L114.5 467.0" stroke="#222" stroke-width="1.1" fill="none" />
<rect x="110.5" y="458.0" width="3.0" height="7.0" fill="#111" stroke="none" stroke-width="0" rx="0"/>
<rect x="112.6" y="431.8" width="3.0" height="4.6" fill="#111" stroke="none" stroke-width="0" rx="0"/>
<circle cx="119.1" cy="441.9" r="2.10" fill="#fff" stroke="#111" stroke-width="0.9"/>
<path d="M118.0 441.2L120.2 441.2L119.1 443.2" stroke="#111" stroke-width="0.4" fill="none" />
<path d="M119.5 444.0L119.5 477.0" stroke="#222" stroke-width="1.1" fill="none" />
<rect x="115.7" y="469.2" width="3.2" height="6.2" fill="#111" stroke="none" stroke-width="0" rx="0"/>
<rect x="117.6" y="431.8" width="3.0" height="4.6" fill="#111" stroke="none" stroke-width="0" rx="0"/>
<circle cx="124.1" cy="441.9" r="2.10" fill="#fff" stroke="#111" stroke-width="0.9"/>
<path d="M123.0 441.2L125.2 441.2L124.1 443.2" stroke="#111" stroke-width="0.4" fill="none" />
<path d="M124.5 444.0L124.5 477.0" stroke="#222" stroke-width="1.1" fill="none" />
<rect x="120.7" y="469.2" width="3.2" height="6.2" fill="#111" stroke="none" stroke-width="0" rx="0"/>
<rect x="122.6" y="433.0" width="3.0" height="3.4" fill="#111" stroke="none" stroke-width="0" rx="0"/>
<circle cx="129.2" cy="441.9" r="2.10" fill="#fff" stroke="#111" stroke-width="0.9"/>
<path d="M128.1 441.2L130.3 441.2L129.2 443.2" stroke="#111" stroke-width="0.4" fill="none" />
<path d="M129.5 444.0L129.5 477.0" stroke="#222" stroke-width="1.1" fill="none" />
<rect x="125.8" y="469.2" width="3.2" height="6.2" fill="#111" stroke="none" stroke-width="0" rx="0"/>
<rect x="127.7" y="433.0" width="3.0" height="3.4" fill="#111" stroke="none" stroke-width="0" rx="0"/>
<circle cx="134.2" cy="441.9" r="2.10" fill="#fff" stroke="#111" stroke-width="0.9"/>
<path d="M133.1 441.2L135.3 441.2L134.2 443.2" stroke="#111" stroke-width="0.4" fill="none" />
<path d="M134.5 444.0L134.5 467.0" stroke="#222" stroke-width="1.1" fill="none" />
<rect x="130.6" y="458.0" width="3.0" height="7.0" fill="#111" stroke="none" stroke-width="0" rx="0"/>
<rect x="132.7" y="431.8" width="3.0" height="4.6" fill="#111" stroke="none" stroke-width="0" rx="0"/>
<circle cx="139.2" cy="441.9" r="2.10" fill="#fff" stroke="#111" stroke-width="0.9"/>
<path d="M138.1 441.2L140.3 441.2L139.2 443.2" stroke="#111" stroke-width="0.4" fill="none" />
<path d="M139.5 444.0L139.5 477.0" stroke="#222" stroke-width="1.1" fill="none" />
<rect x="135.8" y="469.2" width="3.2" height="6.2" fill="#111" stroke="none" stroke-width="0" rx="0"/>
<rect x="137.7" y="433.0" width="3.0" height="3.4" fill="#111" stroke="none" stroke-width="0" rx="0"/>
<circle cx="144.2" cy="441.9" r="2.10" fill="#fff" stroke="#111" stroke-width="0.9"/>
<path d="M143.1 441.2L145.3 441.2L144.2 443.2" stroke="#111" stroke-width="0.4" fill="none" />
<path d="M144.5 444.0L144.5 477.0" stroke="#222" stroke-width="1.1" fill="none" />
<rect x="140.8" y="469.2" width="3.2" height="6.2" fill="#111" stroke="none" stroke-width="0" rx="0"/>
<rect x="142.7" y="433.0" width="3.0" height="3.4" fill="#111" stroke="none" stroke-width="0" rx="0"/>
<circle cx="149.2" cy="441.9" r="2.10" fill="#444" stroke="#111" stroke-width="1.1"/>
<path d="M149.5 444.0L149.5 467.0" stroke="#222" stroke-width="1.1" fill="none" />
<rect x="145.6" y="458.0" width="3.0" height="7.0" fill="#111" stroke="none" stroke-width="0" rx="0"/>
<rect x="147.7" y="431.8" width="3.0" height="4.6" fill="#111" stroke="none" stroke-width="0" rx="0"/>
<circle cx="154.3" cy="441.9" r="2.10" fill="#444" stroke="#111" stroke-width="1.1"/>
<path d="M154.5 444.0L154.5 477.0" stroke="#222" stroke-width="1.1" fill="none" />
<rect x="150.9" y="469.2" width="3.2" height="6.2" fill="#111" stroke="none" stroke-width="0" rx="0"/>
<rect x="152.8" y="433.0" width="3.0" height="3.4" fill="#111" stroke="none" stroke-width="0" rx="0"/>
<circle cx="159.3" cy="441.9" r="2.10" fill="#444" stroke="#111" stroke-width="1.1"/>
<path d="M159.5 444.0L159.5 477.0" stroke="#222" stroke-width="1.1" fill="none" />
<rect x="155.9" y="469.2" width="3.2" height="6.2" fill="#111" stroke="none" stroke-width="0" rx="0"/>
<rect x="157.8" y="433.0" width="3.0" height="3.4" fill="#111" stroke="none" stroke-width="0" rx="0"/>
<circle cx="164.3" cy="441.9" r="2.10" fill="#444" stroke="#111" stroke-width="1.1"/>
<path d="M164.5 444.0L164.5 467.0" stroke="#222" stroke-width="1.1" fill="none" />
<rect x="160.7" y="458.0" width="3.0" height="7.0" fill="#111" stroke="none" stroke-width="0" rx="0"/>
<rect x="162.8" y="431.8" width="3.0" height="4.6" fill="#111" stroke="none" stroke-width="0" rx="0"/>
<circle cx="169.3" cy="441.9" r="2.10" fill="#444" stroke="#111" stroke-width="1.1"/>
<path d="M169.5 444.0L169.5 477.0" stroke="#222" stroke-width="1.1" fill="none" />
<rect x="165.9" y="469.2" width="3.2" height="6.2" fill="#111" stroke="none" stroke-width="0" rx="0"/>
<rect x="167.8" y="433.0" width="3.0" height="3.4" fill="#111" stroke="none" stroke-width="0" rx="0"/>
<circle cx="174.3" cy="441.9" r="2.10" fill="#444" stroke="#111" stroke-width="1.1"/>
<path d="M174.5 444.0L174.5 477.0" stroke="#222" stroke-width="1.1" fill="none" />
<rect x="170.9" y="469.2" width="3.2" height="6.2" fill="#111" stroke="none" stroke-width="0" rx="0"/>
<rect x="172.8" y="433.0" width="3.0" height="3.4" fill="#111" stroke="none" stroke-width="0" rx="0"/>
<circle cx="179.4" cy="441.9" r="2.10" fill="#444" stroke="#111" stroke-width="1.1"/>
<path d="M179.5 444.0L179.5 477.0" stroke="#222" stroke-width="1.1" fill="none" />
<rect x="176.0" y="469.2" width="3.2" height="6.2" fill="#111" stroke="none" stroke-width="0" rx="0"/>
<rect x="177.9" y="431.8" width="3.0" height="4.6" fill="#111" stroke="none" stroke-width="0" rx="0"/>
<circle cx="184.4" cy="441.9" r="2.10" fill="#444" stroke="#111" stroke-width="1.1"/>
<path d="M184.5 444.0L184.5 467.0" stroke="#222" stroke-width="1.1" fill="none" />
<rect x="180.8" y="458.0" width="3.0" height="7.0" fill="#111" stroke="none" stroke-width="0" rx="0"/>
<rect x="182.9" y="431.8" width="3.0" height="4.6" fill="#111" stroke="none" stroke-width="0" rx="0"/>
<circle cx="189.4" cy="441.9" r="2.10" fill="#444" stroke="#111" stroke-width="1.1"/>
<path d="M189.5 444.0L189.5 477.0" stroke="#222" stroke-width="1.1" fill="none" />
<rect x="186.0" y="469.2" width="3.2" height="6.2" fill="#111" stroke="none" stroke-width="0" rx="0"/>
<rect x="187.9" y="433.0" width="3.0" height="3.4" fill="#111" stroke="none" stroke-width="0" rx="0"/>
<circle cx="194.4" cy="441.9" r="2.10" fill="#444" stroke="#111" stroke-width="1.1"/>
<path d="M194.5 444.0L194.5 477.0" stroke="#222" stroke-width="1.1" fill="none" />
<rect x="191.0" y="469.2" width="3.2" height="6.2" fill="#111" stroke="none" stroke-width="0" rx="0"/>
<rect x="192.9" y="433.0" width="3.0" height="3.4" fill="#111" stroke="none" stroke-width="0" rx="0"/>
<circle cx="199.4" cy="441.9" r="2.10" fill="#444" stroke="#111" stroke-width="1.1"/>
<path d="M199.5 444.0L199.5 467.0" stroke="#222" stroke-width="1.1" fill="none" />
<rect x="195.8" y="458.0" width="3.0" height="7.0" fill="#111" stroke="none" stroke-width="0" rx="0"/>
<rect x="197.9" y="431.8" width="3.0" height="4.6" fill="#111" stroke="none" stroke-width="0" rx="0"/>
<circle cx="204.5" cy="441.9" r="2.10" fill="#444" stroke="#111" stroke-width="1.1"/>
<path d="M204.5 444.0L204.5 477.0" stroke="#222" stroke-width="1.1" fill="none" />
<rect x="201.1" y="469.2" width="3.2" height="6.2" fill="#111" stroke="none" stroke-width="0" rx="0"/>
<rect x="203.0" y="433.0" width="3.0" height="3.4" fill="#111" stroke="none" stroke-width="0" rx="0"/>
<circle cx="209.5" cy="441.9" r="2.10" fill="#444" stroke="#111" stroke-width="1.1"/>
<path d="M209.5 444.0L209.5 477.0" stroke="#222" stroke-width="1.1" fill="none" />
<rect x="206.1" y="469.2" width="3.2" height="6.2" fill="#111" stroke="none" stroke-width="0" rx="0"/>
<rect x="208.0" y="431.8" width="3.0" height="4.6" fill="#111" stroke="none" stroke-width="0" rx="0"/>
<circle cx="214.5" cy="441.9" r="2.10" fill="#444" stroke="#111" stroke-width="1.1"/>
<path d="M214.5 444.0L214.5 467.0" stroke="#222" stroke-width="1.1" fill="none" />
<rect x="210.9" y="458.0" width="3.0" height="7.0" fill="#111" stroke="none" stroke-width="0" rx="0"/>
<rect x="213.0" y="431.8" width="3.0" height="4.6" fill="#111" stroke="none" stroke-width="0" rx="0"/>
<circle cx="219.5" cy="441.9" r="2.10" fill="#444" stroke="#111" stroke-width="1.1"/>
<path d="M219.5 444.0L219.5 477.0" stroke="#222" stroke-width="1.1" fill="none" />
<rect x="216.1" y="469.2" width="3.2" height="6.2" fill="#111" stroke="none" stroke-width="0" rx="0"/>
<rect x="218.0" y="433.0" width="3.0" height="3.4" fill="#111" stroke="none" stroke-width="0" rx="0"/>
<circle cx="224.5" cy="441.9" r="2.10" fill="#444" stroke="#111" stroke-width="1.1"/>
<path d="M224.5 444.0L224.5 477.0" stroke="#222" stroke-width="1.1" fill="none" />
<rect x="221.1" y="469.2" width="3.2" height="6.2" fill="#111" stroke="none" stroke-width="0" rx="0"/>
<rect x="223.0" y="433.0" width="3.0" height="3.4" fill="#111" stroke="none" stroke-width="0" rx="0"/>
<circle cx="229.6" cy="441.9" r="2.10" fill="#444" stroke="#111" stroke-width="1.1"/>
<path d="M229.5 444.0L229.5 477.0" stroke="#222" stroke-width="1.1" fill="none" />
<rect x="226.2" y="469.2" width="3.2" height="6.2" fill="#111" stroke="none" stroke-width="0" rx="0"/>
<rect x="228.1" y="433.0" width="3.0" height="3.4" fill="#111" stroke="none" stroke-width="0" rx="0"/>
<circle cx="234.6" cy="441.9" r="2.10" fill="#444" stroke="#111" stroke-width="1.1"/>
<path d="M234.5 444.0L234.5 467.0" stroke="#222" stroke-width="1.1" fill="none" />
<rect x="231.0" y="458.0" width="3.0" height="7.0" fill="#111" stroke="none" stroke-width="0" rx="0"/>
<rect x="233.1" y="431.8" width="3.0" height="4.6" fill="#111" stroke="none" stroke-width="0" rx="0"/>
<circle cx="239.6" cy="441.9" r="2.10" fill="#444" stroke="#111" stroke-width="1.1"/>
<path d="M239.5 444.0L239.5 477.0" stroke="#222" stroke-width="1.1" fill="none" />
<rect x="236.2" y="469.2" width="3.2" height="6.2" fill="#111" stroke="none" stroke-width="0" rx="0"/>
<rect x="238.1" y="431.8" width="3.0" height="4.6" fill="#111" stroke="none" stroke-width="0" rx="0"/>
<circle cx="244.6" cy="441.9" r="2.10" fill="#444" stroke="#111" stroke-width="1.1"/>
<path d="M244.5 444.0L244.5 477.0" stroke="#222" stroke-width="1.1" fill="none" />
<rect x="241.2" y="469.2" width="3.2" height="6.2" fill="#111" stroke="none" stroke-width="0" rx="0"/>
<rect x="243.1" y="433.0" width="3.0" height="3.4" fill="#111" stroke="none" stroke-width="0" rx="0"/>
<circle cx="249.6" cy="441.9" r="2.10" fill="#444" stroke="#111" stroke-width="1.1"/>
<path d="M249.5 444.0L249.5 467.0" stroke="#222" stroke-width="1.1" fill="none" />
<rect x="246.0" y="458.0" width="3.0" height="7.0" fill="#111" stroke="none" stroke-width="0" rx="0"/>
<rect x="248.1" y="431.8" width="3.0" height="4.6" fill="#111" stroke="none" stroke-width="0" rx="0"/>
<circle cx="254.7" cy="441.9" r="2.10" fill="#444" stroke="#111" stroke-width="1.1"/>
<path d="M254.5 444.0L254.5 477.0" stroke="#222" stroke-width="1.1" fill="none" />
<rect x="251.3" y="469.2" width="3.2" height="6.2" fill="#111" stroke="none" stroke-width="0" rx="0"/>
<rect x="253.2" y="433.0" width="3.0" height="3.4" fill="#111" stroke="none" stroke-width="0" rx="0"/>
<circle cx="259.7" cy="441.9" r="2.10" fill="#444" stroke="#111" stroke-width="1.1"/>
<path d="M259.5 444.0L259.5 477.0" stroke="#222" stroke-width="1.1" fill="none" />
<rect x="256.3" y="469.2" width="3.2" height="6.2" fill="#111" stroke="none" stroke-width="0" rx="0"/>
<rect x="258.2" y="433.0" width="3.0" height="3.4" fill="#111" stroke="none" stroke-width="0" rx="0"/>
<circle cx="264.7" cy="441.9" r="2.10" fill="#444" stroke="#111" stroke-width="1.1"/>
<path d="M264.5 444.0L264.5 467.0" stroke="#222" stroke-width="1.1" fill="none" />
<rect x="261.1" y="458.0" width="3.0" height="7.0" fill="#111" stroke="none" stroke-width="0" rx="0"/>
<rect x="263.2" y="431.8" width="3.0" height="4.6" fill="#111" stroke="none" stroke-width="0" rx="0"/>
<circle cx="269.7" cy="441.9" r="2.10" fill="#444" stroke="#111" stroke-width="1.1"/>
<path d="M269.5 444.0L269.5 477.0" stroke="#222" stroke-width="1.1" fill="none" />
<rect x="266.3" y="469.2" width="3.2" height="6.2" fill="#111" stroke="none" stroke-width="0" rx="0"/>
<rect x="268.2" y="431.8" width="3.0" height="4.6" fill="#111" stroke="none" stroke-width="0" rx="0"/>
<circle cx="274.7" cy="441.9" r="2.10" fill="#444" stroke="#111" stroke-width="1.1"/>
<path d="M274.5 444.0L274.5 477.0" stroke="#222" stroke-width="1.1" fill="none" />
<rect x="271.3" y="469.2" width="3.2" height="6.2" fill="#111" stroke="none" stroke-width="0" rx="0"/>
<rect x="273.2" y="433.0" width="3.0" height="3.4" fill="#111" stroke="none" stroke-width="0" rx="0"/>
<circle cx="279.8" cy="441.9" r="2.10" fill="#444" stroke="#111" stroke-width="1.1"/>
<path d="M279.5 444.0L279.5 477.0" stroke="#222" stroke-width="1.1" fill="none" />
<rect x="276.4" y="469.2" width="3.2" height="6.2" fill="#111" stroke="none" stroke-width="0" rx="0"/>
<rect x="278.3" y="433.0" width="3.0" height="3.4" fill="#111" stroke="none" stroke-width="0" rx="0"/>
<circle cx="284.8" cy="441.9" r="2.10" fill="#444" stroke="#111" stroke-width="1.1"/>
<path d="M284.5 444.0L284.5 467.0" stroke="#222" stroke-width="1.1" fill="none" />
<rect x="281.2" y="458.0" width="3.0" height="7.0" fill="#111" stroke="none" stroke-width="0" rx="0"/>
<rect x="283.3" y="431.8" width="3.0" height="4.6" fill="#111" stroke="none" stroke-width="0" rx="0"/>
<circle cx="289.8" cy="441.9" r="2.10" fill="#444" stroke="#111" stroke-width="1.1"/>
<path d="M289.5 444.0L289.5 477.0" stroke="#222" stroke-width="1.1" fill="none" />
<rect x="286.4" y="469.2" width="3.2" height="6.2" fill="#111" stroke="none" stroke-width="0" rx="0"/>
<rect x="288.3" y="433.0" width="3.0" height="3.4" fill="#111" stroke="none" stroke-width="0" rx="0"/>
<circle cx="294.8" cy="441.9" r="2.10" fill="#444" stroke="#111" stroke-width="1.1"/>
<path d="M294.5 444.0L294.5 477.0" stroke="#222" stroke-width="1.1" fill="none" />
<rect x="291.4" y="469.2" width="3.2" height="6.2" fill="#111" stroke="none" stroke-width="0" rx="0"/>
<rect x="293.3" y="433.0" width="3.0" height="3.4" fill="#111" stroke="none" stroke-width="0" rx="0"/>
<circle cx="299.8" cy="441.9" r="2.10" fill="#444" stroke="#111" stroke-width="1.1"/>
<path d="M299.5 444.0L299.5 467.0" stroke="#222" stroke-width="1.1" fill="none" />
<rect x="296.2" y="458.0" width="3.0" height="7.0" fill="#111" stroke="none" stroke-width="0" rx="0"/>
<rect x="298.3" y="431.8" width="3.0" height="4.6" fill="#111" stroke="none" stroke-width="0" rx="0"/>
<circle cx="304.9" cy="441.9" r="2.10" fill="#444" stroke="#111" stroke-width="1.1"/>
<path d="M304.5 444.0L304.5 477.0" stroke="#222" stroke-width="1.1" fill="none" />
<rect x="301.5" y="469.2" width="3.2" height="6.2" fill="#111" stroke="none" stroke-width="0" rx="0"/>
<rect x="303.4" y="433.0" width="3.0" height="3.4" fill="#111" stroke="none" stroke-width="0" rx="0"/>
<circle cx="309.9" cy="441.9" r="2.10" fill="#444" stroke="#111" stroke-width="1.1"/>
<path d="M309.5 444.0L309.5 477.0" stroke="#222" stroke-width="1.1" fill="none" />
<rect x="306.5" y="469.2" width="3.2" height="6.2" fill="#111" stroke="none" stroke-width="0" rx="0"/>
<rect x="308.4" y="433.0" width="3.0" height="3.4" fill="#111" stroke="none" stroke-width="0" rx="0"/>
<circle cx="314.9" cy="441.9" r="2.10" fill="#444" stroke="#111" stroke-width="1.1"/>
<path d="M314.5 444.0L314.5 467.0" stroke="#222" stroke-width="1.1" fill="none" />
<rect x="311.3" y="458.0" width="3.0" height="7.0" fill="#111" stroke="none" stroke-width="0" rx="0"/>
<rect x="313.4" y="431.8" width="3.0" height="4.6" fill="#111" stroke="none" stroke-width="0" rx="0"/>
<circle cx="319.9" cy="441.9" r="2.10" fill="#444" stroke="#111" stroke-width="1.1"/>
<path d="M319.5 444.0L319.5 477.0" stroke="#222" stroke-width="1.1" fill="none" />
<rect x="316.5" y="469.2" width="3.2" height="6.2" fill="#111" stroke="none" stroke-width="0" rx="0"/>
<rect x="318.4" y="433.0" width="3.0" height="3.4" fill="#111" stroke="none" stroke-width="0" rx="0"/>
<circle cx="324.9" cy="441.9" r="2.10" fill="#444" stroke="#111" stroke-width="1.1"/>
<path d="M324.5 444.0L324.5 477.0" stroke="#222" stroke-width="1.1" fill="none" />
<rect x="321.5" y="469.2" width="3.2" height="6.2" fill="#111" stroke="none" stroke-width="0" rx="0"/>
<rect x="323.4" y="433.0" width="3.0" height="3.4" fill="#111" stroke="none" stroke-width="0" rx="0"/>
<circle cx="330.0" cy="441.9" r="2.10" fill="#444" stroke="#111" stroke-width="1.1"/>
<path d="M329.5 444.0L329.5 467.0" stroke="#222" stroke-width="1.1" fill="none" />
<rect x="326.4" y="458.0" width="3.0" height="7.0" fill="#111" stroke="none" stroke-width="0" rx="0"/>
<rect x="328.5" y="431.8" width="3.0" height="4.6" fill="#111" stroke="none" stroke-width="0" rx="0"/>
<circle cx="335.0" cy="441.9" r="2.10" fill="#444" stroke="#111" stroke-width="1.1"/>
<path d="M334.5 444.0L334.5 477.0" stroke="#222" stroke-width="1.1" fill="none" />
<rect x="331.6" y="469.2" width="3.2" height="6.2" fill="#111" stroke="none" stroke-width="0" rx="0"/>
<rect x="333.5" y="433.0" width="3.0" height="3.4" fill="#111" stroke="none" stroke-width="0" rx="0"/>
<circle cx="340.0" cy="441.9" r="2.10" fill="#444" stroke="#111" stroke-width="1.1"/>
<path d="M340.5 444.0L340.5 477.0" stroke="#222" stroke-width="1.1" fill="none" />
<rect x="336.6" y="469.2" width="3.2" height="6.2" fill="#111" stroke="none" stroke-width="0" rx="0"/>
<rect x="338.5" y="433.0" width="3.0" height="3.4" fill="#111" stroke="none" stroke-width="0" rx="0"/>
<circle cx="345.0" cy="441.9" r="2.10" fill="#444" stroke="#111" stroke-width="1.1"/>
<path d="M345.5 444.0L345.5 477.0" stroke="#222" stroke-width="1.1" fill="none" />
<rect x="341.6" y="469.2" width="3.2" height="6.2" fill="#111" stroke="none" stroke-width="0" rx="0"/>
<rect x="343.5" y="433.0" width="3.0" height="3.4" fill="#111" stroke="none" stroke-width="0" rx="0"/>
<circle cx="350.0" cy="441.9" r="2.10" fill="#444" stroke="#111" stroke-width="1.1"/>
<path d="M139.5 150.2L139.5 258.6" stroke="#111" stroke-width="1.0" fill="none" />
<circle cx="139.5" cy="188.5" r="1.25" fill="#111" stroke="none" stroke-width="0"/>
<circle cx="139.5" cy="223.5" r="1.25" fill="#111" stroke="none" stroke-width="0"/>
<path d="M139.5 188.5L151.5 188.5L151.5 204.5" stroke="#111" stroke-width="1.0" fill="none" />
<path d="M139.3 223.5L160.0 223.5" stroke="#111" stroke-width="1.0" fill="none" />
<text x="142.3" y="183.4" font-size="3.6" font-weight="bold" text-anchor="start" class="s" fill="#111" stroke="#111" stroke-width="0.6" textLength="7">C702</text>
<text x="142.3" y="186.4" font-size="3.6" font-weight="bold" text-anchor="start" class="s" fill="#111" stroke="#111" stroke-width="0.6" textLength="7">0.01</text>
<path d="M139.3 258.5L160.0 258.5" stroke="#111" stroke-width="1.0" fill="none" />
<path d="M124.0 263.5L160.2 263.5" stroke="#111" stroke-width="1.0" fill="none" />
<circle cx="123.5" cy="263.5" r="1.25" fill="#111" stroke="none" stroke-width="0"/>
<path d="M124.0 268.5L160.2 268.5" stroke="#111" stroke-width="1.0" fill="none" />
<circle cx="123.5" cy="268.5" r="1.25" fill="#111" stroke="none" stroke-width="0"/>
<path d="M124.0 273.5L160.2 273.5" stroke="#111" stroke-width="1.0" fill="none" />
<circle cx="123.5" cy="273.5" r="1.25" fill="#111" stroke="none" stroke-width="0"/>
<path d="M128.7 278.5L160.2 278.5" stroke="#111" stroke-width="1.0" fill="none" />
<circle cx="128.5" cy="278.5" r="1.25" fill="#111" stroke="none" stroke-width="0"/>
<text transform="translate(140.2 274.3) rotate(-90)" font-size="4.6" font-weight="bold" class="s" fill="#111" stroke="#111" stroke-width="0.6">RB701</text>
<text transform="translate(135.4 273.3) rotate(-90)" font-size="4.4" font-weight="bold" class="s" fill="#111" stroke="#111" stroke-width="0.6">10kx4</text>
<path d="M173.5 180.6L176.1 184.2" stroke="#111" stroke-width="1.3" fill="none" />
<path d="M177.5 317.2L179.7 320.0" stroke="#111" stroke-width="1.0" fill="none" />
<path d="M178.5 180.6L181.1 184.2" stroke="#111" stroke-width="1.3" fill="none" />
<path d="M182.5 317.2L184.7 320.0" stroke="#111" stroke-width="1.0" fill="none" />
<path d="M183.6 180.6L186.2 184.2" stroke="#111" stroke-width="1.3" fill="none" />
<path d="M187.6 317.2L189.8 320.0" stroke="#111" stroke-width="1.0" fill="none" />
<path d="M188.6 180.6L191.2 184.2" stroke="#111" stroke-width="1.3" fill="none" />
<path d="M192.6 317.2L194.8 320.0" stroke="#111" stroke-width="1.0" fill="none" />
<path d="M193.7 180.6L196.3 184.2" stroke="#111" stroke-width="1.3" fill="none" />
<path d="M197.7 317.2L199.9 320.0" stroke="#111" stroke-width="1.0" fill="none" />
<path d="M198.7 180.6L201.3 184.2" stroke="#111" stroke-width="1.3" fill="none" />
<path d="M202.7 317.2L204.9 320.0" stroke="#111" stroke-width="1.0" fill="none" />
<path d="M203.8 180.6L206.4 184.2" stroke="#111" stroke-width="1.3" fill="none" />
<path d="M207.8 317.2L210.0 320.0" stroke="#111" stroke-width="1.0" fill="none" />
<path d="M208.8 180.6L211.4 184.2" stroke="#111" stroke-width="1.3" fill="none" />
<path d="M212.8 317.2L215.0 320.0" stroke="#111" stroke-width="1.0" fill="none" />
<path d="M213.9 180.6L216.5 184.2" stroke="#111" stroke-width="1.3" fill="none" />
<path d="M217.9 317.2L220.1 320.0" stroke="#111" stroke-width="1.0" fill="none" />
<path d="M218.9 180.6L221.5 184.2" stroke="#111" stroke-width="1.3" fill="none" />
<path d="M222.9 317.2L225.1 320.0" stroke="#111" stroke-width="1.0" fill="none" />
<path d="M223.9 180.6L226.5 184.2" stroke="#111" stroke-width="1.3" fill="none" />
<path d="M227.9 317.2L230.1 320.0" stroke="#111" stroke-width="1.0" fill="none" />
<path d="M229.0 180.6L231.6 184.2" stroke="#111" stroke-width="1.3" fill="none" />
<path d="M233.0 317.2L235.2 320.0" stroke="#111" stroke-width="1.0" fill="none" />
<path d="M234.0 180.6L236.6 184.2" stroke="#111" stroke-width="1.3" fill="none" />
<path d="M238.0 317.2L240.2 320.0" stroke="#111" stroke-width="1.0" fill="none" />
<path d="M239.1 180.6L241.7 184.2" stroke="#111" stroke-width="1.3" fill="none" />
<path d="M243.1 317.2L245.3 320.0" stroke="#111" stroke-width="1.0" fill="none" />
<path d="M244.1 180.6L246.7 184.2" stroke="#111" stroke-width="1.3" fill="none" />
<path d="M248.1 317.2L250.3 320.0" stroke="#111" stroke-width="1.0" fill="none" />
<path d="M249.2 180.6L251.8 184.2" stroke="#111" stroke-width="1.3" fill="none" />
<path d="M253.2 317.2L255.4 320.0" stroke="#111" stroke-width="1.0" fill="none" />
<path d="M254.2 180.6L256.8 184.2" stroke="#111" stroke-width="1.3" fill="none" />
<path d="M258.2 317.2L260.4 320.0" stroke="#111" stroke-width="1.0" fill="none" />
<path d="M259.2 180.6L261.8 184.2" stroke="#111" stroke-width="1.3" fill="none" />
<path d="M263.2 317.2L265.4 320.0" stroke="#111" stroke-width="1.0" fill="none" />
<path d="M264.3 180.6L266.9 184.2" stroke="#111" stroke-width="1.3" fill="none" />
<path d="M268.3 317.2L270.5 320.0" stroke="#111" stroke-width="1.0" fill="none" />
<path d="M269.3 180.6L271.9 184.2" stroke="#111" stroke-width="1.3" fill="none" />
<path d="M273.3 317.2L275.5 320.0" stroke="#111" stroke-width="1.0" fill="none" />
<path d="M278.4 317.2L280.6 320.0" stroke="#111" stroke-width="1.0" fill="none" />
<path d="M283.4 317.2L285.6 320.0" stroke="#111" stroke-width="1.0" fill="none" />
<path d="M288.5 317.2L290.7 320.0" stroke="#111" stroke-width="1.0" fill="none" />
<path d="M293.5 317.2L295.7 320.0" stroke="#111" stroke-width="1.0" fill="none" />
<path d="M298.6 317.2L300.8 320.0" stroke="#111" stroke-width="1.0" fill="none" />
<path d="M303.6 317.2L305.8 320.0" stroke="#111" stroke-width="1.0" fill="none" />
<path d="M308.6 317.2L310.8 320.0" stroke="#111" stroke-width="1.0" fill="none" />
<path d="M313.7 317.2L315.9 320.0" stroke="#111" stroke-width="1.0" fill="none" />
<path d="M318.7 317.2L320.9 320.0" stroke="#111" stroke-width="1.0" fill="none" />
<path d="M323.8 317.2L326.0 320.0" stroke="#111" stroke-width="1.0" fill="none" />
<path d="M155.2 200.9L159.4 203.1" stroke="#111" stroke-width="1.3" fill="none" />
<path d="M340.6 203.9L343.6 201.5" stroke="#111" stroke-width="1.1" fill="none" />
<path d="M155.2 205.9L159.4 208.1" stroke="#111" stroke-width="1.3" fill="none" />
<path d="M340.6 208.9L343.6 206.5" stroke="#111" stroke-width="1.1" fill="none" />
<path d="M155.2 211.0L159.4 213.2" stroke="#111" stroke-width="1.3" fill="none" />
<path d="M340.6 214.0L343.6 211.6" stroke="#111" stroke-width="1.1" fill="none" />
<path d="M155.2 216.0L159.4 218.2" stroke="#111" stroke-width="1.3" fill="none" />
<path d="M340.6 219.0L343.6 216.6" stroke="#111" stroke-width="1.1" fill="none" />
<path d="M155.2 221.1L159.4 223.3" stroke="#111" stroke-width="1.3" fill="none" />
<path d="M340.6 224.1L343.6 221.7" stroke="#111" stroke-width="1.1" fill="none" />
<path d="M155.2 226.1L159.4 228.3" stroke="#111" stroke-width="1.3" fill="none" />
<path d="M340.6 229.1L343.6 226.7" stroke="#111" stroke-width="1.1" fill="none" />
<path d="M155.2 231.2L159.4 233.4" stroke="#111" stroke-width="1.3" fill="none" />
<path d="M340.6 234.2L343.6 231.8" stroke="#111" stroke-width="1.1" fill="none" />
<path d="M155.2 236.2L159.4 238.4" stroke="#111" stroke-width="1.3" fill="none" />
<path d="M340.6 239.2L343.6 236.8" stroke="#111" stroke-width="1.1" fill="none" />
<path d="M155.2 241.3L159.4 243.5" stroke="#111" stroke-width="1.3" fill="none" />
<path d="M340.6 244.3L343.6 241.9" stroke="#111" stroke-width="1.1" fill="none" />
<path d="M155.2 246.3L159.4 248.5" stroke="#111" stroke-width="1.3" fill="none" />
<path d="M340.6 249.3L343.6 246.9" stroke="#111" stroke-width="1.1" fill="none" />
<path d="M155.2 251.3L159.4 253.5" stroke="#111" stroke-width="1.3" fill="none" />
<path d="M340.6 254.3L343.6 251.9" stroke="#111" stroke-width="1.1" fill="none" />
<path d="M155.2 256.4L159.4 258.6" stroke="#111" stroke-width="1.3" fill="none" />
<path d="M340.6 259.4L343.6 257.0" stroke="#111" stroke-width="1.1" fill="none" />
<path d="M155.2 261.4L159.4 263.6" stroke="#111" stroke-width="1.3" fill="none" />
<path d="M340.6 264.4L343.6 262.0" stroke="#111" stroke-width="1.1" fill="none" />
<path d="M155.2 266.5L159.4 268.7" stroke="#111" stroke-width="1.3" fill="none" />
<path d="M340.6 269.5L343.6 267.1" stroke="#111" stroke-width="1.1" fill="none" />
<path d="M155.2 271.5L159.4 273.7" stroke="#111" stroke-width="1.3" fill="none" />
<path d="M340.6 274.5L343.6 272.1" stroke="#111" stroke-width="1.1" fill="none" />
<path d="M155.2 276.6L159.4 278.8" stroke="#111" stroke-width="1.3" fill="none" />
<path d="M340.6 279.6L343.6 277.2" stroke="#111" stroke-width="1.1" fill="none" />
<path d="M155.2 281.6L159.4 283.8" stroke="#111" stroke-width="1.3" fill="none" />
<path d="M340.6 284.6L343.6 282.2" stroke="#111" stroke-width="1.1" fill="none" />
<path d="M155.2 286.6L159.4 288.8" stroke="#111" stroke-width="1.3" fill="none" />
<path d="M340.6 289.6L343.6 287.2" stroke="#111" stroke-width="1.1" fill="none" />
<path d="M155.2 291.7L159.4 293.9" stroke="#111" stroke-width="1.3" fill="none" />
<path d="M340.6 294.7L343.6 292.3" stroke="#111" stroke-width="1.1" fill="none" />
<path d="M155.2 296.7L159.4 298.9" stroke="#111" stroke-width="1.3" fill="none" />
<path d="M340.6 299.7L343.6 297.3" stroke="#111" stroke-width="1.1" fill="none" />
<text x="29.3" y="479.8" font-size="2.8" font-weight="bold" text-anchor="start" class="s" fill="#111" stroke="#111" stroke-width="0.25" >14</text>
</svg>
</body></html>
